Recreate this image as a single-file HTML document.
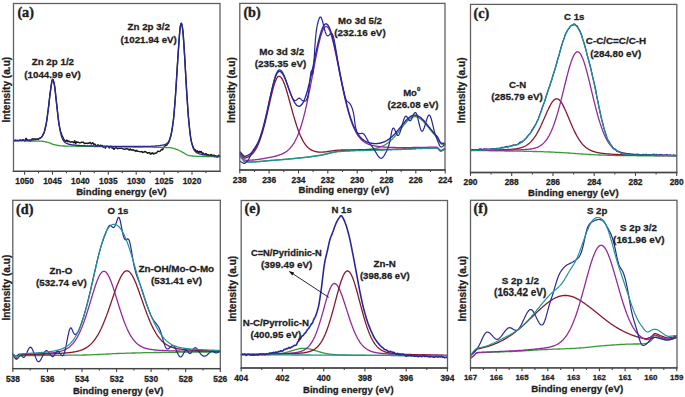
<!DOCTYPE html>
<html><head><meta charset="utf-8"><style>
html,body{margin:0;padding:0;background:#fff;width:685px;height:397px;overflow:hidden}
svg{display:block}
text{font-family:"Liberation Sans",sans-serif;font-weight:bold;fill:#1e1e1e;stroke:#1e1e1e;stroke-width:0.28px}
text.ser{font-family:"Liberation Serif",serif;stroke-width:0.4px}
</style></head><body>
<svg width="685" height="397" viewBox="0 0 685 397">
<rect width="685" height="397" fill="#fff"/>
<path d="M13.8,140.9L14.3,141.1L14.8,140.5L15.3,140.1L15.8,140.7L16.3,140.8L16.8,140.4L17.3,140.7L17.8,140.9L18.3,140.7L18.8,140.7L19.3,140.5L19.8,140.1L20.3,140.0L20.8,140.2L21.3,140.6L21.8,140.5L22.3,140.0L22.8,139.7L23.3,140.0L23.8,140.2L24.3,140.5L24.8,141.2L25.3,140.4L25.8,138.5L26.3,138.4L26.8,139.5L27.3,140.0L27.8,140.2L28.3,140.9L28.8,141.0L29.3,139.9L29.8,140.1L30.3,141.2L30.8,141.1L31.3,140.3L31.8,139.3L32.3,138.8L32.8,139.5L33.3,139.5L33.8,138.8L34.3,138.9L34.8,139.0L35.3,138.9L35.8,139.1L36.3,139.3L36.8,139.1L37.3,139.0L37.8,139.4L38.3,139.6L38.8,138.8L39.3,138.3L39.8,138.3L40.3,138.1L40.8,137.7L41.3,137.1L41.8,136.9L42.3,136.0L42.8,134.6L43.3,134.0L43.8,133.4L44.3,131.9L44.8,129.5L45.3,127.5L45.8,125.6L46.3,123.1L46.8,120.4L47.3,116.8L47.8,112.3L48.3,109.0L48.8,105.4L49.3,100.3L49.8,95.7L50.3,92.1L50.8,88.6L51.3,85.1L51.8,81.7L52.3,79.5L52.8,79.2L53.3,80.3L53.8,82.3L54.3,84.4L54.8,86.7L55.3,91.0L55.8,96.6L56.3,101.3L56.8,105.3L57.3,110.0L57.8,114.8L58.3,119.1L58.8,122.9L59.3,125.8L59.8,128.1L60.3,130.7L60.8,132.5L61.3,133.2L61.8,134.9L62.3,136.3L62.8,136.9L63.3,138.1L63.8,139.1L64.3,139.9L64.8,140.4L65.3,141.0L65.8,141.6L66.3,141.1L66.8,140.1L67.3,140.5L67.8,141.7L68.3,141.6L68.8,141.0L69.3,141.4L69.8,141.8L70.3,142.2L70.8,142.1L71.3,141.7L71.8,141.7L72.3,141.8L72.8,141.9L73.3,142.7L73.8,142.9L74.3,141.2L74.8,140.7L75.3,142.8L75.8,143.8L76.3,142.3L76.8,141.7L77.3,142.3L77.8,142.2L78.3,142.1L78.8,142.5L79.3,142.8L79.8,142.8L80.3,142.8L80.8,142.6L81.3,142.3L81.8,142.3L82.3,142.3L82.8,142.4L83.3,142.1L83.8,142.5L84.3,143.6L84.8,143.5L85.3,143.3L85.8,143.3L86.3,143.1L86.8,143.1L87.3,143.5L87.8,143.3L88.3,143.0L88.8,143.3L89.3,143.0L89.8,142.4L90.3,142.5L90.8,143.5L91.3,144.0L91.8,143.5L92.3,142.9L92.8,142.7L93.3,143.6L93.8,144.5L94.3,144.1L94.8,144.0L95.3,144.6L95.8,145.3L96.3,145.9L96.8,146.2L97.3,145.5L97.8,144.8L98.3,145.0L98.8,145.4L99.3,145.6L99.8,145.7L100.3,145.3L100.8,145.2L101.3,145.7L101.8,145.6L102.3,145.4L102.8,146.6L103.3,147.3L103.8,147.0L104.3,146.4L104.8,146.8L105.3,148.2L105.8,147.6L106.3,146.1L106.8,146.1L107.3,146.3L107.8,146.2L108.3,146.6L108.8,147.3L109.3,148.0L109.8,147.4L110.3,146.1L110.8,146.2L111.3,146.9L111.8,147.8L112.3,148.2L112.8,147.8L113.3,147.9L113.8,149.2L114.3,149.3L114.8,148.1L115.3,147.8L115.8,147.8L116.3,147.6L116.8,148.1L117.3,148.7L117.8,148.3L118.3,148.1L118.8,148.5L119.3,148.3L119.8,148.2L120.3,148.3L120.8,148.2L121.3,148.0L121.8,148.2L122.3,148.6L122.8,148.8L123.3,148.9L123.8,149.2L124.3,149.4L124.8,149.3L125.3,149.0L125.8,148.8L126.3,148.6L126.8,148.8L127.3,149.2L127.8,149.0L128.3,149.1L128.8,149.9L129.3,150.1L129.8,149.3L130.3,148.9L130.8,149.9L131.3,150.1L131.8,149.8L132.3,150.2L132.8,149.9L133.3,149.7L133.8,150.3L134.3,150.7L134.8,150.4L135.3,150.5L135.8,151.4L136.3,150.8L136.8,150.3L137.3,151.1L137.8,151.4L138.3,151.4L138.8,151.4L139.3,151.6L139.8,151.6L140.3,151.6L140.8,151.9L141.3,151.7L141.8,151.5L142.3,152.1L142.8,152.5L143.3,152.1L143.8,152.0L144.3,152.1L144.8,151.5L145.3,151.6L145.8,152.1L146.3,152.1L146.8,152.5L147.3,153.2L147.8,153.3L148.3,152.7L148.8,152.6L149.3,152.5L149.8,152.9L150.3,154.2L150.8,153.7L151.3,153.1L151.8,153.8L152.3,153.3L152.8,152.8L153.3,153.7L153.8,154.1L154.3,153.5L154.8,153.3L155.3,153.3L155.8,152.9L156.3,153.0L156.8,152.8L157.3,151.8L157.8,151.1L158.3,151.1L158.8,151.3L159.3,151.5L159.8,151.4L160.3,151.0L160.8,150.5L161.3,149.7L161.8,149.2L162.3,149.7L162.8,149.7L163.3,148.3L163.8,147.2L164.3,146.8L164.8,146.2L165.3,145.6L165.8,145.4L166.3,145.3L166.8,145.1L167.3,144.3L167.8,143.6L168.3,143.0L168.8,142.1L169.3,141.2L169.8,139.2L170.3,137.2L170.8,135.7L171.3,133.5L171.8,130.7L172.3,127.7L172.8,124.5L173.3,121.2L173.8,116.4L174.3,110.2L174.8,104.1L175.3,97.7L175.8,90.5L176.3,82.5L176.8,74.5L177.3,66.6L177.8,58.8L178.3,51.7L178.8,44.4L179.3,37.3L179.8,31.0L180.3,26.4L180.8,24.1L181.3,23.4L181.8,24.6L182.3,26.9L182.8,30.0L183.3,35.6L183.8,42.9L184.3,50.7L184.8,58.7L185.3,67.5L185.8,76.9L186.3,85.8L186.8,93.7L187.3,100.9L187.8,108.5L188.3,115.7L188.8,121.0L189.3,125.7L189.8,131.1L190.3,135.6L190.8,138.7L191.3,141.2L191.8,143.1L192.3,144.6L192.8,146.1L193.3,147.4L193.8,148.7L194.3,149.5L194.8,149.4L195.3,149.8L195.8,150.7L196.3,151.6L196.8,151.4L197.3,150.8L197.8,151.5L198.3,152.7L198.8,152.6L199.3,151.3L199.8,151.6L200.3,152.3L200.8,151.5L201.3,151.5L201.8,152.8L202.3,153.3L202.8,153.0L203.3,153.2L203.8,153.9L204.3,154.3L204.8,154.3L205.3,154.1L205.8,153.6L206.3,153.7L206.8,154.5L207.3,155.2L207.8,155.0L208.3,154.6L208.8,155.2L209.3,155.6L209.8,155.2L210.3,155.0L210.8,154.6L211.3,154.4L211.8,155.2L212.3,155.5L212.8,155.5L213.3,155.6L213.8,155.1L214.3,155.1L214.8,156.2L215.3,156.6L215.8,156.0L216.3,156.4L216.8,157.1L217.3,157.2L217.8,156.9L218.3,155.6L218.8,155.2L219.3,156.1L219.8,156.2" fill="none" stroke="#1a1a1a" stroke-width="1.4" stroke-linejoin="round" stroke-linecap="round" />
<path d="M13.8,140.8L14.3,140.8L14.8,140.8L15.3,140.8L15.8,140.8L16.3,140.8L16.8,140.8L17.3,140.8L17.8,140.9L18.3,140.9L18.8,140.9L19.3,140.9L19.8,140.9L20.3,140.9L20.8,140.9L21.3,140.9L21.8,140.9L22.3,140.9L22.8,140.9L23.3,140.9L23.8,140.9L24.3,140.9L24.8,140.9L25.3,140.9L25.8,141.0L26.3,141.0L26.8,141.0L27.3,141.0L27.8,141.0L28.3,141.0L28.8,141.0L29.3,141.0L29.8,141.0L30.3,141.0L30.8,141.0L31.3,141.0L31.8,141.0L32.3,141.0L32.8,141.0L33.3,141.0L33.8,141.0L34.3,141.0L34.8,141.0L35.3,141.0L35.8,141.0L36.3,141.0L36.8,141.1L37.3,141.1L37.8,141.1L38.3,141.1L38.8,141.1L39.3,141.1L39.8,141.1L40.3,141.1L40.8,141.1L41.3,141.2L41.8,141.2L42.3,141.3L42.8,141.3L43.3,141.4L43.8,141.5L44.3,141.6L44.8,141.7L45.3,141.8L45.8,141.9L46.3,142.0L46.8,142.1L47.3,142.2L47.8,142.3L48.3,142.5L48.8,142.6L49.3,142.8L49.8,143.0L50.3,143.2L50.8,143.4L51.3,143.6L51.8,143.9L52.3,144.1L52.8,144.3L53.3,144.4L53.8,144.6L54.3,144.7L54.8,144.8L55.3,144.9L55.8,145.0L56.3,145.1L56.8,145.2L57.3,145.3L57.8,145.4L58.3,145.5L58.8,145.6L59.3,145.7L59.8,145.7L60.3,145.8L60.8,145.8L61.3,145.9L61.8,145.9L62.3,145.9L62.8,145.9L63.3,146.0L63.8,146.0L64.3,146.0L64.8,146.0L65.3,146.0L65.8,146.1L66.3,146.1L66.8,146.1L67.3,146.1L67.8,146.1L68.3,146.1L68.8,146.1L69.3,146.1L69.8,146.1L70.3,146.2L70.8,146.2L71.3,146.2L71.8,146.2L72.3,146.2L72.8,146.2L73.3,146.2L73.8,146.2L74.3,146.2L74.8,146.2L75.3,146.2L75.8,146.2L76.3,146.3L76.8,146.3L77.3,146.3L77.8,146.3L78.3,146.3L78.8,146.3L79.3,146.3L79.8,146.3L80.3,146.3L80.8,146.3L81.3,146.3L81.8,146.3L82.3,146.3L82.8,146.3L83.3,146.3L83.8,146.3L84.3,146.3L84.8,146.3L85.3,146.3L85.8,146.4L86.3,146.4L86.8,146.4L87.3,146.4L87.8,146.4L88.3,146.4L88.8,146.4L89.3,146.4L89.8,146.4L90.3,146.4L90.8,146.4L91.3,146.4L91.8,146.4L92.3,146.4L92.8,146.4L93.3,146.4L93.8,146.4L94.3,146.5L94.8,146.5L95.3,146.5L95.8,146.5L96.3,146.5L96.8,146.5L97.3,146.5L97.8,146.5L98.3,146.5L98.8,146.5L99.3,146.5L99.8,146.5L100.3,146.5L100.8,146.5L101.3,146.5L101.8,146.5L102.3,146.5L102.8,146.6L103.3,146.6L103.8,146.6L104.3,146.6L104.8,146.6L105.3,146.6L105.8,146.6L106.3,146.6L106.8,146.6L107.3,146.6L107.8,146.6L108.3,146.6L108.8,146.6L109.3,146.6L109.8,146.6L110.3,146.6L110.8,146.6L111.3,146.7L111.8,146.7L112.3,146.7L112.8,146.7L113.3,146.7L113.8,146.7L114.3,146.7L114.8,146.7L115.3,146.7L115.8,146.7L116.3,146.7L116.8,146.7L117.3,146.7L117.8,146.7L118.3,146.7L118.8,146.7L119.3,146.8L119.8,146.8L120.3,146.8L120.8,146.8L121.3,146.8L121.8,146.8L122.3,146.8L122.8,146.8L123.3,146.8L123.8,146.8L124.3,146.8L124.8,146.8L125.3,146.8L125.8,146.8L126.3,146.8L126.8,146.9L127.3,146.9L127.8,146.9L128.3,146.9L128.8,146.9L129.3,146.9L129.8,146.9L130.3,146.9L130.8,146.9L131.3,146.9L131.8,146.9L132.3,146.9L132.8,146.9L133.3,146.9L133.8,147.0L134.3,147.0L134.8,147.0L135.3,147.0L135.8,147.0L136.3,147.0L136.8,147.0L137.3,147.0L137.8,147.0L138.3,147.0L138.8,147.0L139.3,147.0L139.8,147.0L140.3,147.0L140.8,147.1L141.3,147.1L141.8,147.1L142.3,147.1L142.8,147.1L143.3,147.1L143.8,147.1L144.3,147.1L144.8,147.1L145.3,147.1L145.8,147.1L146.3,147.1L146.8,147.1L147.3,147.2L147.8,147.2L148.3,147.2L148.8,147.2L149.3,147.2L149.8,147.2L150.3,147.2L150.8,147.2L151.3,147.2L151.8,147.2L152.3,147.2L152.8,147.3L153.3,147.3L153.8,147.3L154.3,147.3L154.8,147.3L155.3,147.3L155.8,147.3L156.3,147.3L156.8,147.3L157.3,147.3L157.8,147.4L158.3,147.4L158.8,147.4L159.3,147.4L159.8,147.4L160.3,147.4L160.8,147.4L161.3,147.4L161.8,147.4L162.3,147.4L162.8,147.5L163.3,147.5L163.8,147.5L164.3,147.5L164.8,147.5L165.3,147.5L165.8,147.5L166.3,147.5L166.8,147.6L167.3,147.6L167.8,147.6L168.3,147.6L168.8,147.6L169.3,147.7L169.8,147.7L170.3,147.7L170.8,147.8L171.3,147.8L171.8,147.9L172.3,148.0L172.8,148.2L173.3,148.3L173.8,148.4L174.3,148.6L174.8,148.8L175.3,148.9L175.8,149.1L176.3,149.3L176.8,149.4L177.3,149.6L177.8,149.8L178.3,150.0L178.8,150.3L179.3,150.5L179.8,150.8L180.3,151.0L180.8,151.3L181.3,151.6L181.8,151.9L182.3,152.1L182.8,152.4L183.3,152.7L183.8,152.9L184.3,153.2L184.8,153.6L185.3,153.9L185.8,154.2L186.3,154.5L186.8,154.8L187.3,155.0L187.8,155.3L188.3,155.4L188.8,155.6L189.3,155.6L189.8,155.7L190.3,155.8L190.8,155.8L191.3,155.9L191.8,155.9L192.3,156.0L192.8,156.0L193.3,156.1L193.8,156.1L194.3,156.1L194.8,156.2L195.3,156.2L195.8,156.2L196.3,156.2L196.8,156.3L197.3,156.3L197.8,156.3L198.3,156.3L198.8,156.4L199.3,156.4L199.8,156.4L200.3,156.4L200.8,156.4L201.3,156.4L201.8,156.5L202.3,156.5L202.8,156.5L203.3,156.5L203.8,156.5L204.3,156.5L204.8,156.6L205.3,156.6L205.8,156.6L206.3,156.6L206.8,156.6L207.3,156.6L207.8,156.6L208.3,156.6L208.8,156.7L209.3,156.7L209.8,156.7L210.3,156.7L210.8,156.7L211.3,156.7L211.8,156.7L212.3,156.7L212.8,156.7L213.3,156.7L213.8,156.8L214.3,156.8L214.8,156.8L215.3,156.8L215.8,156.8L216.3,156.8L216.8,156.8L217.3,156.8L217.8,156.8L218.3,156.8L218.8,156.8L219.3,156.8L219.8,156.8" fill="none" stroke="#389a38" stroke-width="1.3" stroke-linejoin="round" stroke-linecap="round" />
<path d="M13.8,140.4L14.3,140.4L14.8,140.4L15.3,140.4L15.8,140.4L16.3,140.4L16.8,140.4L17.3,140.4L17.8,140.4L18.3,140.4L18.8,140.4L19.3,140.4L19.8,140.4L20.3,140.4L20.8,140.4L21.3,140.4L21.8,140.4L22.3,140.3L22.8,140.3L23.3,140.3L23.8,140.3L24.3,140.3L24.8,140.3L25.3,140.3L25.8,140.2L26.3,140.2L26.8,140.2L27.3,140.2L27.8,140.2L28.3,140.1L28.8,140.1L29.3,140.1L29.8,140.0L30.3,140.0L30.8,140.0L31.3,139.9L31.8,139.9L32.3,139.8L32.8,139.8L33.3,139.7L33.8,139.7L34.3,139.6L34.8,139.5L35.3,139.5L35.8,139.4L36.3,139.3L36.8,139.2L37.3,139.1L37.8,139.0L38.3,138.8L38.8,138.6L39.3,138.5L39.8,138.2L40.3,137.9L40.8,137.6L41.3,137.2L41.8,136.7L42.3,136.1L42.8,135.4L43.3,134.5L43.8,133.3L44.3,132.0L44.8,130.3L45.3,128.3L45.8,126.0L46.3,123.3L46.8,120.2L47.3,116.7L47.8,113.0L48.3,108.9L48.8,104.7L49.3,100.3L49.8,96.0L50.3,91.8L50.8,88.0L51.3,84.7L51.8,82.1L52.3,80.4L52.8,79.8L53.3,80.4L53.8,82.0L54.3,84.5L54.8,87.9L55.3,91.9L55.8,96.2L56.3,100.8L56.8,105.5L57.3,110.1L57.8,114.4L58.3,118.5L58.8,122.3L59.3,125.7L59.8,128.7L60.3,131.4L60.8,133.6L61.3,135.6L61.8,137.2L62.3,138.5L62.8,139.6L63.3,140.5L63.8,141.2L64.3,141.8L64.8,142.3L65.3,142.7L65.8,143.0L66.3,143.3L66.8,143.5L67.3,143.7L67.8,143.9L68.3,144.1L68.8,144.2L69.3,144.3L69.8,144.4L70.3,144.5L70.8,144.6L71.3,144.7L71.8,144.8L72.3,144.8L72.8,144.9L73.3,145.0L73.8,145.0L74.3,145.1L74.8,145.1L75.3,145.2L75.8,145.2L76.3,145.3L76.8,145.3L77.3,145.4L77.8,145.4L78.3,145.4L78.8,145.5L79.3,145.5L79.8,145.5L80.3,145.6L80.8,145.6L81.3,145.6L81.8,145.6L82.3,145.7L82.8,145.7L83.3,145.7L83.8,145.7L84.3,145.7L84.8,145.8L85.3,145.8L85.8,145.8L86.3,145.8L86.8,145.8L87.3,145.9L87.8,145.9L88.3,145.9L88.8,145.9L89.3,145.9L89.8,145.9L90.3,145.9L90.8,146.0L91.3,146.0L91.8,146.0L92.3,146.0L92.8,146.0L93.3,146.0L93.8,146.0L94.3,146.0L94.8,146.1L95.3,146.1L95.8,146.1L96.3,146.1L96.8,146.1L97.3,146.1L97.8,146.1L98.3,146.1L98.8,146.1L99.3,146.1L99.8,146.2L100.3,146.2L100.8,146.2L101.3,146.2L101.8,146.2L102.3,146.2L102.8,146.2L103.3,146.2L103.8,146.2L104.3,146.2L104.8,146.2L105.3,146.2L105.8,146.3L106.3,146.3L106.8,146.3L107.3,146.3L107.8,146.3L108.3,146.3L108.8,146.3L109.3,146.3L109.8,146.3L110.3,146.3L110.8,146.3L111.3,146.3L111.8,146.3L112.3,146.3L112.8,146.3L113.3,146.4L113.8,146.4L114.3,146.4L114.8,146.4L115.3,146.4L115.8,146.4L116.3,146.4L116.8,146.4L117.3,146.4L117.8,146.4L118.3,146.4L118.8,146.4L119.3,146.4L119.8,146.4L120.3,146.4L120.8,146.4L121.3,146.4L121.8,146.4L122.3,146.4L122.8,146.4L123.3,146.4L123.8,146.5L124.3,146.5L124.8,146.5L125.3,146.5L125.8,146.5L126.3,146.5L126.8,146.5L127.3,146.5L127.8,146.5L128.3,146.5L128.8,146.5L129.3,146.5L129.8,146.5L130.3,146.5L130.8,146.5L131.3,146.5L131.8,146.5L132.3,146.5L132.8,146.5L133.3,146.5L133.8,146.5L134.3,146.5L134.8,146.5L135.3,146.5L135.8,146.5L136.3,146.5L136.8,146.5L137.3,146.5L137.8,146.5L138.3,146.5L138.8,146.5L139.3,146.5L139.8,146.5L140.3,146.5L140.8,146.5L141.3,146.5L141.8,146.5L142.3,146.5L142.8,146.5L143.3,146.4L143.8,146.4L144.3,146.4L144.8,146.4L145.3,146.4L145.8,146.4L146.3,146.4L146.8,146.4L147.3,146.4L147.8,146.4L148.3,146.3L148.8,146.3L149.3,146.3L149.8,146.3L150.3,146.3L150.8,146.3L151.3,146.2L151.8,146.2L152.3,146.2L152.8,146.2L153.3,146.1L153.8,146.1L154.3,146.1L154.8,146.1L155.3,146.0L155.8,146.0L156.3,146.0L156.8,145.9L157.3,145.9L157.8,145.8L158.3,145.8L158.8,145.7L159.3,145.7L159.8,145.6L160.3,145.5L160.8,145.4L161.3,145.4L161.8,145.3L162.3,145.2L162.8,145.1L163.3,145.0L163.8,144.8L164.3,144.7L164.8,144.5L165.3,144.3L165.8,144.1L166.3,143.8L166.8,143.5L167.3,143.1L167.8,142.6L168.3,142.0L168.8,141.3L169.3,140.4L169.8,139.2L170.3,137.8L170.8,136.1L171.3,134.0L171.8,131.5L172.3,128.6L172.8,125.1L173.3,121.0L173.8,116.2L174.3,110.9L174.8,104.9L175.3,98.2L175.8,91.0L176.3,83.4L176.8,75.4L177.3,67.1L177.8,58.9L178.3,51.0L178.8,43.5L179.3,36.8L179.8,31.1L180.3,26.8L180.8,24.1L181.3,23.1L181.8,23.9L182.3,26.5L182.8,30.8L183.3,36.4L183.8,43.3L184.3,51.0L184.8,59.4L185.3,68.0L185.8,76.8L186.3,85.4L186.8,93.7L187.3,101.5L187.8,108.7L188.3,115.3L188.8,121.2L189.3,126.4L189.8,131.0L190.3,134.9L190.8,138.3L191.3,141.1L191.8,143.5L192.3,145.4L192.8,147.0L193.3,148.3L193.8,149.4L194.3,150.3L194.8,151.0L195.3,151.5L195.8,152.0L196.3,152.4L196.8,152.7L197.3,153.0L197.8,153.3L198.3,153.5L198.8,153.7L199.3,153.8L199.8,154.0L200.3,154.1L200.8,154.2L201.3,154.4L201.8,154.5L202.3,154.6L202.8,154.7L203.3,154.8L203.8,154.9L204.3,154.9L204.8,155.0L205.3,155.1L205.8,155.2L206.3,155.2L206.8,155.3L207.3,155.4L207.8,155.4L208.3,155.5L208.8,155.5L209.3,155.6L209.8,155.6L210.3,155.7L210.8,155.7L211.3,155.7L211.8,155.8L212.3,155.8L212.8,155.9L213.3,155.9L213.8,155.9L214.3,156.0L214.8,156.0L215.3,156.0L215.8,156.0L216.3,156.1L216.8,156.1L217.3,156.1L217.8,156.1L218.3,156.2L218.8,156.2L219.3,156.2L219.8,156.2" fill="none" stroke="#28289a" stroke-width="1.3" stroke-linejoin="round" stroke-linecap="round" />
<rect x="13.5" y="3.5" width="206.5" height="167.8" fill="none" stroke="#606060" stroke-width="1.3"/>
<line x1="12.8" y1="171.3" x2="220.7" y2="171.3" stroke="#454545" stroke-width="1.3"/>
<line x1="24.6" y1="171.3" x2="24.6" y2="174.7" stroke="#454545" stroke-width="1.1"/>
<text x="24.6" y="184.1" font-size="8.35" text-anchor="middle" >1050</text>
<line x1="52.5" y1="171.3" x2="52.5" y2="174.7" stroke="#454545" stroke-width="1.1"/>
<text x="52.5" y="184.1" font-size="8.35" text-anchor="middle" >1045</text>
<line x1="80.4" y1="171.3" x2="80.4" y2="174.7" stroke="#454545" stroke-width="1.1"/>
<text x="80.4" y="184.1" font-size="8.35" text-anchor="middle" >1040</text>
<line x1="108.3" y1="171.3" x2="108.3" y2="174.7" stroke="#454545" stroke-width="1.1"/>
<text x="108.3" y="184.1" font-size="8.35" text-anchor="middle" >1035</text>
<line x1="136.2" y1="171.3" x2="136.2" y2="174.7" stroke="#454545" stroke-width="1.1"/>
<text x="136.2" y="184.1" font-size="8.35" text-anchor="middle" >1030</text>
<line x1="164.1" y1="171.3" x2="164.1" y2="174.7" stroke="#454545" stroke-width="1.1"/>
<text x="164.1" y="184.1" font-size="8.35" text-anchor="middle" >1025</text>
<line x1="192.0" y1="171.3" x2="192.0" y2="174.7" stroke="#454545" stroke-width="1.1"/>
<text x="192.0" y="184.1" font-size="8.35" text-anchor="middle" >1020</text>
<line x1="38.5" y1="171.3" x2="38.5" y2="173.3" stroke="#454545" stroke-width="1.1"/>
<line x1="66.5" y1="171.3" x2="66.5" y2="173.3" stroke="#454545" stroke-width="1.1"/>
<line x1="94.3" y1="171.3" x2="94.3" y2="173.3" stroke="#454545" stroke-width="1.1"/>
<line x1="122.2" y1="171.3" x2="122.2" y2="173.3" stroke="#454545" stroke-width="1.1"/>
<line x1="150.2" y1="171.3" x2="150.2" y2="173.3" stroke="#454545" stroke-width="1.1"/>
<line x1="178.0" y1="171.3" x2="178.0" y2="173.3" stroke="#454545" stroke-width="1.1"/>
<line x1="205.9" y1="171.3" x2="205.9" y2="173.3" stroke="#454545" stroke-width="1.1"/>
<text x="121.5" y="195.2" font-size="9.6" text-anchor="middle" >Binding energy (eV)</text>
<text x="0" y="0" font-size="10.15" text-anchor="middle" transform="translate(9.9,89.7) rotate(-90)">Intensity (a.u)</text>
<text x="17.4" y="17.3" font-size="14.2" text-anchor="start" class="ser">(a)</text>
<text x="52.9" y="64.5" font-size="9.785" text-anchor="middle" >Zn 2p 1/2</text>
<text x="52.5" y="78.1" font-size="9.785" text-anchor="middle" >(1044.99 eV)</text>
<text x="148.7" y="29.7" font-size="9.785" text-anchor="middle" >Zn 2p 3/2</text>
<text x="148.7" y="42.8" font-size="9.7335" text-anchor="middle" >(1021.94 eV)</text>
<path d="M240.2,156.0L240.7,156.7L241.2,157.4L241.7,158.1L242.2,158.7L242.7,159.4L243.2,160.1L243.7,160.8L244.2,161.3L244.7,161.7L245.2,161.7L245.7,161.8L246.2,161.8L246.7,161.8L247.2,161.9L247.7,161.9L248.2,161.9L248.7,161.9L249.2,161.9L249.7,161.9L250.2,161.9L250.7,161.9L251.2,161.9L251.7,161.9L252.2,161.9L252.7,161.9L253.2,161.9L253.7,161.8L254.2,161.8L254.7,161.8L255.2,161.8L255.7,161.7L256.2,161.7L256.7,161.7L257.2,161.6L257.7,161.6L258.2,161.6L258.7,161.5L259.2,161.5L259.7,161.4L260.2,161.4L260.7,161.3L261.2,161.3L261.7,161.3L262.2,161.2L262.7,161.2L263.2,161.1L263.7,161.1L264.2,161.0L264.7,161.0L265.2,160.9L265.7,160.9L266.2,160.8L266.7,160.8L267.2,160.7L267.7,160.7L268.2,160.7L268.7,160.6L269.2,160.6L269.7,160.5L270.2,160.5L270.7,160.5L271.2,160.4L271.7,160.4L272.2,160.3L272.7,160.3L273.2,160.3L273.7,160.2L274.2,160.2L274.7,160.1L275.2,160.1L275.7,160.1L276.2,160.0L276.7,160.0L277.2,159.9L277.7,159.9L278.2,159.9L278.7,159.8L279.2,159.8L279.7,159.7L280.2,159.7L280.7,159.7L281.2,159.6L281.7,159.6L282.2,159.5L282.7,159.5L283.2,159.4L283.7,159.4L284.2,159.4L284.7,159.3L285.2,159.3L285.7,159.2L286.2,159.2L286.7,159.1L287.2,159.1L287.7,159.1L288.2,159.0L288.7,159.0L289.2,158.9L289.7,158.9L290.2,158.8L290.7,158.8L291.2,158.7L291.7,158.7L292.2,158.6L292.7,158.6L293.2,158.5L293.7,158.5L294.2,158.4L294.7,158.4L295.2,158.3L295.7,158.3L296.2,158.2L296.7,158.2L297.2,158.1L297.7,158.1L298.2,158.0L298.7,158.0L299.2,157.9L299.7,157.9L300.2,157.8L300.7,157.8L301.2,157.7L301.7,157.7L302.2,157.6L302.7,157.6L303.2,157.5L303.7,157.4L304.2,157.4L304.7,157.3L305.2,157.3L305.7,157.2L306.2,157.2L306.7,157.1L307.2,157.0L307.7,157.0L308.2,156.9L308.7,156.8L309.2,156.8L309.7,156.7L310.2,156.7L310.7,156.6L311.2,156.5L311.7,156.5L312.2,156.4L312.7,156.3L313.2,156.2L313.7,156.2L314.2,156.1L314.7,156.0L315.2,156.0L315.7,155.9L316.2,155.8L316.7,155.7L317.2,155.7L317.7,155.6L318.2,155.5L318.7,155.4L319.2,155.4L319.7,155.3L320.2,155.2L320.7,155.1L321.2,155.0L321.7,154.9L322.2,154.8L322.7,154.7L323.2,154.6L323.7,154.5L324.2,154.4L324.7,154.2L325.2,154.1L325.7,154.0L326.2,153.9L326.7,153.7L327.2,153.6L327.7,153.5L328.2,153.4L328.7,153.3L329.2,153.1L329.7,153.0L330.2,152.9L330.7,152.8L331.2,152.6L331.7,152.5L332.2,152.4L332.7,152.3L333.2,152.2L333.7,152.1L334.2,152.0L334.7,151.9L335.2,151.8L335.7,151.7L336.2,151.6L336.7,151.5L337.2,151.5L337.7,151.4L338.2,151.3L338.7,151.3L339.2,151.2L339.7,151.2L340.2,151.2L340.7,151.1L341.2,151.1L341.7,151.0L342.2,151.0L342.7,151.0L343.2,150.9L343.7,150.9L344.2,150.9L344.7,150.8L345.2,150.8L345.7,150.8L346.2,150.7L346.7,150.7L347.2,150.7L347.7,150.7L348.2,150.6L348.7,150.6L349.2,150.6L349.7,150.5L350.2,150.5L350.7,150.5L351.2,150.4L351.7,150.4L352.2,150.4L352.7,150.4L353.2,150.3L353.7,150.3L354.2,150.3L354.7,150.2L355.2,150.2L355.7,150.2L356.2,150.2L356.7,150.1L357.2,150.1L357.7,150.1L358.2,150.0L358.7,150.0L359.2,150.0L359.7,150.0L360.2,149.9L360.7,149.9L361.2,149.9L361.7,149.8L362.2,149.8L362.7,149.8L363.2,149.7L363.7,149.7L364.2,149.7L364.7,149.6L365.2,149.6L365.7,149.6L366.2,149.5L366.7,149.5L367.2,149.4L367.7,149.4L368.2,149.3L368.7,149.3L369.2,149.2L369.7,149.2L370.2,149.1L370.7,149.1L371.2,149.0L371.7,148.9L372.2,148.9L372.7,148.8L373.2,148.7L373.7,148.6L374.2,148.5L374.7,148.5L375.2,148.4L375.7,148.3L376.2,148.1L376.7,148.0L377.2,147.9L377.7,147.8L378.2,147.6L378.7,147.5L379.2,147.3L379.7,147.2L380.2,147.0L380.7,146.8L381.2,146.6L381.7,146.4L382.2,146.2L382.7,146.0L383.2,145.7L383.7,145.5L384.2,145.2L384.7,145.0L385.2,144.7L385.7,144.4L386.2,144.1L386.7,143.7L387.2,143.4L387.7,143.0L388.2,142.7L388.7,142.3L389.2,141.9L389.7,141.5L390.2,141.0L390.7,140.6L391.2,140.1L391.7,139.7L392.2,139.2L392.7,138.7L393.2,138.1L393.7,137.6L394.2,137.1L394.7,136.5L395.2,135.9L395.7,135.4L396.2,134.8L396.7,134.2L397.2,133.5L397.7,132.9L398.2,132.3L398.7,131.7L399.2,131.0L399.7,130.4L400.2,129.7L400.7,129.1L401.2,128.4L401.7,127.8L402.2,127.1L402.7,126.5L403.2,125.9L403.7,125.2L404.2,124.6L404.7,124.0L405.2,123.4L405.7,122.8L406.2,122.2L406.7,121.7L407.2,121.2L407.7,120.6L408.2,120.2L408.7,119.7L409.2,119.3L409.7,118.9L410.2,118.5L410.7,118.2L411.2,117.8L411.7,117.6L412.2,117.3L412.7,117.1L413.2,117.0L413.7,116.8L414.2,116.8L414.7,116.7L415.2,116.7L415.7,116.7L416.2,116.8L416.7,116.9L417.2,117.1L417.7,117.3L418.2,117.5L418.7,117.8L419.2,118.0L419.7,118.4L420.2,118.7L420.7,119.1L421.2,119.5L421.7,120.0L422.2,120.4L422.7,120.9L423.2,121.4L423.7,121.9L424.2,122.5L424.7,123.0L425.2,123.6L425.7,124.2L426.2,124.8L426.7,125.4L427.2,126.0L427.7,126.6L428.2,127.2L428.7,127.8L429.2,128.4L429.7,129.1L430.2,129.7L430.7,130.3L431.2,130.9L431.7,131.5L432.2,132.1L432.7,132.7L433.2,133.3L433.7,133.8L434.2,134.4L434.7,134.9L435.2,135.5L435.7,136.0L436.2,136.5L436.7,137.0L437.2,137.6L437.7,138.4L438.2,139.4L438.7,140.3L439.2,141.2L439.7,142.3L440.2,143.2L440.7,143.6L441.2,143.9L441.7,144.1L442.2,144.2L442.7,144.3L443.2,144.3L443.7,144.3L444.2,144.4L444.7,144.5" fill="none" stroke="#389a38" stroke-width="1.3" stroke-linejoin="round" stroke-linecap="round" />
<path d="M240.2,153.4L240.7,154.0L241.2,154.6L241.7,155.2L242.2,155.7L242.7,156.3L243.2,156.9L243.7,157.5L244.2,157.9L244.7,158.1L245.2,158.0L245.7,157.9L246.2,157.7L246.7,157.6L247.2,157.4L247.7,157.2L248.2,156.9L248.7,156.7L249.2,156.4L249.7,156.1L250.2,155.7L250.7,155.4L251.2,154.9L251.7,154.5L252.2,154.0L252.7,153.5L253.2,152.9L253.7,152.3L254.2,151.7L254.7,151.0L255.2,150.2L255.7,149.4L256.2,148.5L256.7,147.6L257.2,146.6L257.7,145.6L258.2,144.5L258.7,143.3L259.2,142.0L259.7,140.7L260.2,139.4L260.7,137.9L261.2,136.4L261.7,134.8L262.2,133.2L262.7,131.5L263.2,129.7L263.7,127.9L264.2,126.0L264.7,124.0L265.2,122.0L265.7,120.0L266.2,117.9L266.7,115.8L267.2,113.6L267.7,111.4L268.2,109.2L268.7,107.0L269.2,104.8L269.7,102.6L270.2,100.4L270.7,98.2L271.2,96.1L271.7,94.0L272.2,91.9L272.7,90.0L273.2,88.1L273.7,86.3L274.2,84.6L274.7,83.1L275.2,81.7L275.7,80.4L276.2,79.3L276.7,78.3L277.2,77.5L277.7,77.0L278.2,76.5L278.7,76.3L279.2,76.3L279.7,76.4L280.2,76.7L280.7,77.1L281.2,77.6L281.7,78.3L282.2,79.1L282.7,80.0L283.2,81.1L283.7,82.2L284.2,83.5L284.7,84.8L285.2,86.3L285.7,87.8L286.2,89.4L286.7,91.0L287.2,92.7L287.7,94.4L288.2,96.2L288.7,98.0L289.2,99.8L289.7,101.6L290.2,103.5L290.7,105.3L291.2,107.1L291.7,109.0L292.2,110.8L292.7,112.6L293.2,114.4L293.7,116.1L294.2,117.8L294.7,119.5L295.2,121.2L295.7,122.8L296.2,124.3L296.7,125.9L297.2,127.3L297.7,128.8L298.2,130.2L298.7,131.5L299.2,132.8L299.7,134.0L300.2,135.2L300.7,136.3L301.2,137.4L301.7,138.4L302.2,139.4L302.7,140.4L303.2,141.2L303.7,142.1L304.2,142.9L304.7,143.6L305.2,144.3L305.7,145.0L306.2,145.6L306.7,146.2L307.2,146.7L307.7,147.2L308.2,147.7L308.7,148.1L309.2,148.6L309.7,148.9L310.2,149.3L310.7,149.6L311.2,149.9L311.7,150.2L312.2,150.4L312.7,150.6L313.2,150.8L313.7,151.0L314.2,151.2L314.7,151.4L315.2,151.5L315.7,151.6L316.2,151.7L316.7,151.8L317.2,151.9L317.7,152.0L318.2,152.0L318.7,152.1L319.2,152.1L319.7,152.2L320.2,152.2L320.7,152.2L321.2,152.2L321.7,152.2L322.2,152.1L322.7,152.1L323.2,152.1L323.7,152.0L324.2,152.0L324.7,151.9L325.2,151.9L325.7,151.8L326.2,151.8L326.7,151.7L327.2,151.6L327.7,151.5L328.2,151.5L328.7,151.4L329.2,151.3L329.7,151.2L330.2,151.2L330.7,151.1L331.2,151.0L331.7,150.9L332.2,150.8L332.7,150.8L333.2,150.7L333.7,150.6L334.2,150.6L334.7,150.5L335.2,150.4L335.7,150.4L336.2,150.3L336.7,150.3L337.2,150.2L337.7,150.2L338.2,150.2L338.7,150.1L339.2,150.1L339.7,150.1L340.2,150.1L340.7,150.1L341.2,150.0L341.7,150.0L342.2,150.0L342.7,150.0L343.2,150.0L343.7,150.0L344.2,150.0L344.7,150.0L345.2,150.0L345.7,150.0L346.2,150.0L346.7,149.9L347.2,149.9L347.7,149.9L348.2,149.9L348.7,149.9L349.2,149.9L349.7,149.9L350.2,149.9L350.7,149.9L351.2,149.9L351.7,149.9L352.2,149.9L352.7,149.8L353.2,149.8L353.7,149.8L354.2,149.8L354.7,149.8L355.2,149.8L355.7,149.8L356.2,149.8L356.7,149.8L357.2,149.8L357.7,149.8L358.2,149.8L358.7,149.8L359.2,149.7L359.7,149.7L360.2,149.7L360.7,149.7L361.2,149.7L361.7,149.7L362.2,149.7L362.7,149.7L363.2,149.7L363.7,149.7L364.2,149.7L364.7,149.7L365.2,149.7L365.7,149.7L366.2,149.7L366.7,149.7L367.2,149.7L367.7,149.6L368.2,149.6L368.7,149.6L369.2,149.6L369.7,149.6L370.2,149.6L370.7,149.6L371.2,149.6L371.7,149.6L372.2,149.6L372.7,149.6L373.2,149.6L373.7,149.6L374.2,149.6L374.7,149.6L375.2,149.6L375.7,149.6L376.2,149.6L376.7,149.5L377.2,149.5L377.7,149.5L378.2,149.5L378.7,149.5L379.2,149.5L379.7,149.5L380.2,149.5L380.7,149.5L381.2,149.5L381.7,149.5L382.2,149.5L382.7,149.5L383.2,149.5L383.7,149.5L384.2,149.5L384.7,149.4L385.2,149.4L385.7,149.4L386.2,149.4L386.7,149.4L387.2,149.4L387.7,149.4L388.2,149.4L388.7,149.4L389.2,149.4L389.7,149.4L390.2,149.4L390.7,149.3L391.2,149.3L391.7,149.3L392.2,149.3L392.7,149.3L393.2,149.3L393.7,149.3L394.2,149.3L394.7,149.3L395.2,149.2L395.7,149.2L396.2,149.2L396.7,149.2L397.2,149.2L397.7,149.2L398.2,149.2L398.7,149.2L399.2,149.1L399.7,149.1L400.2,149.1L400.7,149.1L401.2,149.1L401.7,149.1L402.2,149.1L402.7,149.0L403.2,149.0L403.7,149.0L404.2,149.0L404.7,149.0L405.2,148.9L405.7,148.9L406.2,148.9L406.7,148.9L407.2,148.9L407.7,148.8L408.2,148.8L408.7,148.8L409.2,148.8L409.7,148.7L410.2,148.7L410.7,148.7L411.2,148.7L411.7,148.7L412.2,148.6L412.7,148.6L413.2,148.6L413.7,148.6L414.2,148.5L414.7,148.5L415.2,148.5L415.7,148.5L416.2,148.4L416.7,148.4L417.2,148.4L417.7,148.4L418.2,148.4L418.7,148.3L419.2,148.3L419.7,148.3L420.2,148.3L420.7,148.3L421.2,148.2L421.7,148.2L422.2,148.2L422.7,148.2L423.2,148.2L423.7,148.1L424.2,148.1L424.7,148.1L425.2,148.1L425.7,148.1L426.2,148.0L426.7,148.0L427.2,148.0L427.7,148.0L428.2,148.0L428.7,148.0L429.2,148.0L429.7,148.0L430.2,147.9L430.7,147.9L431.2,147.9L431.7,147.9L432.2,147.9L432.7,147.9L433.2,147.9L433.7,147.9L434.2,147.9L434.7,147.9L435.2,147.9L435.7,147.9L436.2,147.9L436.7,147.9L437.2,148.0L437.7,148.3L438.2,148.8L438.7,149.3L439.2,149.8L439.7,150.4L440.2,150.9L440.7,151.0L441.2,150.9L441.7,150.7L442.2,150.5L442.7,150.3L443.2,150.0L443.7,149.6L444.2,149.4L444.7,149.3" fill="none" stroke="#86192e" stroke-width="1.3" stroke-linejoin="round" stroke-linecap="round" />
<path d="M240.2,154.7L240.7,155.4L241.2,156.0L241.7,156.7L242.2,157.3L242.7,158.0L243.2,158.7L243.7,159.3L244.2,159.8L244.7,160.2L245.2,160.2L245.7,160.2L246.2,160.3L246.7,160.3L247.2,160.3L247.7,160.3L248.2,160.3L248.7,160.3L249.2,160.2L249.7,160.2L250.2,160.2L250.7,160.2L251.2,160.2L251.7,160.1L252.2,160.1L252.7,160.0L253.2,160.0L253.7,160.0L254.2,159.9L254.7,159.9L255.2,159.8L255.7,159.7L256.2,159.7L256.7,159.6L257.2,159.6L257.7,159.5L258.2,159.4L258.7,159.4L259.2,159.3L259.7,159.2L260.2,159.1L260.7,159.0L261.2,159.0L261.7,158.9L262.2,158.8L262.7,158.7L263.2,158.6L263.7,158.6L264.2,158.5L264.7,158.4L265.2,158.3L265.7,158.2L266.2,158.1L266.7,158.0L267.2,157.9L267.7,157.8L268.2,157.7L268.7,157.6L269.2,157.5L269.7,157.4L270.2,157.4L270.7,157.3L271.2,157.2L271.7,157.1L272.2,156.9L272.7,156.8L273.2,156.7L273.7,156.6L274.2,156.5L274.7,156.4L275.2,156.3L275.7,156.1L276.2,156.0L276.7,155.9L277.2,155.7L277.7,155.6L278.2,155.4L278.7,155.2L279.2,155.1L279.7,154.9L280.2,154.7L280.7,154.5L281.2,154.3L281.7,154.1L282.2,153.9L282.7,153.7L283.2,153.4L283.7,153.2L284.2,152.9L284.7,152.6L285.2,152.3L285.7,152.0L286.2,151.6L286.7,151.3L287.2,150.9L287.7,150.5L288.2,150.1L288.7,149.6L289.2,149.1L289.7,148.6L290.2,148.1L290.7,147.5L291.2,146.9L291.7,146.3L292.2,145.6L292.7,144.9L293.2,144.2L293.7,143.4L294.2,142.6L294.7,141.7L295.2,140.8L295.7,139.8L296.2,138.8L296.7,137.8L297.2,136.7L297.7,135.5L298.2,134.3L298.7,133.0L299.2,131.6L299.7,130.2L300.2,128.8L300.7,127.3L301.2,125.7L301.7,124.1L302.2,122.4L302.7,120.6L303.2,118.8L303.7,116.9L304.2,114.9L304.7,112.9L305.2,110.8L305.7,108.7L306.2,106.5L306.7,104.3L307.2,102.0L307.7,99.7L308.2,97.3L308.7,94.8L309.2,92.4L309.7,89.9L310.2,87.3L310.7,84.7L311.2,82.1L311.7,79.5L312.2,76.9L312.7,74.2L313.2,71.6L313.7,68.9L314.2,66.3L314.7,63.7L315.2,61.1L315.7,58.5L316.2,56.0L316.7,53.5L317.2,51.1L317.7,48.7L318.2,46.4L318.7,44.2L319.2,42.1L319.7,40.1L320.2,38.2L320.7,36.4L321.2,34.7L321.7,33.2L322.2,31.8L322.7,30.6L323.2,29.5L323.7,28.5L324.2,27.8L324.7,27.2L325.2,26.8L325.7,26.5L326.2,26.5L326.7,26.6L327.2,26.9L327.7,27.3L328.2,28.0L328.7,28.8L329.2,29.7L329.7,30.8L330.2,32.1L330.7,33.5L331.2,35.0L331.7,36.7L332.2,38.5L332.7,40.4L333.2,42.3L333.7,44.4L334.2,46.6L334.7,48.8L335.2,51.1L335.7,53.4L336.2,55.8L336.7,58.3L337.2,60.8L337.7,63.3L338.2,65.8L338.7,68.3L339.2,70.8L339.7,73.4L340.2,75.9L340.7,78.4L341.2,80.9L341.7,83.4L342.2,85.8L342.7,88.2L343.2,90.6L343.7,92.9L344.2,95.2L344.7,97.4L345.2,99.6L345.7,101.7L346.2,103.7L346.7,105.7L347.2,107.7L347.7,109.6L348.2,111.4L348.7,113.2L349.2,114.9L349.7,116.6L350.2,118.1L350.7,119.7L351.2,121.1L351.7,122.5L352.2,123.9L352.7,125.2L353.2,126.4L353.7,127.6L354.2,128.7L354.7,129.8L355.2,130.8L355.7,131.7L356.2,132.7L356.7,133.5L357.2,134.4L357.7,135.1L358.2,135.9L358.7,136.6L359.2,137.2L359.7,137.8L360.2,138.4L360.7,139.0L361.2,139.5L361.7,140.0L362.2,140.4L362.7,140.8L363.2,141.2L363.7,141.6L364.2,142.0L364.7,142.3L365.2,142.6L365.7,142.9L366.2,143.2L366.7,143.4L367.2,143.7L367.7,143.9L368.2,144.1L368.7,144.3L369.2,144.5L369.7,144.7L370.2,144.8L370.7,145.0L371.2,145.1L371.7,145.3L372.2,145.4L372.7,145.5L373.2,145.6L373.7,145.7L374.2,145.8L374.7,145.9L375.2,146.0L375.7,146.1L376.2,146.2L376.7,146.2L377.2,146.3L377.7,146.4L378.2,146.4L378.7,146.5L379.2,146.6L379.7,146.6L380.2,146.7L380.7,146.7L381.2,146.8L381.7,146.8L382.2,146.9L382.7,146.9L383.2,146.9L383.7,147.0L384.2,147.0L384.7,147.1L385.2,147.1L385.7,147.1L386.2,147.2L386.7,147.2L387.2,147.2L387.7,147.2L388.2,147.3L388.7,147.3L389.2,147.3L389.7,147.3L390.2,147.4L390.7,147.4L391.2,147.4L391.7,147.4L392.2,147.5L392.7,147.5L393.2,147.5L393.7,147.5L394.2,147.5L394.7,147.5L395.2,147.5L395.7,147.6L396.2,147.6L396.7,147.6L397.2,147.6L397.7,147.6L398.2,147.6L398.7,147.6L399.2,147.6L399.7,147.6L400.2,147.6L400.7,147.6L401.2,147.7L401.7,147.7L402.2,147.7L402.7,147.7L403.2,147.7L403.7,147.7L404.2,147.7L404.7,147.7L405.2,147.7L405.7,147.7L406.2,147.6L406.7,147.6L407.2,147.6L407.7,147.6L408.2,147.6L408.7,147.6L409.2,147.6L409.7,147.6L410.2,147.6L410.7,147.6L411.2,147.6L411.7,147.6L412.2,147.6L412.7,147.5L413.2,147.5L413.7,147.5L414.2,147.5L414.7,147.5L415.2,147.5L415.7,147.5L416.2,147.5L416.7,147.5L417.2,147.4L417.7,147.4L418.2,147.4L418.7,147.4L419.2,147.4L419.7,147.4L420.2,147.4L420.7,147.4L421.2,147.4L421.7,147.3L422.2,147.3L422.7,147.3L423.2,147.3L423.7,147.3L424.2,147.3L424.7,147.3L425.2,147.3L425.7,147.3L426.2,147.3L426.7,147.3L427.2,147.3L427.7,147.2L428.2,147.2L428.7,147.2L429.2,147.2L429.7,147.2L430.2,147.2L430.7,147.2L431.2,147.2L431.7,147.2L432.2,147.2L432.7,147.2L433.2,147.2L433.7,147.2L434.2,147.2L434.7,147.2L435.2,147.2L435.7,147.2L436.2,147.2L436.7,147.2L437.2,147.4L437.7,147.7L438.2,148.2L438.7,148.7L439.2,149.2L439.7,149.8L440.2,150.3L440.7,150.4L441.2,150.3L441.7,150.1L442.2,149.9L442.7,149.7L443.2,149.4L443.7,149.1L444.2,148.9L444.7,148.7" fill="none" stroke="#922a9c" stroke-width="1.3" stroke-linejoin="round" stroke-linecap="round" />
<path d="M240.2,156.1L240.7,156.8L241.2,157.5L241.7,158.1L242.2,158.8L242.7,159.4L243.2,160.2L243.7,160.8L244.2,161.4L244.7,161.7L245.2,161.8L245.7,161.9L246.2,161.9L246.7,161.9L247.2,161.9L247.7,162.0L248.2,162.0L248.7,162.0L249.2,162.0L249.7,162.0L250.2,162.0L250.7,162.0L251.2,162.0L251.7,162.0L252.2,162.0L252.7,162.0L253.2,161.9L253.7,161.9L254.2,161.9L254.7,161.9L255.2,161.8L255.7,161.8L256.2,161.8L256.7,161.7L257.2,161.7L257.7,161.7L258.2,161.6L258.7,161.6L259.2,161.6L259.7,161.5L260.2,161.5L260.7,161.4L261.2,161.4L261.7,161.3L262.2,161.3L262.7,161.2L263.2,161.2L263.7,161.2L264.2,161.1L264.7,161.1L265.2,161.0L265.7,161.0L266.2,160.9L266.7,160.9L267.2,160.8L267.7,160.8L268.2,160.7L268.7,160.7L269.2,160.7L269.7,160.6L270.2,160.6L270.7,160.5L271.2,160.5L271.7,160.5L272.2,160.4L272.7,160.4L273.2,160.4L273.7,160.3L274.2,160.3L274.7,160.2L275.2,160.2L275.7,160.2L276.2,160.1L276.7,160.1L277.2,160.0L277.7,160.0L278.2,160.0L278.7,159.9L279.2,159.9L279.7,159.8L280.2,159.8L280.7,159.8L281.2,159.7L281.7,159.7L282.2,159.6L282.7,159.6L283.2,159.6L283.7,159.5L284.2,159.5L284.7,159.4L285.2,159.4L285.7,159.3L286.2,159.3L286.7,159.3L287.2,159.2L287.7,159.2L288.2,159.1L288.7,159.1L289.2,159.0L289.7,159.0L290.2,158.9L290.7,158.9L291.2,158.9L291.7,158.8L292.2,158.8L292.7,158.7L293.2,158.7L293.7,158.6L294.2,158.6L294.7,158.5L295.2,158.5L295.7,158.4L296.2,158.4L296.7,158.3L297.2,158.3L297.7,158.2L298.2,158.2L298.7,158.1L299.2,158.1L299.7,158.0L300.2,158.0L300.7,157.9L301.2,157.9L301.7,157.8L302.2,157.8L302.7,157.7L303.2,157.7L303.7,157.6L304.2,157.5L304.7,157.5L305.2,157.4L305.7,157.4L306.2,157.3L306.7,157.3L307.2,157.2L307.7,157.1L308.2,157.1L308.7,157.0L309.2,157.0L309.7,156.9L310.2,156.8L310.7,156.8L311.2,156.7L311.7,156.6L312.2,156.6L312.7,156.5L313.2,156.4L313.7,156.4L314.2,156.3L314.7,156.2L315.2,156.2L315.7,156.1L316.2,156.0L316.7,155.9L317.2,155.9L317.7,155.8L318.2,155.7L318.7,155.6L319.2,155.6L319.7,155.5L320.2,155.4L320.7,155.3L321.2,155.2L321.7,155.1L322.2,155.0L322.7,154.9L323.2,154.8L323.7,154.7L324.2,154.6L324.7,154.5L325.2,154.4L325.7,154.2L326.2,154.1L326.7,154.0L327.2,153.9L327.7,153.8L328.2,153.6L328.7,153.5L329.2,153.4L329.7,153.3L330.2,153.2L330.7,153.0L331.2,152.9L331.7,152.8L332.2,152.7L332.7,152.6L333.2,152.5L333.7,152.4L334.2,152.3L334.7,152.2L335.2,152.1L335.7,152.0L336.2,151.9L336.7,151.9L337.2,151.8L337.7,151.7L338.2,151.7L338.7,151.6L339.2,151.6L339.7,151.5L340.2,151.5L340.7,151.5L341.2,151.4L341.7,151.4L342.2,151.4L342.7,151.3L343.2,151.3L343.7,151.3L344.2,151.2L344.7,151.2L345.2,151.2L345.7,151.2L346.2,151.1L346.7,151.1L347.2,151.1L347.7,151.1L348.2,151.0L348.7,151.0L349.2,151.0L349.7,151.0L350.2,150.9L350.7,150.9L351.2,150.9L351.7,150.9L352.2,150.9L352.7,150.8L353.2,150.8L353.7,150.8L354.2,150.8L354.7,150.8L355.2,150.7L355.7,150.7L356.2,150.7L356.7,150.7L357.2,150.7L357.7,150.6L358.2,150.6L358.7,150.6L359.2,150.6L359.7,150.6L360.2,150.6L360.7,150.5L361.2,150.5L361.7,150.5L362.2,150.5L362.7,150.5L363.2,150.5L363.7,150.5L364.2,150.4L364.7,150.4L365.2,150.4L365.7,150.4L366.2,150.4L366.7,150.4L367.2,150.4L367.7,150.3L368.2,150.3L368.7,150.3L369.2,150.3L369.7,150.3L370.2,150.3L370.7,150.3L371.2,150.3L371.7,150.2L372.2,150.2L372.7,150.2L373.2,150.2L373.7,150.2L374.2,150.2L374.7,150.2L375.2,150.2L375.7,150.1L376.2,150.1L376.7,150.1L377.2,150.1L377.7,150.1L378.2,150.1L378.7,150.1L379.2,150.1L379.7,150.1L380.2,150.0L380.7,150.0L381.2,150.0L381.7,150.0L382.2,150.0L382.7,150.0L383.2,150.0L383.7,150.0L384.2,150.0L384.7,149.9L385.2,149.9L385.7,149.9L386.2,149.9L386.7,149.9L387.2,149.9L387.7,149.9L388.2,149.9L388.7,149.8L389.2,149.8L389.7,149.8L390.2,149.8L390.7,149.8L391.2,149.8L391.7,149.8L392.2,149.7L392.7,149.7L393.2,149.7L393.7,149.7L394.2,149.7L394.7,149.7L395.2,149.7L395.7,149.6L396.2,149.6L396.7,149.6L397.2,149.6L397.7,149.6L398.2,149.6L398.7,149.5L399.2,149.5L399.7,149.5L400.2,149.5L400.7,149.5L401.2,149.5L401.7,149.4L402.2,149.4L402.7,149.4L403.2,149.4L403.7,149.4L404.2,149.3L404.7,149.3L405.2,149.3L405.7,149.3L406.2,149.2L406.7,149.2L407.2,149.2L407.7,149.2L408.2,149.1L408.7,149.1L409.2,149.1L409.7,149.1L410.2,149.0L410.7,149.0L411.2,149.0L411.7,149.0L412.2,148.9L412.7,148.9L413.2,148.9L413.7,148.9L414.2,148.8L414.7,148.8L415.2,148.8L415.7,148.8L416.2,148.7L416.7,148.7L417.2,148.7L417.7,148.7L418.2,148.6L418.7,148.6L419.2,148.6L419.7,148.6L420.2,148.6L420.7,148.5L421.2,148.5L421.7,148.5L422.2,148.5L422.7,148.4L423.2,148.4L423.7,148.4L424.2,148.4L424.7,148.4L425.2,148.3L425.7,148.3L426.2,148.3L426.7,148.3L427.2,148.3L427.7,148.3L428.2,148.2L428.7,148.2L429.2,148.2L429.7,148.2L430.2,148.2L430.7,148.2L431.2,148.2L431.7,148.2L432.2,148.1L432.7,148.1L433.2,148.1L433.7,148.1L434.2,148.1L434.7,148.1L435.2,148.1L435.7,148.1L436.2,148.1L436.7,148.1L437.2,148.2L437.7,148.6L438.2,149.0L438.7,149.5L439.2,150.0L439.7,150.6L440.2,151.1L440.7,151.2L441.2,151.1L441.7,150.9L442.2,150.7L442.7,150.5L443.2,150.2L443.7,149.8L444.2,149.6L444.7,149.5" fill="none" stroke="#1f9494" stroke-width="1.3" stroke-linejoin="round" stroke-linecap="round" />
<path d="M240.2,161.3L240.7,161.6L241.2,162.0L241.7,162.2L242.2,162.5L242.7,162.8L243.2,163.1L243.7,163.4L244.2,163.5L244.7,163.4L245.2,163.1L245.7,162.6L246.2,162.2L246.7,161.6L247.2,161.1L247.7,160.5L248.2,159.8L248.7,159.0L249.2,158.2L249.7,157.2L250.2,156.2L250.7,155.2L251.2,154.1L251.7,153.1L252.2,152.0L252.7,151.1L253.2,150.1L253.7,149.3L254.2,148.5L254.7,147.8L255.2,147.0L255.7,146.3L256.2,145.6L256.7,144.8L257.2,144.0L257.7,143.2L258.2,142.2L258.7,141.2L259.2,140.1L259.7,138.9L260.2,137.6L260.7,136.3L261.2,134.8L261.7,133.3L262.2,131.7L262.7,130.0L263.2,128.2L263.7,126.3L264.2,124.4L264.7,122.4L265.2,120.4L265.7,118.2L266.2,116.1L266.7,113.8L267.2,111.6L267.7,109.3L268.2,106.9L268.7,104.6L269.2,102.2L269.7,99.8L270.2,97.5L270.7,95.1L271.2,92.8L271.7,90.5L272.2,88.3L272.7,86.1L273.2,84.1L273.7,82.1L274.2,80.2L274.7,78.4L275.2,76.8L275.7,75.3L276.2,74.0L276.7,72.9L277.2,71.9L277.7,71.1L278.2,70.5L278.7,70.1L279.2,69.9L279.7,69.9L280.2,70.0L280.7,70.3L281.2,70.7L281.7,71.2L282.2,71.9L282.7,72.7L283.2,73.7L283.7,74.7L284.2,75.8L284.7,77.0L285.2,78.3L285.7,79.7L286.2,81.1L286.7,82.6L287.2,84.1L287.7,85.6L288.2,87.1L288.7,88.6L289.2,90.1L289.7,91.5L290.2,92.8L290.7,94.1L291.2,95.3L291.7,96.5L292.2,97.5L292.7,98.3L293.2,99.1L293.7,99.7L294.2,100.1L294.7,100.4L295.2,100.6L295.7,100.5L296.2,100.3L296.7,99.9L297.2,99.5L297.7,99.0L298.2,98.6L298.7,98.3L299.2,98.2L299.7,98.3L300.2,98.6L300.7,99.0L301.2,99.4L301.7,99.9L302.2,100.3L302.7,100.6L303.2,100.9L303.7,101.1L304.2,101.2L304.7,101.2L305.2,101.1L305.7,100.8L306.2,100.4L306.7,99.6L307.2,98.3L307.7,96.5L308.2,94.1L308.7,90.9L309.2,86.9L309.7,82.3L310.2,77.7L310.7,73.7L311.2,71.1L311.7,70.6L312.2,72.6L312.7,74.1L313.2,71.3L313.7,65.4L314.2,57.7L314.7,49.8L315.2,42.5L315.7,36.4L316.2,31.7L316.7,28.3L317.2,25.6L317.7,23.5L318.2,21.5L318.7,19.9L319.2,18.5L319.7,17.5L320.2,17.0L320.7,17.0L321.2,17.6L321.7,18.7L322.2,20.1L322.7,21.9L323.2,23.9L323.7,26.0L324.2,28.0L324.7,30.0L325.2,31.7L325.7,33.1L326.2,34.2L326.7,35.1L327.2,35.6L327.7,35.9L328.2,35.8L328.7,35.5L329.2,35.1L329.7,34.5L330.2,33.9L330.7,33.5L331.2,33.3L331.7,33.4L332.2,33.9L332.7,34.8L333.2,36.1L333.7,37.8L334.2,40.0L334.7,42.5L335.2,45.3L335.7,48.3L336.2,51.4L336.7,54.6L337.2,57.9L337.7,61.1L338.2,64.1L338.7,67.1L339.2,69.9L339.7,72.6L340.2,75.2L340.7,77.7L341.2,80.1L341.7,82.4L342.2,84.7L342.7,86.9L343.2,89.1L343.7,91.3L344.2,93.5L344.7,95.6L345.2,97.5L345.7,99.1L346.2,100.2L346.7,100.9L347.2,101.4L347.7,101.8L348.2,102.1L348.7,102.4L349.2,102.8L349.7,103.3L350.2,104.1L350.7,104.9L351.2,105.9L351.7,107.1L352.2,108.4L352.7,110.0L353.2,111.8L353.7,114.2L354.2,117.4L354.7,121.3L355.2,125.0L355.7,127.8L356.2,129.8L356.7,131.2L357.2,132.1L357.7,132.8L358.2,133.3L358.7,133.5L359.2,133.6L359.7,133.6L360.2,133.6L360.7,133.5L361.2,133.4L361.7,133.4L362.2,133.4L362.7,133.5L363.2,133.7L363.7,134.0L364.2,134.5L364.7,135.1L365.2,135.9L365.7,136.7L366.2,137.7L366.7,138.6L367.2,139.5L367.7,140.4L368.2,141.3L368.7,142.1L369.2,142.8L369.7,143.5L370.2,144.2L370.7,144.8L371.2,145.4L371.7,146.1L372.2,146.7L372.7,147.4L373.2,148.1L373.7,148.8L374.2,149.6L374.7,150.4L375.2,151.2L375.7,152.1L376.2,152.9L376.7,153.8L377.2,154.6L377.7,155.4L378.2,156.1L378.7,156.7L379.2,157.3L379.7,157.7L380.2,158.0L380.7,158.2L381.2,158.3L381.7,158.2L382.2,157.9L382.7,157.5L383.2,156.9L383.7,156.3L384.2,155.5L384.7,154.6L385.2,153.7L385.7,152.7L386.2,151.7L386.7,150.7L387.2,149.6L387.7,148.5L388.2,147.3L388.7,145.8L389.2,144.1L389.7,142.0L390.2,139.6L390.7,136.8L391.2,134.1L391.7,131.6L392.2,129.7L392.7,128.5L393.2,128.1L393.7,128.2L394.2,128.7L394.7,129.6L395.2,130.7L395.7,131.9L396.2,133.1L396.7,134.1L397.2,135.0L397.7,135.5L398.2,135.5L398.7,135.1L399.2,134.3L399.7,133.2L400.2,131.8L400.7,130.3L401.2,128.5L401.7,126.7L402.2,124.9L402.7,123.1L403.2,121.4L403.7,119.8L404.2,118.4L404.7,117.4L405.2,116.6L405.7,116.2L406.2,116.2L406.7,116.6L407.2,117.2L407.7,118.0L408.2,118.9L408.7,119.7L409.2,120.3L409.7,120.7L410.2,120.8L410.7,120.5L411.2,119.8L411.7,118.9L412.2,117.8L412.7,116.6L413.2,115.4L413.7,114.3L414.2,113.4L414.7,112.8L415.2,112.5L415.7,112.6L416.2,113.2L416.7,114.4L417.2,115.9L417.7,117.7L418.2,119.8L418.7,121.9L419.2,124.0L419.7,126.1L420.2,127.9L420.7,129.4L421.2,130.5L421.7,131.2L422.2,131.3L422.7,130.9L423.2,130.2L423.7,129.1L424.2,127.8L424.7,126.3L425.2,124.6L425.7,122.9L426.2,121.2L426.7,119.6L427.2,118.1L427.7,116.8L428.2,115.9L428.7,115.2L429.2,115.0L429.7,115.3L430.2,116.0L430.7,117.2L431.2,118.7L431.7,120.5L432.2,122.5L432.7,124.6L433.2,126.7L433.7,128.8L434.2,130.8L434.7,132.6L435.2,134.3L435.7,135.8L436.2,137.2L436.7,138.4L437.2,139.7L437.7,141.0L438.2,142.3L438.7,143.5L439.2,144.6L439.7,145.7L440.2,146.5L440.7,146.9L441.2,147.0L441.7,146.9L442.2,146.7L442.7,146.4L443.2,146.0L443.7,145.5L444.2,145.1L444.7,144.7" fill="none" stroke="#28289a" stroke-width="1.2" stroke-linejoin="round" stroke-linecap="round" />
<path d="M240.2,151.9L240.7,152.5L241.2,153.1L241.7,153.7L242.2,154.2L242.7,154.8L243.2,155.3L243.7,155.9L244.2,156.3L244.7,156.4L245.2,156.4L245.7,156.2L246.2,156.0L246.7,155.9L247.2,155.6L247.7,155.4L248.2,155.2L248.7,154.9L249.2,154.6L249.7,154.2L250.2,153.9L250.7,153.5L251.2,153.0L251.7,152.6L252.2,152.1L252.7,151.5L253.2,150.9L253.7,150.3L254.2,149.6L254.7,148.9L255.2,148.1L255.7,147.2L256.2,146.3L256.7,145.4L257.2,144.4L257.7,143.3L258.2,142.2L258.7,140.9L259.2,139.7L259.7,138.3L260.2,136.9L260.7,135.5L261.2,133.9L261.7,132.3L262.2,130.6L262.7,128.9L263.2,127.1L263.7,125.2L264.2,123.2L264.7,121.3L265.2,119.2L265.7,117.1L266.2,115.0L266.7,112.8L267.2,110.6L267.7,108.4L268.2,106.1L268.7,103.8L269.2,101.6L269.7,99.3L270.2,97.0L270.7,94.8L271.2,92.6L271.7,90.5L272.2,88.4L272.7,86.3L273.2,84.4L273.7,82.5L274.2,80.8L274.7,79.1L275.2,77.6L275.7,76.3L276.2,75.0L276.7,74.0L277.2,73.1L277.7,72.4L278.2,71.9L278.7,71.6L279.2,71.4L279.7,71.4L280.2,71.5L280.7,71.8L281.2,72.1L281.7,72.6L282.2,73.3L282.7,74.0L283.2,74.8L283.7,75.8L284.2,76.8L284.7,77.9L285.2,79.1L285.7,80.3L286.2,81.6L286.7,82.9L287.2,84.2L287.7,85.6L288.2,87.0L288.7,88.4L289.2,89.8L289.7,91.1L290.2,92.5L290.7,93.8L291.2,95.1L291.7,96.3L292.2,97.5L292.7,98.7L293.2,99.8L293.7,100.8L294.2,101.7L294.7,102.6L295.2,103.4L295.7,104.0L296.2,104.7L296.7,105.2L297.2,105.6L297.7,105.9L298.2,106.1L298.7,106.2L299.2,106.2L299.7,106.1L300.2,105.9L300.7,105.5L301.2,105.1L301.7,104.5L302.2,103.9L302.7,103.1L303.2,102.2L303.7,101.2L304.2,100.1L304.7,98.9L305.2,97.6L305.7,96.2L306.2,94.7L306.7,93.1L307.2,91.4L307.7,89.6L308.2,87.7L308.7,85.8L309.2,83.8L309.7,81.7L310.2,79.6L310.7,77.4L311.2,75.1L311.7,72.9L312.2,70.5L312.7,68.2L313.2,65.8L313.7,63.4L314.2,61.0L314.7,58.6L315.2,56.2L315.7,53.8L316.2,51.5L316.7,49.2L317.2,46.9L317.7,44.7L318.2,42.5L318.7,40.5L319.2,38.5L319.7,36.6L320.2,34.8L320.7,33.1L321.2,31.5L321.7,30.0L322.2,28.7L322.7,27.6L323.2,26.5L323.7,25.7L324.2,25.0L324.7,24.4L325.2,24.1L325.7,23.9L326.2,23.9L326.7,24.0L327.2,24.4L327.7,24.9L328.2,25.5L328.7,26.4L329.2,27.4L329.7,28.5L330.2,29.8L330.7,31.3L331.2,32.8L331.7,34.5L332.2,36.3L332.7,38.3L333.2,40.3L333.7,42.4L334.2,44.6L334.7,46.8L335.2,49.1L335.7,51.5L336.2,53.9L336.7,56.4L337.2,58.9L337.7,61.4L338.2,63.9L338.7,66.5L339.2,69.0L339.7,71.6L340.2,74.1L340.7,76.7L341.2,79.2L341.7,81.7L342.2,84.1L342.7,86.5L343.2,88.9L343.7,91.2L344.2,93.5L344.7,95.8L345.2,97.9L345.7,100.1L346.2,102.2L346.7,104.2L347.2,106.1L347.7,108.0L348.2,109.9L348.7,111.7L349.2,113.4L349.7,115.0L350.2,116.6L350.7,118.2L351.2,119.6L351.7,121.1L352.2,122.4L352.7,123.7L353.2,124.9L353.7,126.1L354.2,127.2L354.7,128.3L355.2,129.3L355.7,130.3L356.2,131.2L356.7,132.1L357.2,132.9L357.7,133.7L358.2,134.4L358.7,135.1L359.2,135.8L359.7,136.4L360.2,137.0L360.7,137.5L361.2,138.0L361.7,138.5L362.2,138.9L362.7,139.4L363.2,139.7L363.7,140.1L364.2,140.5L364.7,140.8L365.2,141.1L365.7,141.3L366.2,141.6L366.7,141.8L367.2,142.0L367.7,142.2L368.2,142.4L368.7,142.6L369.2,142.7L369.7,142.9L370.2,143.0L370.7,143.1L371.2,143.2L371.7,143.3L372.2,143.4L372.7,143.4L373.2,143.5L373.7,143.5L374.2,143.6L374.7,143.6L375.2,143.6L375.7,143.6L376.2,143.6L376.7,143.6L377.2,143.5L377.7,143.5L378.2,143.4L378.7,143.4L379.2,143.3L379.7,143.2L380.2,143.1L380.7,143.0L381.2,142.8L381.7,142.7L382.2,142.5L382.7,142.4L383.2,142.2L383.7,142.0L384.2,141.8L384.7,141.6L385.2,141.3L385.7,141.1L386.2,140.8L386.7,140.6L387.2,140.3L387.7,139.9L388.2,139.6L388.7,139.3L389.2,138.9L389.7,138.5L390.2,138.2L390.7,137.7L391.2,137.3L391.7,136.9L392.2,136.4L392.7,136.0L393.2,135.5L393.7,135.0L394.2,134.5L394.7,134.0L395.2,133.4L395.7,132.9L396.2,132.3L396.7,131.7L397.2,131.1L397.7,130.6L398.2,130.0L398.7,129.4L399.2,128.7L399.7,128.1L400.2,127.5L400.7,126.9L401.2,126.3L401.7,125.6L402.2,125.0L402.7,124.4L403.2,123.8L403.7,123.2L404.2,122.6L404.7,122.0L405.2,121.4L405.7,120.8L406.2,120.3L406.7,119.8L407.2,119.3L407.7,118.8L408.2,118.3L408.7,117.9L409.2,117.5L409.7,117.1L410.2,116.7L410.7,116.4L411.2,116.1L411.7,115.8L412.2,115.6L412.7,115.4L413.2,115.3L413.7,115.2L414.2,115.1L414.7,115.1L415.2,115.1L415.7,115.2L416.2,115.3L416.7,115.4L417.2,115.5L417.7,115.7L418.2,116.0L418.7,116.3L419.2,116.6L419.7,116.9L420.2,117.3L420.7,117.7L421.2,118.1L421.7,118.6L422.2,119.0L422.7,119.5L423.2,120.0L423.7,120.6L424.2,121.1L424.7,121.7L425.2,122.3L425.7,122.9L426.2,123.5L426.7,124.1L427.2,124.7L427.7,125.3L428.2,126.0L428.7,126.6L429.2,127.2L429.7,127.8L430.2,128.5L430.7,129.1L431.2,129.7L431.7,130.3L432.2,130.9L432.7,131.5L433.2,132.1L433.7,132.7L434.2,133.3L434.7,133.8L435.2,134.4L435.7,134.9L436.2,135.4L436.7,135.9L437.2,136.5L437.7,137.4L438.2,138.3L438.7,139.3L439.2,140.2L439.7,141.3L440.2,142.1L440.7,142.6L441.2,142.9L441.7,143.1L442.2,143.2L442.7,143.4L443.2,143.4L443.7,143.3L444.2,143.4L444.7,143.5" fill="none" stroke="#28289a" stroke-width="1.4" stroke-linejoin="round" stroke-linecap="round" />
<rect x="239.8" y="3.4" width="205.2" height="166.6" fill="none" stroke="#606060" stroke-width="1.3"/>
<line x1="239.2" y1="170.0" x2="445.6" y2="170.0" stroke="#454545" stroke-width="1.3"/>
<line x1="239.8" y1="170.0" x2="239.8" y2="173.4" stroke="#454545" stroke-width="1.1"/>
<text x="239.8" y="182.6" font-size="8.35" text-anchor="middle" >238</text>
<line x1="269.1" y1="170.0" x2="269.1" y2="173.4" stroke="#454545" stroke-width="1.1"/>
<text x="269.1" y="182.6" font-size="8.35" text-anchor="middle" >236</text>
<line x1="298.5" y1="170.0" x2="298.5" y2="173.4" stroke="#454545" stroke-width="1.1"/>
<text x="298.5" y="182.6" font-size="8.35" text-anchor="middle" >234</text>
<line x1="327.8" y1="170.0" x2="327.8" y2="173.4" stroke="#454545" stroke-width="1.1"/>
<text x="327.8" y="182.6" font-size="8.35" text-anchor="middle" >232</text>
<line x1="357.2" y1="170.0" x2="357.2" y2="173.4" stroke="#454545" stroke-width="1.1"/>
<text x="357.2" y="182.6" font-size="8.35" text-anchor="middle" >230</text>
<line x1="386.5" y1="170.0" x2="386.5" y2="173.4" stroke="#454545" stroke-width="1.1"/>
<text x="386.5" y="182.6" font-size="8.35" text-anchor="middle" >228</text>
<line x1="415.8" y1="170.0" x2="415.8" y2="173.4" stroke="#454545" stroke-width="1.1"/>
<text x="415.8" y="182.6" font-size="8.35" text-anchor="middle" >226</text>
<line x1="445.2" y1="170.0" x2="445.2" y2="173.4" stroke="#454545" stroke-width="1.1"/>
<text x="445.2" y="182.6" font-size="8.35" text-anchor="middle" >224</text>
<line x1="254.5" y1="170.0" x2="254.5" y2="172.0" stroke="#454545" stroke-width="1.1"/>
<line x1="283.8" y1="170.0" x2="283.8" y2="172.0" stroke="#454545" stroke-width="1.1"/>
<line x1="313.1" y1="170.0" x2="313.1" y2="172.0" stroke="#454545" stroke-width="1.1"/>
<line x1="342.5" y1="170.0" x2="342.5" y2="172.0" stroke="#454545" stroke-width="1.1"/>
<line x1="371.8" y1="170.0" x2="371.8" y2="172.0" stroke="#454545" stroke-width="1.1"/>
<line x1="401.2" y1="170.0" x2="401.2" y2="172.0" stroke="#454545" stroke-width="1.1"/>
<line x1="430.5" y1="170.0" x2="430.5" y2="172.0" stroke="#454545" stroke-width="1.1"/>
<text x="343.8" y="193.1" font-size="9.6" text-anchor="middle" >Binding energy (eV)</text>
<text x="0" y="0" font-size="10.15" text-anchor="middle" transform="translate(234.8,90.0) rotate(-90)">Intensity (a.u)</text>
<text x="243.4" y="17.1" font-size="14.2" text-anchor="start" class="ser">(b)</text>
<text x="281.8" y="54.9" font-size="9.888" text-anchor="middle" >Mo 3d 3/2</text>
<text x="280.5" y="66.8" font-size="9.888" text-anchor="middle" >(235.35 eV)</text>
<text x="360.0" y="23.5" font-size="9.6305" text-anchor="middle" >Mo 3d 5/2</text>
<text x="360.0" y="36.0" font-size="9.836500000000001" text-anchor="middle" >(232.16 eV)</text>
<text x="413.0" y="108.2" font-size="9.7335" text-anchor="middle" >(226.08 eV)</text>
<path d="M470.8,150.6L471.3,150.6L471.8,150.6L472.3,150.6L472.8,150.6L473.3,150.6L473.8,150.6L474.3,150.6L474.8,150.6L475.3,150.6L475.8,150.6L476.3,150.6L476.8,150.6L477.3,150.6L477.8,150.6L478.3,150.6L478.8,150.6L479.3,150.7L479.8,150.7L480.3,150.7L480.8,150.7L481.3,150.7L481.8,150.7L482.3,150.7L482.8,150.7L483.3,150.7L483.8,150.7L484.3,150.7L484.8,150.7L485.3,150.7L485.8,150.7L486.3,150.7L486.8,150.7L487.3,150.7L487.8,150.7L488.3,150.7L488.8,150.7L489.3,150.8L489.8,150.8L490.3,150.8L490.8,150.8L491.3,150.8L491.8,150.8L492.3,150.8L492.8,150.8L493.3,150.8L493.8,150.8L494.3,150.8L494.8,150.8L495.3,150.8L495.8,150.8L496.3,150.8L496.8,150.8L497.3,150.8L497.8,150.9L498.3,150.9L498.8,150.9L499.3,150.9L499.8,150.9L500.3,150.9L500.8,150.9L501.3,150.9L501.8,150.9L502.3,150.9L502.8,150.9L503.3,150.9L503.8,150.9L504.3,150.9L504.8,151.0L505.3,151.0L505.8,151.0L506.3,151.0L506.8,151.0L507.3,151.0L507.8,151.0L508.3,151.0L508.8,151.0L509.3,151.0L509.8,151.0L510.3,151.0L510.8,151.0L511.3,151.1L511.8,151.1L512.3,151.1L512.8,151.1L513.3,151.1L513.8,151.1L514.3,151.1L514.8,151.1L515.3,151.1L515.8,151.1L516.3,151.1L516.8,151.1L517.3,151.2L517.8,151.2L518.3,151.2L518.8,151.2L519.3,151.2L519.8,151.2L520.3,151.2L520.8,151.2L521.3,151.2L521.8,151.2L522.3,151.2L522.8,151.2L523.3,151.3L523.8,151.3L524.3,151.3L524.8,151.3L525.3,151.3L525.8,151.3L526.3,151.3L526.8,151.3L527.3,151.3L527.8,151.3L528.3,151.4L528.8,151.4L529.3,151.4L529.8,151.4L530.3,151.4L530.8,151.4L531.3,151.4L531.8,151.4L532.3,151.4L532.8,151.5L533.3,151.5L533.8,151.5L534.3,151.5L534.8,151.5L535.3,151.5L535.8,151.5L536.3,151.5L536.8,151.6L537.3,151.6L537.8,151.6L538.3,151.6L538.8,151.6L539.3,151.6L539.8,151.6L540.3,151.7L540.8,151.7L541.3,151.7L541.8,151.7L542.3,151.7L542.8,151.7L543.3,151.7L543.8,151.8L544.3,151.8L544.8,151.8L545.3,151.8L545.8,151.8L546.3,151.8L546.8,151.9L547.3,151.9L547.8,151.9L548.3,151.9L548.8,151.9L549.3,152.0L549.8,152.0L550.3,152.0L550.8,152.0L551.3,152.1L551.8,152.1L552.3,152.1L552.8,152.1L553.3,152.1L553.8,152.2L554.3,152.2L554.8,152.2L555.3,152.3L555.8,152.3L556.3,152.3L556.8,152.3L557.3,152.4L557.8,152.4L558.3,152.4L558.8,152.4L559.3,152.5L559.8,152.5L560.3,152.5L560.8,152.6L561.3,152.6L561.8,152.6L562.3,152.6L562.8,152.7L563.3,152.7L563.8,152.7L564.3,152.8L564.8,152.8L565.3,152.8L565.8,152.8L566.3,152.9L566.8,152.9L567.3,152.9L567.8,153.0L568.3,153.0L568.8,153.0L569.3,153.1L569.8,153.1L570.3,153.1L570.8,153.2L571.3,153.2L571.8,153.3L572.3,153.3L572.8,153.3L573.3,153.4L573.8,153.4L574.3,153.4L574.8,153.5L575.3,153.5L575.8,153.6L576.3,153.6L576.8,153.6L577.3,153.7L577.8,153.7L578.3,153.7L578.8,153.8L579.3,153.8L579.8,153.9L580.3,153.9L580.8,153.9L581.3,154.0L581.8,154.0L582.3,154.0L582.8,154.1L583.3,154.1L583.8,154.1L584.3,154.2L584.8,154.2L585.3,154.2L585.8,154.2L586.3,154.3L586.8,154.3L587.3,154.3L587.8,154.4L588.3,154.4L588.8,154.4L589.3,154.5L589.8,154.5L590.3,154.5L590.8,154.5L591.3,154.6L591.8,154.6L592.3,154.6L592.8,154.7L593.3,154.7L593.8,154.7L594.3,154.7L594.8,154.8L595.3,154.8L595.8,154.8L596.3,154.8L596.8,154.9L597.3,154.9L597.8,154.9L598.3,154.9L598.8,155.0L599.3,155.0L599.8,155.0L600.3,155.0L600.8,155.1L601.3,155.1L601.8,155.1L602.3,155.1L602.8,155.1L603.3,155.1L603.8,155.2L604.3,155.2L604.8,155.2L605.3,155.2L605.8,155.2L606.3,155.2L606.8,155.3L607.3,155.3L607.8,155.3L608.3,155.3L608.8,155.3L609.3,155.3L609.8,155.3L610.3,155.3L610.8,155.4L611.3,155.4L611.8,155.4L612.3,155.4L612.8,155.4L613.3,155.4L613.8,155.4L614.3,155.4L614.8,155.5L615.3,155.5L615.8,155.5L616.3,155.5L616.8,155.5L617.3,155.5L617.8,155.5L618.3,155.5L618.8,155.5L619.3,155.6L619.8,155.6L620.3,155.6L620.8,155.6L621.3,155.6L621.8,155.6L622.3,155.6L622.8,155.6L623.3,155.6L623.8,155.6L624.3,155.6L624.8,155.6L625.3,155.7L625.8,155.7L626.3,155.7L626.8,155.7L627.3,155.7L627.8,155.7L628.3,155.7L628.8,155.7L629.3,155.7L629.8,155.7L630.3,155.7L630.8,155.7L631.3,155.7L631.8,155.7L632.3,155.7L632.8,155.7L633.3,155.7L633.8,155.7L634.3,155.7L634.8,155.7L635.3,155.7L635.8,155.7L636.3,155.7L636.8,155.7L637.3,155.8L637.8,155.8L638.3,155.8L638.8,155.8L639.3,155.8L639.8,155.8L640.3,155.8L640.8,155.8L641.3,155.8L641.8,155.8L642.3,155.8L642.8,155.8L643.3,155.8L643.8,155.8L644.3,155.8L644.8,155.8L645.3,155.8L645.8,155.8L646.3,155.8L646.8,155.8L647.3,155.8L647.8,155.8L648.3,155.8L648.8,155.8L649.3,155.8L649.8,155.8L650.3,155.8L650.8,155.8L651.3,155.8L651.8,155.8L652.3,155.8L652.8,155.8L653.3,155.8L653.8,155.8L654.3,155.8L654.8,155.9L655.3,155.9L655.8,155.9L656.3,155.9L656.8,155.9L657.3,155.9L657.8,155.9L658.3,155.9L658.8,155.9L659.3,155.9L659.8,155.9L660.3,155.9L660.8,155.9L661.3,155.9L661.8,155.9L662.3,155.9L662.8,155.9L663.3,155.9L663.8,155.9L664.3,155.9L664.8,155.9L665.3,155.9L665.8,155.9L666.3,155.9L666.8,155.9L667.3,155.9L667.8,155.9L668.3,155.9L668.8,155.9L669.3,155.9L669.8,155.9L670.3,155.9L670.8,155.9L671.3,155.9L671.8,155.9L672.3,155.9L672.8,155.9L673.3,155.9L673.8,155.9L674.3,155.9L674.8,155.9L675.3,155.9L675.8,155.9L676.3,155.9" fill="none" stroke="#389a38" stroke-width="1.3" stroke-linejoin="round" stroke-linecap="round" />
<path d="M470.8,150.1L471.3,150.1L471.8,150.1L472.3,150.1L472.8,150.1L473.3,150.1L473.8,150.1L474.3,150.1L474.8,150.1L475.3,150.1L475.8,150.1L476.3,150.1L476.8,150.1L477.3,150.1L477.8,150.0L478.3,150.0L478.8,150.0L479.3,150.0L479.8,150.0L480.3,150.0L480.8,150.0L481.3,150.0L481.8,150.0L482.3,150.0L482.8,150.0L483.3,150.0L483.8,150.0L484.3,150.0L484.8,150.0L485.3,150.0L485.8,150.0L486.3,150.0L486.8,150.0L487.3,150.0L487.8,150.0L488.3,150.0L488.8,150.0L489.3,149.9L489.8,149.9L490.3,149.9L490.8,149.9L491.3,149.9L491.8,149.9L492.3,149.9L492.8,149.9L493.3,149.9L493.8,149.9L494.3,149.9L494.8,149.9L495.3,149.9L495.8,149.9L496.3,149.8L496.8,149.8L497.3,149.8L497.8,149.8L498.3,149.8L498.8,149.8L499.3,149.8L499.8,149.8L500.3,149.8L500.8,149.8L501.3,149.7L501.8,149.7L502.3,149.7L502.8,149.7L503.3,149.7L503.8,149.7L504.3,149.6L504.8,149.6L505.3,149.6L505.8,149.6L506.3,149.6L506.8,149.6L507.3,149.5L507.8,149.5L508.3,149.5L508.8,149.5L509.3,149.4L509.8,149.4L510.3,149.4L510.8,149.3L511.3,149.3L511.8,149.3L512.3,149.2L512.8,149.2L513.3,149.1L513.8,149.1L514.3,149.0L514.8,149.0L515.3,148.9L515.8,148.8L516.3,148.8L516.8,148.7L517.3,148.6L517.8,148.5L518.3,148.4L518.8,148.3L519.3,148.2L519.8,148.1L520.3,147.9L520.8,147.8L521.3,147.7L521.8,147.5L522.3,147.3L522.8,147.2L523.3,147.0L523.8,146.7L524.3,146.5L524.8,146.3L525.3,146.0L525.8,145.8L526.3,145.5L526.8,145.1L527.3,144.8L527.8,144.5L528.3,144.1L528.8,143.7L529.3,143.3L529.8,142.8L530.3,142.4L530.8,141.9L531.3,141.3L531.8,140.8L532.3,140.2L532.8,139.6L533.3,139.0L533.8,138.3L534.3,137.6L534.8,136.9L535.3,136.2L535.8,135.4L536.3,134.6L536.8,133.7L537.3,132.8L537.8,131.9L538.3,131.0L538.8,130.1L539.3,129.1L539.8,128.1L540.3,127.0L540.8,126.0L541.3,124.9L541.8,123.8L542.3,122.7L542.8,121.6L543.3,120.5L543.8,119.3L544.3,118.2L544.8,117.0L545.3,115.9L545.8,114.7L546.3,113.6L546.8,112.4L547.3,111.3L547.8,110.2L548.3,109.2L548.8,108.1L549.3,107.1L549.8,106.1L550.3,105.2L550.8,104.3L551.3,103.4L551.8,102.7L552.3,101.9L552.8,101.3L553.3,100.7L553.8,100.2L554.3,99.7L554.8,99.4L555.3,99.1L555.8,98.9L556.3,98.8L556.8,98.8L557.3,98.9L557.8,99.0L558.3,99.3L558.8,99.6L559.3,100.0L559.8,100.5L560.3,101.1L560.8,101.7L561.3,102.4L561.8,103.2L562.3,104.0L562.8,104.9L563.3,105.9L563.8,106.9L564.3,107.9L564.8,109.0L565.3,110.0L565.8,111.2L566.3,112.3L566.8,113.5L567.3,114.7L567.8,115.9L568.3,117.1L568.8,118.3L569.3,119.5L569.8,120.7L570.3,121.9L570.8,123.1L571.3,124.2L571.8,125.4L572.3,126.5L572.8,127.7L573.3,128.8L573.8,129.8L574.3,130.9L574.8,131.9L575.3,132.9L575.8,133.9L576.3,134.9L576.8,135.8L577.3,136.7L577.8,137.5L578.3,138.4L578.8,139.2L579.3,140.0L579.8,140.7L580.3,141.4L580.8,142.1L581.3,142.7L581.8,143.4L582.3,144.0L582.8,144.5L583.3,145.1L583.8,145.6L584.3,146.1L584.8,146.5L585.3,147.0L585.8,147.4L586.3,147.8L586.8,148.1L587.3,148.5L587.8,148.8L588.3,149.1L588.8,149.4L589.3,149.7L589.8,150.0L590.3,150.2L590.8,150.4L591.3,150.7L591.8,150.9L592.3,151.1L592.8,151.3L593.3,151.4L593.8,151.6L594.3,151.7L594.8,151.9L595.3,152.0L595.8,152.2L596.3,152.3L596.8,152.4L597.3,152.5L597.8,152.6L598.3,152.7L598.8,152.8L599.3,152.9L599.8,153.0L600.3,153.1L600.8,153.1L601.3,153.2L601.8,153.3L602.3,153.3L602.8,153.4L603.3,153.5L603.8,153.5L604.3,153.6L604.8,153.6L605.3,153.7L605.8,153.7L606.3,153.8L606.8,153.8L607.3,153.9L607.8,153.9L608.3,153.9L608.8,154.0L609.3,154.0L609.8,154.1L610.3,154.1L610.8,154.1L611.3,154.2L611.8,154.2L612.3,154.2L612.8,154.3L613.3,154.3L613.8,154.3L614.3,154.4L614.8,154.4L615.3,154.4L615.8,154.4L616.3,154.5L616.8,154.5L617.3,154.5L617.8,154.5L618.3,154.6L618.8,154.6L619.3,154.6L619.8,154.6L620.3,154.7L620.8,154.7L621.3,154.7L621.8,154.7L622.3,154.8L622.8,154.8L623.3,154.8L623.8,154.8L624.3,154.8L624.8,154.9L625.3,154.9L625.8,154.9L626.3,154.9L626.8,154.9L627.3,154.9L627.8,154.9L628.3,155.0L628.8,155.0L629.3,155.0L629.8,155.0L630.3,155.0L630.8,155.0L631.3,155.0L631.8,155.1L632.3,155.1L632.8,155.1L633.3,155.1L633.8,155.1L634.3,155.1L634.8,155.1L635.3,155.1L635.8,155.1L636.3,155.2L636.8,155.2L637.3,155.2L637.8,155.2L638.3,155.2L638.8,155.2L639.3,155.2L639.8,155.2L640.3,155.2L640.8,155.2L641.3,155.3L641.8,155.3L642.3,155.3L642.8,155.3L643.3,155.3L643.8,155.3L644.3,155.3L644.8,155.3L645.3,155.3L645.8,155.3L646.3,155.3L646.8,155.3L647.3,155.4L647.8,155.4L648.3,155.4L648.8,155.4L649.3,155.4L649.8,155.4L650.3,155.4L650.8,155.4L651.3,155.4L651.8,155.4L652.3,155.4L652.8,155.4L653.3,155.4L653.8,155.4L654.3,155.5L654.8,155.5L655.3,155.5L655.8,155.5L656.3,155.5L656.8,155.5L657.3,155.5L657.8,155.5L658.3,155.5L658.8,155.5L659.3,155.5L659.8,155.5L660.3,155.5L660.8,155.5L661.3,155.5L661.8,155.5L662.3,155.5L662.8,155.5L663.3,155.5L663.8,155.6L664.3,155.6L664.8,155.6L665.3,155.6L665.8,155.6L666.3,155.6L666.8,155.6L667.3,155.6L667.8,155.6L668.3,155.6L668.8,155.6L669.3,155.6L669.8,155.6L670.3,155.6L670.8,155.6L671.3,155.6L671.8,155.6L672.3,155.6L672.8,155.6L673.3,155.6L673.8,155.6L674.3,155.6L674.8,155.6L675.3,155.6L675.8,155.6L676.3,155.6" fill="none" stroke="#86192e" stroke-width="1.3" stroke-linejoin="round" stroke-linecap="round" />
<path d="M470.8,150.2L471.3,150.2L471.8,150.2L472.3,150.2L472.8,150.2L473.3,150.2L473.8,150.2L474.3,150.2L474.8,150.2L475.3,150.2L475.8,150.2L476.3,150.2L476.8,150.2L477.3,150.2L477.8,150.2L478.3,150.2L478.8,150.2L479.3,150.2L479.8,150.2L480.3,150.1L480.8,150.1L481.3,150.1L481.8,150.1L482.3,150.1L482.8,150.1L483.3,150.1L483.8,150.1L484.3,150.1L484.8,150.1L485.3,150.1L485.8,150.1L486.3,150.1L486.8,150.1L487.3,150.1L487.8,150.1L488.3,150.1L488.8,150.1L489.3,150.1L489.8,150.1L490.3,150.1L490.8,150.1L491.3,150.1L491.8,150.1L492.3,150.1L492.8,150.1L493.3,150.1L493.8,150.1L494.3,150.1L494.8,150.1L495.3,150.1L495.8,150.1L496.3,150.1L496.8,150.1L497.3,150.1L497.8,150.1L498.3,150.1L498.8,150.1L499.3,150.1L499.8,150.1L500.3,150.1L500.8,150.1L501.3,150.1L501.8,150.1L502.3,150.1L502.8,150.1L503.3,150.1L503.8,150.1L504.3,150.1L504.8,150.1L505.3,150.1L505.8,150.1L506.3,150.0L506.8,150.0L507.3,150.0L507.8,150.0L508.3,150.0L508.8,150.0L509.3,150.0L509.8,150.0L510.3,150.0L510.8,150.0L511.3,150.0L511.8,150.0L512.3,150.0L512.8,150.0L513.3,150.0L513.8,149.9L514.3,149.9L514.8,149.9L515.3,149.9L515.8,149.9L516.3,149.9L516.8,149.9L517.3,149.9L517.8,149.9L518.3,149.8L518.8,149.8L519.3,149.8L519.8,149.8L520.3,149.8L520.8,149.8L521.3,149.7L521.8,149.7L522.3,149.7L522.8,149.7L523.3,149.6L523.8,149.6L524.3,149.6L524.8,149.6L525.3,149.5L525.8,149.5L526.3,149.5L526.8,149.4L527.3,149.4L527.8,149.3L528.3,149.3L528.8,149.2L529.3,149.2L529.8,149.1L530.3,149.0L530.8,149.0L531.3,148.9L531.8,148.8L532.3,148.7L532.8,148.6L533.3,148.5L533.8,148.4L534.3,148.3L534.8,148.1L535.3,148.0L535.8,147.8L536.3,147.7L536.8,147.5L537.3,147.3L537.8,147.1L538.3,146.8L538.8,146.6L539.3,146.3L539.8,146.0L540.3,145.7L540.8,145.4L541.3,145.1L541.8,144.7L542.3,144.3L542.8,143.9L543.3,143.4L543.8,142.9L544.3,142.4L544.8,141.8L545.3,141.2L545.8,140.6L546.3,140.0L546.8,139.3L547.3,138.5L547.8,137.8L548.3,136.9L548.8,136.1L549.3,135.2L549.8,134.2L550.3,133.2L550.8,132.2L551.3,131.1L551.8,129.9L552.3,128.7L552.8,127.5L553.3,126.2L553.8,124.9L554.3,123.5L554.8,122.0L555.3,120.5L555.8,119.0L556.3,117.4L556.8,115.8L557.3,114.1L557.8,112.4L558.3,110.6L558.8,108.8L559.3,106.9L559.8,105.1L560.3,103.2L560.8,101.2L561.3,99.2L561.8,97.2L562.3,95.2L562.8,93.2L563.3,91.2L563.8,89.1L564.3,87.1L564.8,85.0L565.3,83.0L565.8,81.0L566.3,79.0L566.8,77.0L567.3,75.1L567.8,73.2L568.3,71.3L568.8,69.5L569.3,67.7L569.8,66.0L570.3,64.4L570.8,62.9L571.3,61.4L571.8,60.0L572.3,58.7L572.8,57.5L573.3,56.4L573.8,55.4L574.3,54.5L574.8,53.8L575.3,53.1L575.8,52.6L576.3,52.2L576.8,51.9L577.3,51.8L577.8,51.8L578.3,51.9L578.8,52.2L579.3,52.6L579.8,53.1L580.3,53.7L580.8,54.5L581.3,55.4L581.8,56.4L582.3,57.5L582.8,58.7L583.3,60.0L583.8,61.4L584.3,62.9L584.8,64.5L585.3,66.1L585.8,67.9L586.3,69.7L586.8,71.5L587.3,73.4L587.8,75.3L588.3,77.3L588.8,79.3L589.3,81.4L589.8,83.4L590.3,85.5L590.8,87.6L591.3,89.7L591.8,91.8L592.3,93.9L592.8,96.0L593.3,98.1L593.8,100.2L594.3,102.2L594.8,104.2L595.3,106.2L595.8,108.1L596.3,110.1L596.8,111.9L597.3,113.8L597.8,115.6L598.3,117.4L598.8,119.1L599.3,120.7L599.8,122.4L600.3,123.9L600.8,125.4L601.3,126.9L601.8,128.3L602.3,129.7L602.8,131.0L603.3,132.3L603.8,133.5L604.3,134.7L604.8,135.8L605.3,136.8L605.8,137.9L606.3,138.8L606.8,139.7L607.3,140.6L607.8,141.5L608.3,142.3L608.8,143.0L609.3,143.7L609.8,144.4L610.3,145.0L610.8,145.6L611.3,146.2L611.8,146.7L612.3,147.2L612.8,147.7L613.3,148.2L613.8,148.6L614.3,149.0L614.8,149.3L615.3,149.7L615.8,150.0L616.3,150.3L616.8,150.6L617.3,150.9L617.8,151.1L618.3,151.3L618.8,151.5L619.3,151.7L619.8,151.9L620.3,152.1L620.8,152.3L621.3,152.4L621.8,152.6L622.3,152.7L622.8,152.8L623.3,152.9L623.8,153.0L624.3,153.1L624.8,153.2L625.3,153.3L625.8,153.4L626.3,153.5L626.8,153.6L627.3,153.6L627.8,153.7L628.3,153.7L628.8,153.8L629.3,153.9L629.8,153.9L630.3,154.0L630.8,154.0L631.3,154.0L631.8,154.1L632.3,154.1L632.8,154.2L633.3,154.2L633.8,154.2L634.3,154.3L634.8,154.3L635.3,154.3L635.8,154.4L636.3,154.4L636.8,154.4L637.3,154.4L637.8,154.5L638.3,154.5L638.8,154.5L639.3,154.5L639.8,154.6L640.3,154.6L640.8,154.6L641.3,154.6L641.8,154.6L642.3,154.7L642.8,154.7L643.3,154.7L643.8,154.7L644.3,154.7L644.8,154.8L645.3,154.8L645.8,154.8L646.3,154.8L646.8,154.8L647.3,154.8L647.8,154.9L648.3,154.9L648.8,154.9L649.3,154.9L649.8,154.9L650.3,154.9L650.8,154.9L651.3,155.0L651.8,155.0L652.3,155.0L652.8,155.0L653.3,155.0L653.8,155.0L654.3,155.0L654.8,155.0L655.3,155.1L655.8,155.1L656.3,155.1L656.8,155.1L657.3,155.1L657.8,155.1L658.3,155.1L658.8,155.1L659.3,155.1L659.8,155.2L660.3,155.2L660.8,155.2L661.3,155.2L661.8,155.2L662.3,155.2L662.8,155.2L663.3,155.2L663.8,155.2L664.3,155.2L664.8,155.2L665.3,155.3L665.8,155.3L666.3,155.3L666.8,155.3L667.3,155.3L667.8,155.3L668.3,155.3L668.8,155.3L669.3,155.3L669.8,155.3L670.3,155.3L670.8,155.3L671.3,155.3L671.8,155.3L672.3,155.4L672.8,155.4L673.3,155.4L673.8,155.4L674.3,155.4L674.8,155.4L675.3,155.4L675.8,155.4L676.3,155.4" fill="none" stroke="#922a9c" stroke-width="1.3" stroke-linejoin="round" stroke-linecap="round" />
<path d="M470.8,150.3L471.3,150.3L471.8,150.1L472.3,149.9L472.8,149.7L473.3,149.8L473.8,150.2L474.3,150.3L474.8,150.1L475.3,149.9L475.8,150.1L476.3,150.2L476.8,149.9L477.3,149.7L477.8,149.9L478.3,149.8L478.8,149.6L479.3,149.1L479.8,149.0L480.3,148.8L480.8,149.0L481.3,149.1L481.8,149.4L482.3,149.5L482.8,149.7L483.3,149.1L483.8,148.8L484.3,148.9L484.8,149.4L485.3,149.2L485.8,149.0L486.3,148.8L486.8,148.9L487.3,149.1L487.8,149.2L488.3,149.2L488.8,149.2L489.3,149.3L489.8,149.1L490.3,149.0L490.8,149.1L491.3,148.8L491.8,148.7L492.3,148.9L492.8,148.9L493.3,148.8L493.8,148.7L494.3,148.8L494.8,148.9L495.3,149.1L495.8,148.9L496.3,148.4L496.8,148.3L497.3,148.5L497.8,148.5L498.3,148.4L498.8,148.4L499.3,148.5L499.8,148.4L500.3,148.1L500.8,147.8L501.3,147.8L501.8,147.5L502.3,147.3L502.8,147.2L503.3,147.5L503.8,147.8L504.3,147.5L504.8,147.0L505.3,146.8L505.8,146.7L506.3,146.5L506.8,146.4L507.3,146.9L507.8,147.0L508.3,146.9L508.8,146.4L509.3,146.1L509.8,146.3L510.3,146.3L510.8,146.1L511.3,145.7L511.8,145.7L512.3,145.6L512.8,145.2L513.3,145.0L513.8,144.9L514.3,145.2L514.8,145.3L515.3,145.2L515.8,144.9L516.3,144.7L516.8,144.6L517.3,144.5L517.8,144.4L518.3,143.8L518.8,143.6L519.3,143.0L519.8,142.5L520.3,142.1L520.8,142.0L521.3,142.0L521.8,142.2L522.3,141.9L522.8,141.2L523.3,140.4L523.8,140.3L524.3,139.9L524.8,139.3L525.3,138.9L525.8,138.5L526.3,137.9L526.8,137.1L527.3,136.5L527.8,135.9L528.3,135.3L528.8,134.7L529.3,134.3L529.8,133.8L530.3,133.2L530.8,132.3L531.3,131.5L531.8,130.4L532.3,129.4L532.8,128.8L533.3,128.1L533.8,127.4L534.3,126.4L534.8,125.8L535.3,124.7L535.8,124.1L536.3,123.1L536.8,121.9L537.3,120.8L537.8,120.0L538.3,119.1L538.8,117.5L539.3,116.0L539.8,114.5L540.3,113.4L540.8,112.1L541.3,110.7L541.8,109.0L542.3,107.5L542.8,105.9L543.3,104.7L543.8,103.5L544.3,102.4L544.8,100.7L545.3,99.1L545.8,97.3L546.3,95.7L546.8,94.3L547.3,92.8L547.8,91.4L548.3,89.6L548.8,88.0L549.3,86.9L549.8,85.6L550.3,83.9L550.8,82.2L551.3,81.1L551.8,79.5L552.3,77.7L552.8,75.8L553.3,74.1L553.8,72.6L554.3,71.2L554.8,69.8L555.3,67.9L555.8,66.2L556.3,64.5L556.8,62.8L557.3,60.7L557.8,58.8L558.3,57.2L558.8,55.7L559.3,54.0L559.8,52.0L560.3,50.2L560.8,48.3L561.3,46.7L561.8,45.0L562.3,43.4L562.8,41.7L563.3,40.4L563.8,39.1L564.3,37.7L564.8,36.0L565.3,34.3L565.8,33.2L566.3,32.6L566.8,31.8L567.3,30.7L567.8,29.9L568.3,29.3L568.8,28.6L569.3,27.7L569.8,27.2L570.3,26.3L570.8,25.9L571.3,25.4L571.8,25.4L572.3,25.3L572.8,25.3L573.3,24.8L573.8,24.0L574.3,23.9L574.8,24.3L575.3,24.8L575.8,25.2L576.3,25.6L576.8,25.6L577.3,26.1L577.8,27.3L578.3,28.4L578.8,29.2L579.3,30.0L579.8,30.7L580.3,31.8L580.8,33.0L581.3,34.3L581.8,35.8L582.3,37.5L582.8,39.4L583.3,40.8L583.8,42.2L584.3,43.7L584.8,45.4L585.3,47.4L585.8,49.3L586.3,51.3L586.8,53.2L587.3,55.6L587.8,57.3L588.3,59.1L588.8,60.7L589.3,62.8L589.8,64.4L590.3,66.2L590.8,68.5L591.3,70.9L591.8,73.0L592.3,75.0L592.8,77.4L593.3,79.7L593.8,81.6L594.3,83.5L594.8,85.6L595.3,87.8L595.8,90.2L596.3,93.4L596.8,96.5L597.3,98.8L597.8,100.7L598.3,103.4L598.8,106.1L599.3,108.6L599.8,110.7L600.3,113.0L600.8,115.4L601.3,117.8L601.8,120.0L602.3,121.7L602.8,123.6L603.3,125.5L603.8,127.7L604.3,129.3L604.8,131.0L605.3,132.4L605.8,134.0L606.3,135.6L606.8,137.4L607.3,138.8L607.8,139.7L608.3,140.6L608.8,141.2L609.3,141.9L609.8,142.9L610.3,144.1L610.8,144.7L611.3,145.2L611.8,145.9L612.3,146.9L612.8,147.7L613.3,148.2L613.8,148.7L614.3,149.1L614.8,149.3L615.3,149.1L615.8,149.7L616.3,150.5L616.8,151.3L617.3,151.4L617.8,151.5L618.3,151.6L618.8,151.7L619.3,151.9L619.8,152.1L620.3,152.6L620.8,153.0L621.3,153.1L621.8,152.9L622.3,152.8L622.8,153.3L623.3,153.7L623.8,153.9L624.3,153.7L624.8,153.5L625.3,153.5L625.8,153.9L626.3,154.2L626.8,154.2L627.3,154.1L627.8,154.2L628.3,154.1L628.8,154.0L629.3,154.0L629.8,154.4L630.3,154.5L630.8,154.7L631.3,154.9L631.8,155.1L632.3,154.8L632.8,154.5L633.3,154.6L633.8,154.6L634.3,154.6L634.8,155.0L635.3,155.3L635.8,155.0L636.3,154.5L636.8,154.5L637.3,154.4L637.8,154.3L638.3,154.5L638.8,154.7L639.3,154.9L639.8,155.1L640.3,155.3L640.8,155.1L641.3,155.2L641.8,155.2L642.3,154.9L642.8,154.3L643.3,154.3L643.8,154.7L644.3,155.2L644.8,155.0L645.3,154.5L645.8,154.2L646.3,154.5L646.8,154.6L647.3,154.7L647.8,154.8L648.3,154.8L648.8,154.7L649.3,154.7L649.8,154.8L650.3,154.8L650.8,155.2L651.3,155.4L651.8,155.3L652.3,154.6L652.8,154.5L653.3,154.2L653.8,154.2L654.3,154.3L654.8,154.9L655.3,155.1L655.8,154.6L656.3,154.4L656.8,154.4L657.3,154.8L657.8,155.3L658.3,155.6L658.8,155.2L659.3,154.6L659.8,154.5L660.3,154.7L660.8,154.7L661.3,154.7L661.8,154.6L662.3,155.0L662.8,155.3L663.3,155.7L663.8,155.5L664.3,155.3L664.8,155.1L665.3,155.1L665.8,155.0L666.3,154.8L666.8,154.6L667.3,154.8L667.8,155.1L668.3,155.4L668.8,155.5L669.3,155.3L669.8,154.9L670.3,154.9L670.8,155.3L671.3,155.4L671.8,155.6L672.3,155.6L672.8,155.5L673.3,155.0L673.8,155.2L674.3,155.6L674.8,155.4L675.3,155.4L675.8,155.7L676.3,156.0" fill="none" stroke="#28289a" stroke-width="1.3" stroke-linejoin="round" stroke-linecap="round" />
<path d="M470.8,150.6L471.3,150.6L471.8,150.5L472.3,150.5L472.8,150.5L473.3,150.5L473.8,150.4L474.3,150.4L474.8,150.4L475.3,150.4L475.8,150.3L476.3,150.3L476.8,150.3L477.3,150.2L477.8,150.2L478.3,150.2L478.8,150.2L479.3,150.1L479.8,150.1L480.3,150.1L480.8,150.0L481.3,150.0L481.8,150.0L482.3,150.0L482.8,149.9L483.3,149.9L483.8,149.9L484.3,149.8L484.8,149.8L485.3,149.8L485.8,149.7L486.3,149.7L486.8,149.6L487.3,149.6L487.8,149.6L488.3,149.5L488.8,149.5L489.3,149.5L489.8,149.4L490.3,149.4L490.8,149.3L491.3,149.3L491.8,149.2L492.3,149.2L492.8,149.2L493.3,149.1L493.8,149.1L494.3,149.0L494.8,149.0L495.3,148.9L495.8,148.8L496.3,148.8L496.8,148.7L497.3,148.7L497.8,148.6L498.3,148.6L498.8,148.5L499.3,148.4L499.8,148.4L500.3,148.3L500.8,148.2L501.3,148.1L501.8,148.1L502.3,148.0L502.8,147.9L503.3,147.8L503.8,147.7L504.3,147.6L504.8,147.5L505.3,147.4L505.8,147.3L506.3,147.2L506.8,147.1L507.3,147.0L507.8,146.9L508.3,146.8L508.8,146.7L509.3,146.6L509.8,146.5L510.3,146.4L510.8,146.2L511.3,146.1L511.8,146.0L512.3,145.9L512.8,145.8L513.3,145.6L513.8,145.5L514.3,145.4L514.8,145.3L515.3,145.1L515.8,145.0L516.3,144.9L516.8,144.7L517.3,144.6L517.8,144.4L518.3,144.2L518.8,144.0L519.3,143.8L519.8,143.5L520.3,143.2L520.8,142.9L521.3,142.6L521.8,142.2L522.3,141.8L522.8,141.4L523.3,141.0L523.8,140.5L524.3,140.1L524.8,139.6L525.3,139.1L525.8,138.6L526.3,138.1L526.8,137.6L527.3,137.0L527.8,136.4L528.3,135.8L528.8,135.2L529.3,134.6L529.8,134.0L530.3,133.3L530.8,132.6L531.3,131.9L531.8,131.2L532.3,130.4L532.8,129.7L533.3,128.9L533.8,128.0L534.3,127.2L534.8,126.3L535.3,125.3L535.8,124.3L536.3,123.3L536.8,122.3L537.3,121.2L537.8,120.0L538.3,118.9L538.8,117.6L539.3,116.4L539.8,115.1L540.3,113.7L540.8,112.4L541.3,111.0L541.8,109.6L542.3,108.1L542.8,106.7L543.3,105.2L543.8,103.8L544.3,102.3L544.8,100.8L545.3,99.3L545.8,97.8L546.3,96.3L546.8,94.8L547.3,93.3L547.8,91.8L548.3,90.3L548.8,88.8L549.3,87.3L549.8,85.8L550.3,84.3L550.8,82.8L551.3,81.2L551.8,79.7L552.3,78.1L552.8,76.5L553.3,74.9L553.8,73.3L554.3,71.7L554.8,70.0L555.3,68.3L555.8,66.6L556.3,64.9L556.8,63.1L557.3,61.4L557.8,59.6L558.3,57.8L558.8,56.0L559.3,54.2L559.8,52.4L560.3,50.6L560.8,48.8L561.3,47.0L561.8,45.3L562.3,43.7L562.8,42.0L563.3,40.5L563.8,39.0L564.3,37.6L564.8,36.2L565.3,35.0L565.8,33.8L566.3,32.7L566.8,31.7L567.3,30.8L567.8,29.9L568.3,29.2L568.8,28.4L569.3,27.8L569.8,27.1L570.3,26.6L570.8,26.0L571.3,25.6L571.8,25.2L572.3,24.9L572.8,24.7L573.3,24.6L573.8,24.6L574.3,24.7L574.8,24.9L575.3,25.2L575.8,25.6L576.3,26.0L576.8,26.6L577.3,27.2L577.8,27.9L578.3,28.6L578.8,29.5L579.3,30.4L579.8,31.5L580.3,32.6L580.8,33.8L581.3,35.1L581.8,36.5L582.3,38.0L582.8,39.5L583.3,41.1L583.8,42.8L584.3,44.5L584.8,46.3L585.3,48.0L585.8,49.9L586.3,51.7L586.8,53.5L587.3,55.4L587.8,57.3L588.3,59.2L588.8,61.1L589.3,63.0L589.8,65.0L590.3,67.0L590.8,69.0L591.3,71.1L591.8,73.2L592.3,75.3L592.8,77.6L593.3,79.8L593.8,82.1L594.3,84.5L594.8,86.8L595.3,89.3L595.8,91.7L596.3,94.1L596.8,96.6L597.3,99.0L597.8,101.5L598.3,103.9L598.8,106.3L599.3,108.7L599.8,111.0L600.3,113.3L600.8,115.6L601.3,117.8L601.8,119.9L602.3,122.0L602.8,124.1L603.3,126.0L603.8,127.9L604.3,129.7L604.8,131.4L605.3,133.0L605.8,134.5L606.3,135.9L606.8,137.3L607.3,138.5L607.8,139.7L608.3,140.8L608.8,141.8L609.3,142.7L609.8,143.6L610.3,144.4L610.8,145.1L611.3,145.8L611.8,146.5L612.3,147.1L612.8,147.6L613.3,148.2L613.8,148.7L614.3,149.1L614.8,149.5L615.3,149.9L615.8,150.3L616.3,150.6L616.8,150.9L617.3,151.2L617.8,151.5L618.3,151.8L618.8,152.0L619.3,152.2L619.8,152.5L620.3,152.7L620.8,152.9L621.3,153.1L621.8,153.2L622.3,153.4L622.8,153.5L623.3,153.7L623.8,153.8L624.3,153.9L624.8,154.1L625.3,154.2L625.8,154.3L626.3,154.4L626.8,154.4L627.3,154.5L627.8,154.6L628.3,154.7L628.8,154.7L629.3,154.8L629.8,154.8L630.3,154.9L630.8,154.9L631.3,154.9L631.8,155.0L632.3,155.0L632.8,155.0L633.3,155.0L633.8,155.0L634.3,155.0L634.8,155.0L635.3,155.0L635.8,155.0L636.3,155.0L636.8,155.0L637.3,155.0L637.8,155.0L638.3,155.0L638.8,155.0L639.3,155.0L639.8,155.0L640.3,155.0L640.8,155.0L641.3,155.0L641.8,155.0L642.3,155.0L642.8,155.0L643.3,155.0L643.8,155.0L644.3,155.0L644.8,155.0L645.3,155.0L645.8,155.0L646.3,155.0L646.8,155.0L647.3,155.0L647.8,155.0L648.3,155.0L648.8,155.0L649.3,155.0L649.8,155.0L650.3,155.0L650.8,155.0L651.3,155.1L651.8,155.1L652.3,155.1L652.8,155.1L653.3,155.1L653.8,155.1L654.3,155.1L654.8,155.1L655.3,155.1L655.8,155.1L656.3,155.2L656.8,155.2L657.3,155.2L657.8,155.2L658.3,155.2L658.8,155.2L659.3,155.2L659.8,155.3L660.3,155.3L660.8,155.3L661.3,155.3L661.8,155.3L662.3,155.3L662.8,155.4L663.3,155.4L663.8,155.4L664.3,155.4L664.8,155.4L665.3,155.4L665.8,155.5L666.3,155.5L666.8,155.5L667.3,155.5L667.8,155.5L668.3,155.6L668.8,155.6L669.3,155.6L669.8,155.6L670.3,155.6L670.8,155.7L671.3,155.7L671.8,155.7L672.3,155.7L672.8,155.7L673.3,155.8L673.8,155.8L674.3,155.8L674.8,155.8L675.3,155.8L675.8,155.9L676.3,155.9" fill="none" stroke="#1f9494" stroke-width="1.2" stroke-linejoin="round" stroke-linecap="round" />
<rect x="470.5" y="4.4" width="206.3" height="168.1" fill="none" stroke="#606060" stroke-width="1.3"/>
<line x1="469.9" y1="172.5" x2="677.4" y2="172.5" stroke="#454545" stroke-width="1.3"/>
<line x1="470.5" y1="172.5" x2="470.5" y2="175.9" stroke="#454545" stroke-width="1.1"/>
<text x="470.5" y="185.0" font-size="8.35" text-anchor="middle" >290</text>
<line x1="511.7" y1="172.5" x2="511.7" y2="175.9" stroke="#454545" stroke-width="1.1"/>
<text x="511.7" y="185.0" font-size="8.35" text-anchor="middle" >288</text>
<line x1="553.0" y1="172.5" x2="553.0" y2="175.9" stroke="#454545" stroke-width="1.1"/>
<text x="553.0" y="185.0" font-size="8.35" text-anchor="middle" >286</text>
<line x1="594.2" y1="172.5" x2="594.2" y2="175.9" stroke="#454545" stroke-width="1.1"/>
<text x="594.2" y="185.0" font-size="8.35" text-anchor="middle" >284</text>
<line x1="635.5" y1="172.5" x2="635.5" y2="175.9" stroke="#454545" stroke-width="1.1"/>
<text x="635.5" y="185.0" font-size="8.35" text-anchor="middle" >282</text>
<line x1="676.7" y1="172.5" x2="676.7" y2="175.9" stroke="#454545" stroke-width="1.1"/>
<text x="676.7" y="185.0" font-size="8.35" text-anchor="middle" >280</text>
<line x1="491.1" y1="172.5" x2="491.1" y2="174.5" stroke="#454545" stroke-width="1.1"/>
<line x1="532.4" y1="172.5" x2="532.4" y2="174.5" stroke="#454545" stroke-width="1.1"/>
<line x1="573.6" y1="172.5" x2="573.6" y2="174.5" stroke="#454545" stroke-width="1.1"/>
<line x1="614.8" y1="172.5" x2="614.8" y2="174.5" stroke="#454545" stroke-width="1.1"/>
<line x1="656.1" y1="172.5" x2="656.1" y2="174.5" stroke="#454545" stroke-width="1.1"/>
<text x="573.4" y="196.0" font-size="9.6" text-anchor="middle" >Binding energy (eV)</text>
<text x="0" y="0" font-size="10.15" text-anchor="middle" transform="translate(464.8,90.4) rotate(-90)">Intensity (a.u)</text>
<text x="473.6" y="17.6" font-size="14.2" text-anchor="start" class="ser">(c)</text>
<text x="574.2" y="19.7" font-size="9.6305" text-anchor="middle" >C 1s</text>
<text x="616.0" y="44.3" font-size="9.836500000000001" text-anchor="middle" >C-C/C=C/C-H</text>
<text x="615.8" y="57.0" font-size="9.785" text-anchor="middle" >(284.80 eV)</text>
<text x="517.6" y="88.4" font-size="9.6305" text-anchor="middle" >C-N</text>
<text x="517.1" y="100.3" font-size="9.888" text-anchor="middle" >(285.79 eV)</text>
<path d="M13.1,355.6L13.6,356.1L14.1,356.9L14.6,357.7L15.1,358.4L15.6,359.0L16.1,359.3L16.6,359.4L17.1,359.1L17.6,358.7L18.1,358.1L18.6,357.4L19.1,356.9L19.6,356.4L20.1,356.1L20.6,355.9L21.1,355.7L21.6,355.6L22.1,355.6L22.6,355.6L23.1,355.6L23.6,355.6L24.1,355.6L24.6,355.6L25.1,355.6L25.6,355.5L26.1,355.5L26.6,355.5L27.1,355.5L27.6,355.5L28.1,355.5L28.6,355.5L29.1,355.5L29.6,355.5L30.1,355.5L30.6,355.5L31.1,355.5L31.6,355.5L32.1,355.5L32.6,355.5L33.1,355.5L33.6,355.5L34.1,355.5L34.6,355.5L35.1,355.5L35.6,355.5L36.1,355.5L36.6,355.5L37.1,355.5L37.6,355.5L38.1,355.5L38.6,355.5L39.1,355.5L39.6,355.5L40.1,355.5L40.6,355.5L41.1,355.5L41.6,355.4L42.1,355.4L42.6,355.4L43.1,355.4L43.6,355.4L44.1,355.4L44.6,355.4L45.1,355.4L45.6,355.4L46.1,355.4L46.6,355.4L47.1,355.4L47.6,355.4L48.1,355.4L48.6,355.4L49.1,355.4L49.6,355.4L50.1,355.4L50.6,355.4L51.1,355.4L51.6,355.4L52.1,355.4L52.6,355.4L53.1,355.4L53.6,355.4L54.1,355.3L54.6,355.3L55.1,355.3L55.6,355.3L56.1,355.3L56.6,355.3L57.1,355.3L57.6,355.3L58.1,355.3L58.6,355.3L59.1,355.3L59.6,355.3L60.1,355.3L60.6,355.3L61.1,355.3L61.6,355.3L62.1,355.3L62.6,355.3L63.1,355.3L63.6,355.3L64.1,355.3L64.6,355.3L65.1,355.3L65.6,355.3L66.1,355.2L66.6,355.2L67.1,355.2L67.6,355.2L68.1,355.2L68.6,355.2L69.1,355.2L69.6,355.2L70.1,355.2L70.6,355.2L71.1,355.2L71.6,355.2L72.1,355.2L72.6,355.2L73.1,355.2L73.6,355.2L74.1,355.2L74.6,355.2L75.1,355.2L75.6,355.1L76.1,355.1L76.6,355.1L77.1,355.1L77.6,355.1L78.1,355.1L78.6,355.1L79.1,355.1L79.6,355.1L80.1,355.1L80.6,355.1L81.1,355.1L81.6,355.1L82.1,355.1L82.6,355.0L83.1,355.0L83.6,355.0L84.1,355.0L84.6,355.0L85.1,355.0L85.6,355.0L86.1,355.0L86.6,355.0L87.1,354.9L87.6,354.9L88.1,354.9L88.6,354.9L89.1,354.9L89.6,354.9L90.1,354.8L90.6,354.8L91.1,354.8L91.6,354.8L92.1,354.8L92.6,354.7L93.1,354.7L93.6,354.7L94.1,354.7L94.6,354.7L95.1,354.6L95.6,354.6L96.1,354.6L96.6,354.6L97.1,354.5L97.6,354.5L98.1,354.5L98.6,354.5L99.1,354.4L99.6,354.4L100.1,354.4L100.6,354.4L101.1,354.3L101.6,354.3L102.1,354.3L102.6,354.3L103.1,354.2L103.6,354.2L104.1,354.2L104.6,354.2L105.1,354.1L105.6,354.1L106.1,354.1L106.6,354.0L107.1,354.0L107.6,354.0L108.1,354.0L108.6,353.9L109.1,353.9L109.6,353.9L110.1,353.8L110.6,353.8L111.1,353.8L111.6,353.8L112.1,353.7L112.6,353.7L113.1,353.7L113.6,353.7L114.1,353.6L114.6,353.6L115.1,353.6L115.6,353.6L116.1,353.6L116.6,353.5L117.1,353.5L117.6,353.5L118.1,353.5L118.6,353.5L119.1,353.4L119.6,353.4L120.1,353.4L120.6,353.4L121.1,353.4L121.6,353.4L122.1,353.3L122.6,353.3L123.1,353.3L123.6,353.3L124.1,353.3L124.6,353.3L125.1,353.2L125.6,353.2L126.1,353.2L126.6,353.2L127.1,353.2L127.6,353.2L128.1,353.2L128.6,353.1L129.1,353.1L129.6,353.1L130.1,353.1L130.6,353.1L131.1,353.1L131.6,353.1L132.1,353.0L132.6,353.0L133.1,353.0L133.6,353.0L134.1,353.0L134.6,353.0L135.1,353.0L135.6,352.9L136.1,352.9L136.6,352.9L137.1,352.9L137.6,352.9L138.1,352.9L138.6,352.9L139.1,352.8L139.6,352.8L140.1,352.8L140.6,352.8L141.1,352.8L141.6,352.8L142.1,352.8L142.6,352.7L143.1,352.7L143.6,352.7L144.1,352.7L144.6,352.7L145.1,352.7L145.6,352.7L146.1,352.7L146.6,352.7L147.1,352.6L147.6,352.6L148.1,352.6L148.6,352.6L149.1,352.6L149.6,352.6L150.1,352.6L150.6,352.6L151.1,352.6L151.6,352.6L152.1,352.6L152.6,352.6L153.1,352.6L153.6,352.6L154.1,352.5L154.6,352.5L155.1,352.5L155.6,352.5L156.1,352.5L156.6,352.5L157.1,352.5L157.6,352.5L158.1,352.5L158.6,352.5L159.1,352.5L159.6,352.5L160.1,352.5L160.6,352.5L161.1,352.4L161.6,352.4L162.1,352.4L162.6,352.4L163.1,352.4L163.6,352.4L164.1,352.4L164.6,352.4L165.1,352.4L165.6,352.4L166.1,352.4L166.6,352.4L167.1,352.4L167.6,352.4L168.1,352.4L168.6,352.4L169.1,352.3L169.6,352.3L170.1,352.3L170.6,352.3L171.1,352.3L171.6,352.3L172.1,352.3L172.6,352.3L173.1,352.3L173.6,352.3L174.1,352.3L174.6,352.3L175.1,352.3L175.6,352.3L176.1,352.3L176.6,352.3L177.1,352.3L177.6,352.3L178.1,352.2L178.6,352.2L179.1,352.2L179.6,352.2L180.1,352.2L180.6,352.2L181.1,352.2L181.6,352.2L182.1,352.2L182.6,352.2L183.1,352.2L183.6,352.2L184.1,352.2L184.6,352.2L185.1,352.2L185.6,352.2L186.1,352.2L186.6,352.2L187.1,352.2L187.6,352.2L188.1,352.2L188.6,352.1L189.1,352.1L189.6,352.1L190.1,352.1L190.6,352.1L191.1,352.1L191.6,352.1L192.1,352.1L192.6,352.1L193.1,352.1L193.6,352.1L194.1,352.1L194.6,352.1L195.1,352.1L195.6,352.1L196.1,352.1L196.6,352.1L197.1,352.1L197.6,352.1L198.1,352.1L198.6,352.1L199.1,352.1L199.6,352.1L200.1,352.1L200.6,352.1L201.1,352.1L201.6,352.1L202.1,352.1L202.6,352.0L203.1,352.0L203.6,352.0L204.1,352.0L204.6,352.0L205.1,352.0L205.6,352.0L206.1,352.0L206.6,352.0L207.1,352.0L207.6,352.0L208.1,352.0L208.6,352.0L209.1,352.0L209.6,352.0L210.1,352.0L210.6,352.0L211.1,352.0L211.6,352.0L212.1,352.0L212.6,352.0L213.1,352.0L213.6,352.0L214.1,352.0L214.6,352.0L215.1,352.0L215.6,352.0L216.1,352.0L216.6,352.0L217.1,352.0L217.6,352.0L218.1,352.0L218.6,352.0L219.1,352.0L219.6,352.0" fill="none" stroke="#389a38" stroke-width="1.3" stroke-linejoin="round" stroke-linecap="round" />
<path d="M13.1,354.7L13.6,355.3L14.1,356.0L14.6,356.8L15.1,357.6L15.6,358.1L16.1,358.4L16.6,358.5L17.1,358.2L17.6,357.7L18.1,357.1L18.6,356.5L19.1,355.9L19.6,355.4L20.1,355.1L20.6,354.9L21.1,354.7L21.6,354.6L22.1,354.6L22.6,354.5L23.1,354.5L23.6,354.5L24.1,354.5L24.6,354.5L25.1,354.4L25.6,354.4L26.1,354.4L26.6,354.4L27.1,354.4L27.6,354.4L28.1,354.3L28.6,354.3L29.1,354.3L29.6,354.3L30.1,354.3L30.6,354.2L31.1,354.2L31.6,354.2L32.1,354.2L32.6,354.2L33.1,354.1L33.6,354.1L34.1,354.1L34.6,354.1L35.1,354.1L35.6,354.0L36.1,354.0L36.6,354.0L37.1,354.0L37.6,353.9L38.1,353.9L38.6,353.9L39.1,353.9L39.6,353.8L40.1,353.8L40.6,353.8L41.1,353.7L41.6,353.7L42.1,353.7L42.6,353.7L43.1,353.6L43.6,353.6L44.1,353.6L44.6,353.5L45.1,353.5L45.6,353.4L46.1,353.4L46.6,353.4L47.1,353.3L47.6,353.3L48.1,353.2L48.6,353.2L49.1,353.2L49.6,353.1L50.1,353.1L50.6,353.0L51.1,353.0L51.6,352.9L52.1,352.8L52.6,352.8L53.1,352.7L53.6,352.7L54.1,352.6L54.6,352.5L55.1,352.4L55.6,352.4L56.1,352.3L56.6,352.2L57.1,352.1L57.6,352.0L58.1,351.9L58.6,351.8L59.1,351.7L59.6,351.6L60.1,351.4L60.6,351.3L61.1,351.2L61.6,351.0L62.1,350.8L62.6,350.7L63.1,350.5L63.6,350.3L64.1,350.1L64.6,349.9L65.1,349.6L65.6,349.4L66.1,349.1L66.6,348.8L67.1,348.5L67.6,348.2L68.1,347.9L68.6,347.5L69.1,347.2L69.6,346.8L70.1,346.4L70.6,345.9L71.1,345.4L71.6,344.9L72.1,344.4L72.6,343.9L73.1,343.3L73.6,342.7L74.1,342.0L74.6,341.4L75.1,340.6L75.6,339.9L76.1,339.1L76.6,338.3L77.1,337.5L77.6,336.6L78.1,335.6L78.6,334.7L79.1,333.7L79.6,332.6L80.1,331.5L80.6,330.4L81.1,329.3L81.6,328.1L82.1,326.8L82.6,325.6L83.1,324.3L83.6,322.9L84.1,321.5L84.6,320.1L85.1,318.7L85.6,317.2L86.1,315.7L86.6,314.1L87.1,312.6L87.6,311.0L88.1,309.4L88.6,307.7L89.1,306.1L89.6,304.4L90.1,302.8L90.6,301.1L91.1,299.4L91.6,297.8L92.1,296.1L92.6,294.4L93.1,292.8L93.6,291.2L94.1,289.6L94.6,288.0L95.1,286.5L95.6,285.0L96.1,283.6L96.6,282.2L97.1,280.9L97.6,279.6L98.1,278.4L98.6,277.3L99.1,276.3L99.6,275.3L100.1,274.5L100.6,273.7L101.1,273.1L101.6,272.5L102.1,272.0L102.6,271.7L103.1,271.4L103.6,271.3L104.1,271.3L104.6,271.4L105.1,271.6L105.6,271.9L106.1,272.3L106.6,272.9L107.1,273.5L107.6,274.2L108.1,275.1L108.6,276.0L109.1,277.0L109.6,278.1L110.1,279.2L110.6,280.4L111.1,281.7L111.6,283.1L112.1,284.5L112.6,285.9L113.1,287.4L113.6,288.9L114.1,290.5L114.6,292.0L115.1,293.6L115.6,295.2L116.1,296.9L116.6,298.5L117.1,300.1L117.6,301.8L118.1,303.4L118.6,305.0L119.1,306.6L119.6,308.2L120.1,309.8L120.6,311.3L121.1,312.8L121.6,314.4L122.1,315.8L122.6,317.3L123.1,318.7L123.6,320.1L124.1,321.4L124.6,322.7L125.1,324.0L125.6,325.3L126.1,326.5L126.6,327.6L127.1,328.8L127.6,329.9L128.1,330.9L128.6,331.9L129.1,332.9L129.6,333.8L130.1,334.7L130.6,335.6L131.1,336.4L131.6,337.2L132.1,337.9L132.6,338.7L133.1,339.3L133.6,340.0L134.1,340.6L134.6,341.2L135.1,341.7L135.6,342.3L136.1,342.8L136.6,343.2L137.1,343.7L137.6,344.1L138.1,344.5L138.6,344.9L139.1,345.2L139.6,345.6L140.1,345.9L140.6,346.2L141.1,346.4L141.6,346.7L142.1,346.9L142.6,347.2L143.1,347.4L143.6,347.6L144.1,347.8L144.6,347.9L145.1,348.1L145.6,348.3L146.1,348.4L146.6,348.6L147.1,348.7L147.6,348.8L148.1,348.9L148.6,349.0L149.1,349.1L149.6,349.2L150.1,349.3L150.6,349.4L151.1,349.5L151.6,349.5L152.1,349.6L152.6,349.7L153.1,349.7L153.6,349.8L154.1,349.9L154.6,349.9L155.1,350.0L155.6,350.0L156.1,350.1L156.6,350.1L157.1,350.1L157.6,350.2L158.1,350.2L158.6,350.3L159.1,350.3L159.6,350.3L160.1,350.4L160.6,350.4L161.1,350.4L161.6,350.4L162.1,350.5L162.6,350.5L163.1,350.5L163.6,350.5L164.1,350.6L164.6,350.6L165.1,350.6L165.6,350.6L166.1,350.7L166.6,350.7L167.1,350.7L167.6,350.7L168.1,350.7L168.6,350.8L169.1,350.8L169.6,350.8L170.1,350.8L170.6,350.8L171.1,350.8L171.6,350.8L172.1,350.9L172.6,350.9L173.1,350.9L173.6,350.9L174.1,350.9L174.6,350.9L175.1,350.9L175.6,351.0L176.1,351.0L176.6,351.0L177.1,351.0L177.6,351.0L178.1,351.0L178.6,351.0L179.1,351.0L179.6,351.0L180.1,351.1L180.6,351.1L181.1,351.1L181.6,351.1L182.1,351.1L182.6,351.1L183.1,351.1L183.6,351.1L184.1,351.1L184.6,351.1L185.1,351.1L185.6,351.1L186.1,351.2L186.6,351.2L187.1,351.2L187.6,351.2L188.1,351.2L188.6,351.2L189.1,351.2L189.6,351.2L190.1,351.2L190.6,351.2L191.1,351.2L191.6,351.2L192.1,351.2L192.6,351.2L193.1,351.2L193.6,351.2L194.1,351.3L194.6,351.3L195.1,351.3L195.6,351.3L196.1,351.3L196.6,351.3L197.1,351.3L197.6,351.3L198.1,351.3L198.6,351.3L199.1,351.3L199.6,351.3L200.1,351.3L200.6,351.3L201.1,351.3L201.6,351.3L202.1,351.3L202.6,351.3L203.1,351.3L203.6,351.3L204.1,351.3L204.6,351.4L205.1,351.4L205.6,351.4L206.1,351.4L206.6,351.4L207.1,351.4L207.6,351.4L208.1,351.4L208.6,351.4L209.1,351.4L209.6,351.4L210.1,351.4L210.6,351.4L211.1,351.4L211.6,351.4L212.1,351.4L212.6,351.4L213.1,351.4L213.6,351.4L214.1,351.4L214.6,351.4L215.1,351.4L215.6,351.4L216.1,351.4L216.6,351.4L217.1,351.5L217.6,351.5L218.1,351.5L218.6,351.5L219.1,351.5L219.6,351.5" fill="none" stroke="#922a9c" stroke-width="1.3" stroke-linejoin="round" stroke-linecap="round" />
<path d="M13.1,354.9L13.6,355.4L14.1,356.2L14.6,357.0L15.1,357.7L15.6,358.3L16.1,358.6L16.6,358.6L17.1,358.4L17.6,357.9L18.1,357.3L18.6,356.7L19.1,356.1L19.6,355.6L20.1,355.3L20.6,355.1L21.1,354.9L21.6,354.8L22.1,354.8L22.6,354.8L23.1,354.7L23.6,354.7L24.1,354.7L24.6,354.7L25.1,354.7L25.6,354.7L26.1,354.7L26.6,354.7L27.1,354.7L27.6,354.6L28.1,354.6L28.6,354.6L29.1,354.6L29.6,354.6L30.1,354.6L30.6,354.6L31.1,354.6L31.6,354.5L32.1,354.5L32.6,354.5L33.1,354.5L33.6,354.5L34.1,354.5L34.6,354.5L35.1,354.5L35.6,354.4L36.1,354.4L36.6,354.4L37.1,354.4L37.6,354.4L38.1,354.4L38.6,354.3L39.1,354.3L39.6,354.3L40.1,354.3L40.6,354.3L41.1,354.3L41.6,354.2L42.1,354.2L42.6,354.2L43.1,354.2L43.6,354.2L44.1,354.2L44.6,354.1L45.1,354.1L45.6,354.1L46.1,354.1L46.6,354.1L47.1,354.0L47.6,354.0L48.1,354.0L48.6,354.0L49.1,354.0L49.6,353.9L50.1,353.9L50.6,353.9L51.1,353.9L51.6,353.8L52.1,353.8L52.6,353.8L53.1,353.8L53.6,353.8L54.1,353.7L54.6,353.7L55.1,353.7L55.6,353.6L56.1,353.6L56.6,353.6L57.1,353.6L57.6,353.5L58.1,353.5L58.6,353.5L59.1,353.4L59.6,353.4L60.1,353.4L60.6,353.4L61.1,353.3L61.6,353.3L62.1,353.2L62.6,353.2L63.1,353.2L63.6,353.1L64.1,353.1L64.6,353.1L65.1,353.0L65.6,353.0L66.1,352.9L66.6,352.9L67.1,352.8L67.6,352.8L68.1,352.7L68.6,352.7L69.1,352.6L69.6,352.6L70.1,352.5L70.6,352.5L71.1,352.4L71.6,352.3L72.1,352.3L72.6,352.2L73.1,352.1L73.6,352.0L74.1,351.9L74.6,351.8L75.1,351.8L75.6,351.7L76.1,351.6L76.6,351.4L77.1,351.3L77.6,351.2L78.1,351.1L78.6,351.0L79.1,350.8L79.6,350.7L80.1,350.5L80.6,350.4L81.1,350.2L81.6,350.0L82.1,349.8L82.6,349.6L83.1,349.4L83.6,349.2L84.1,348.9L84.6,348.7L85.1,348.4L85.6,348.1L86.1,347.9L86.6,347.5L87.1,347.2L87.6,346.9L88.1,346.5L88.6,346.1L89.1,345.7L89.6,345.3L90.1,344.9L90.6,344.4L91.1,343.9L91.6,343.4L92.1,342.9L92.6,342.3L93.1,341.7L93.6,341.1L94.1,340.5L94.6,339.9L95.1,339.2L95.6,338.5L96.1,337.7L96.6,336.9L97.1,336.1L97.6,335.3L98.1,334.5L98.6,333.6L99.1,332.7L99.6,331.7L100.1,330.7L100.6,329.7L101.1,328.7L101.6,327.6L102.1,326.5L102.6,325.4L103.1,324.2L103.6,323.1L104.1,321.8L104.6,320.6L105.1,319.3L105.6,318.0L106.1,316.7L106.6,315.4L107.1,314.0L107.6,312.7L108.1,311.3L108.6,309.8L109.1,308.4L109.6,307.0L110.1,305.5L110.6,304.0L111.1,302.6L111.6,301.1L112.1,299.6L112.6,298.1L113.1,296.7L113.6,295.2L114.1,293.8L114.6,292.3L115.1,290.9L115.6,289.5L116.1,288.1L116.6,286.8L117.1,285.4L117.6,284.1L118.1,282.9L118.6,281.7L119.1,280.5L119.6,279.4L120.1,278.3L120.6,277.3L121.1,276.4L121.6,275.5L122.1,274.7L122.6,273.9L123.1,273.3L123.6,272.7L124.1,272.1L124.6,271.7L125.1,271.4L125.6,271.1L126.1,270.9L126.6,270.8L127.1,270.8L127.6,270.9L128.1,271.1L128.6,271.3L129.1,271.6L129.6,272.1L130.1,272.6L130.6,273.2L131.1,273.8L131.6,274.5L132.1,275.3L132.6,276.2L133.1,277.1L133.6,278.1L134.1,279.2L134.6,280.3L135.1,281.4L135.6,282.6L136.1,283.8L136.6,285.1L137.1,286.4L137.6,287.7L138.1,289.1L138.6,290.4L139.1,291.8L139.6,293.2L140.1,294.7L140.6,296.1L141.1,297.5L141.6,298.9L142.1,300.4L142.6,301.8L143.1,303.3L143.6,304.7L144.1,306.1L144.6,307.5L145.1,308.9L145.6,310.3L146.1,311.6L146.6,312.9L147.1,314.3L147.6,315.6L148.1,316.8L148.6,318.1L149.1,319.3L149.6,320.5L150.1,321.7L150.6,322.8L151.1,323.9L151.6,325.0L152.1,326.1L152.6,327.1L153.1,328.1L153.6,329.1L154.1,330.0L154.6,330.9L155.1,331.8L155.6,332.7L156.1,333.5L156.6,334.3L157.1,335.0L157.6,335.8L158.1,336.5L158.6,337.2L159.1,337.8L159.6,338.4L160.1,339.0L160.6,339.6L161.1,340.1L161.6,340.7L162.1,341.2L162.6,341.6L163.1,342.1L163.6,342.5L164.1,342.9L164.6,343.3L165.1,343.7L165.6,344.1L166.1,344.4L166.6,344.7L167.1,345.0L167.6,345.3L168.1,345.6L168.6,345.8L169.1,346.1L169.6,346.3L170.1,346.5L170.6,346.7L171.1,346.9L171.6,347.1L172.1,347.3L172.6,347.5L173.1,347.6L173.6,347.8L174.1,347.9L174.6,348.0L175.1,348.2L175.6,348.3L176.1,348.4L176.6,348.5L177.1,348.6L177.6,348.7L178.1,348.8L178.6,348.9L179.1,348.9L179.6,349.0L180.1,349.1L180.6,349.2L181.1,349.2L181.6,349.3L182.1,349.3L182.6,349.4L183.1,349.5L183.6,349.5L184.1,349.6L184.6,349.6L185.1,349.6L185.6,349.7L186.1,349.7L186.6,349.8L187.1,349.8L187.6,349.8L188.1,349.9L188.6,349.9L189.1,349.9L189.6,350.0L190.1,350.0L190.6,350.0L191.1,350.1L191.6,350.1L192.1,350.1L192.6,350.1L193.1,350.2L193.6,350.2L194.1,350.2L194.6,350.2L195.1,350.3L195.6,350.3L196.1,350.3L196.6,350.3L197.1,350.4L197.6,350.4L198.1,350.4L198.6,350.4L199.1,350.4L199.6,350.4L200.1,350.5L200.6,350.5L201.1,350.5L201.6,350.5L202.1,350.5L202.6,350.5L203.1,350.6L203.6,350.6L204.1,350.6L204.6,350.6L205.1,350.6L205.6,350.6L206.1,350.7L206.6,350.7L207.1,350.7L207.6,350.7L208.1,350.7L208.6,350.7L209.1,350.7L209.6,350.8L210.1,350.8L210.6,350.8L211.1,350.8L211.6,350.8L212.1,350.8L212.6,350.8L213.1,350.8L213.6,350.8L214.1,350.9L214.6,350.9L215.1,350.9L215.6,350.9L216.1,350.9L216.6,350.9L217.1,350.9L217.6,350.9L218.1,350.9L218.6,351.0L219.1,351.0L219.6,351.0" fill="none" stroke="#86192e" stroke-width="1.3" stroke-linejoin="round" stroke-linecap="round" />
<path d="M13.1,354.6L13.6,354.7L14.1,355.0L14.6,355.3L15.1,355.7L15.6,356.0L16.1,356.0L16.6,355.9L17.1,355.6L17.6,355.2L18.1,354.8L18.6,354.4L19.1,354.1L19.6,354.1L20.1,354.3L20.6,354.6L21.1,355.1L21.6,355.7L22.1,356.3L22.6,356.8L23.1,357.2L23.6,357.4L24.1,357.3L24.6,356.9L25.1,356.3L25.6,355.5L26.1,354.5L26.6,353.4L27.1,352.3L27.6,351.1L28.1,350.0L28.6,349.0L29.1,348.2L29.6,347.6L30.1,347.3L30.6,347.2L31.1,347.5L31.6,348.0L32.1,348.8L32.6,349.8L33.1,350.9L33.6,352.2L34.1,353.5L34.6,354.8L35.1,356.1L35.6,357.4L36.1,358.6L36.6,359.7L37.1,360.6L37.6,361.2L38.1,361.6L38.6,361.8L39.1,361.6L39.6,361.3L40.1,360.7L40.6,359.9L41.1,359.1L41.6,358.1L42.1,357.1L42.6,356.0L43.1,354.9L43.6,353.9L44.1,353.0L44.6,352.1L45.1,351.5L45.6,351.0L46.1,350.7L46.6,350.7L47.1,350.8L47.6,351.2L48.1,351.7L48.6,352.3L49.1,353.0L49.6,353.7L50.1,354.4L50.6,355.1L51.1,355.6L51.6,356.1L52.1,356.4L52.6,356.6L53.1,356.5L53.6,356.1L54.1,355.5L54.6,354.8L55.1,354.0L55.6,353.2L56.1,352.4L56.6,351.8L57.1,351.3L57.6,351.1L58.1,351.2L58.6,351.6L59.1,352.1L59.6,352.8L60.1,353.5L60.6,354.2L61.1,354.9L61.6,355.4L62.1,355.7L62.6,355.8L63.1,355.5L63.6,354.8L64.1,353.6L64.6,352.1L65.1,350.1L65.6,347.9L66.1,345.5L66.6,343.0L67.1,340.4L67.6,337.8L68.1,335.3L68.6,333.1L69.1,331.1L69.6,329.5L70.1,328.4L70.6,327.9L71.1,327.9L71.6,328.6L72.1,329.6L72.6,330.8L73.1,332.0L73.6,333.0L74.1,333.7L74.6,334.2L75.1,334.4L75.6,334.4L76.1,334.2L76.6,333.8L77.1,333.2L77.6,332.4L78.1,331.5L78.6,330.5L79.1,329.4L79.6,328.2L80.1,326.9L80.6,325.6L81.1,324.2L81.6,322.8L82.1,321.3L82.6,319.8L83.1,318.3L83.6,316.6L84.1,315.0L84.6,313.3L85.1,311.5L85.6,309.7L86.1,307.9L86.6,306.0L87.1,304.1L87.6,302.1L88.1,300.1L88.6,298.0L89.1,296.0L89.6,293.9L90.1,291.8L90.6,289.6L91.1,287.4L91.6,285.2L92.1,283.0L92.6,280.8L93.1,278.6L93.6,276.4L94.1,274.2L94.6,272.0L95.1,269.8L95.6,267.6L96.1,265.4L96.6,263.3L97.1,261.2L97.6,259.2L98.1,257.1L98.6,255.2L99.1,253.3L99.6,251.4L100.1,249.6L100.6,247.9L101.1,246.2L101.6,244.6L102.1,243.1L102.6,241.6L103.1,240.2L103.6,238.8L104.1,237.4L104.6,236.1L105.1,234.8L105.6,233.6L106.1,232.3L106.6,231.1L107.1,229.8L107.6,228.6L108.1,227.5L108.6,226.5L109.1,225.8L109.6,225.3L110.1,225.3L110.6,225.4L111.1,225.8L111.6,226.3L112.1,226.8L112.6,227.2L113.1,227.5L113.6,227.6L114.1,227.3L114.6,226.7L115.1,225.8L115.6,224.6L116.1,223.2L116.6,221.7L117.1,220.2L117.6,218.8L118.1,217.7L118.6,217.3L119.1,217.5L119.6,218.6L120.1,220.3L120.6,222.6L121.1,225.1L121.6,227.7L122.1,230.2L122.6,232.6L123.1,234.8L123.6,236.6L124.1,238.0L124.6,239.0L125.1,239.6L125.6,239.8L126.1,239.7L126.6,239.4L127.1,239.1L127.6,238.9L128.1,239.0L128.6,239.4L129.1,240.3L129.6,241.7L130.1,243.6L130.6,246.0L131.1,248.8L131.6,251.7L132.1,254.8L132.6,257.9L133.1,260.8L133.6,263.4L134.1,265.9L134.6,268.1L135.1,270.1L135.6,271.9L136.1,273.6L136.6,275.2L137.1,276.6L137.6,278.0L138.1,279.4L138.6,280.6L139.1,281.9L139.6,283.2L140.1,284.5L140.6,285.9L141.1,287.3L141.6,288.8L142.1,290.2L142.6,291.7L143.1,293.3L143.6,294.8L144.1,296.4L144.6,297.9L145.1,299.4L145.6,301.0L146.1,302.5L146.6,304.0L147.1,305.5L147.6,306.9L148.1,308.3L148.6,309.7L149.1,311.0L149.6,312.2L150.1,313.4L150.6,314.6L151.1,315.7L151.6,316.7L152.1,317.7L152.6,318.6L153.1,319.5L153.6,320.3L154.1,321.0L154.6,321.7L155.1,322.4L155.6,323.0L156.1,323.6L156.6,324.2L157.1,324.8L157.6,325.5L158.1,326.2L158.6,327.0L159.1,328.0L159.6,329.0L160.1,330.2L160.6,331.6L161.1,333.1L161.6,334.8L162.1,336.5L162.6,338.3L163.1,340.1L163.6,341.8L164.1,343.4L164.6,344.9L165.1,346.2L165.6,347.3L166.1,348.1L166.6,348.7L167.1,349.0L167.6,349.0L168.1,348.9L168.6,348.6L169.1,348.2L169.6,347.8L170.1,347.3L170.6,346.8L171.1,346.3L171.6,345.9L172.1,345.6L172.6,345.5L173.1,345.5L173.6,345.8L174.1,346.3L174.6,346.9L175.1,347.8L175.6,348.7L176.1,349.8L176.6,350.9L177.1,352.0L177.6,353.1L178.1,354.2L178.6,355.1L179.1,355.9L179.6,356.5L180.1,356.9L180.6,357.0L181.1,356.9L181.6,356.5L182.1,355.8L182.6,355.1L183.1,354.2L183.6,353.3L184.1,352.4L184.6,351.6L185.1,350.9L185.6,350.4L186.1,350.2L186.6,350.3L187.1,350.7L187.6,351.2L188.1,351.9L188.6,352.6L189.1,353.2L189.6,353.5L190.1,353.6L190.6,353.3L191.1,352.8L191.6,352.1L192.1,351.3L192.6,350.5L193.1,349.6L193.6,348.9L194.1,348.3L194.6,347.9L195.1,347.7L195.6,347.8L196.1,348.0L196.6,348.4L197.1,348.9L197.6,349.5L198.1,350.2L198.6,351.0L199.1,351.7L199.6,352.4L200.1,353.1L200.6,353.8L201.1,354.3L201.6,354.8L202.1,355.3L202.6,355.6L203.1,355.9L203.6,356.1L204.1,356.2L204.6,356.2L205.1,356.1L205.6,355.9L206.1,355.7L206.6,355.4L207.1,355.0L207.6,354.5L208.1,354.0L208.6,353.5L209.1,353.1L209.6,352.6L210.1,352.2L210.6,351.8L211.1,351.5L211.6,351.4L212.1,351.3L212.6,351.3L213.1,351.5L213.6,351.8L214.1,352.1L214.6,352.4L215.1,352.7L215.6,352.9L216.1,353.0L216.6,353.0L217.1,352.8L217.6,352.5L218.1,352.2L218.6,351.8L219.1,351.3L219.6,350.8" fill="none" stroke="#28289a" stroke-width="1.2" stroke-linejoin="round" stroke-linecap="round" />
<path d="M13.1,354.0L13.6,354.5L14.1,355.3L14.6,356.1L15.1,356.8L15.6,357.4L16.1,357.7L16.6,357.7L17.1,357.4L17.6,357.0L18.1,356.4L18.6,355.7L19.1,355.1L19.6,354.7L20.1,354.3L20.6,354.1L21.1,353.9L21.6,353.8L22.1,353.7L22.6,353.7L23.1,353.7L23.6,353.6L24.1,353.6L24.6,353.6L25.1,353.6L25.6,353.5L26.1,353.5L26.6,353.5L27.1,353.5L27.6,353.4L28.1,353.4L28.6,353.4L29.1,353.4L29.6,353.3L30.1,353.3L30.6,353.3L31.1,353.3L31.6,353.2L32.1,353.2L32.6,353.2L33.1,353.1L33.6,353.1L34.1,353.1L34.6,353.0L35.1,353.0L35.6,353.0L36.1,352.9L36.6,352.9L37.1,352.9L37.6,352.8L38.1,352.8L38.6,352.7L39.1,352.7L39.6,352.7L40.1,352.6L40.6,352.6L41.1,352.5L41.6,352.5L42.1,352.4L42.6,352.4L43.1,352.4L43.6,352.3L44.1,352.3L44.6,352.2L45.1,352.2L45.6,352.1L46.1,352.1L46.6,352.0L47.1,351.9L47.6,351.9L48.1,351.8L48.6,351.8L49.1,351.7L49.6,351.6L50.1,351.6L50.6,351.5L51.1,351.4L51.6,351.4L52.1,351.3L52.6,351.2L53.1,351.1L53.6,351.0L54.1,350.9L54.6,350.8L55.1,350.8L55.6,350.7L56.1,350.5L56.6,350.4L57.1,350.3L57.6,350.2L58.1,350.1L58.6,349.9L59.1,349.8L59.6,349.6L60.1,349.5L60.6,349.3L61.1,349.2L61.6,349.0L62.1,348.8L62.6,348.6L63.1,348.4L63.6,348.1L64.1,347.9L64.6,347.6L65.1,347.4L65.6,347.1L66.1,346.8L66.6,346.5L67.1,346.1L67.6,345.8L68.1,345.4L68.6,345.0L69.1,344.5L69.6,344.1L70.1,343.6L70.6,343.1L71.1,342.6L71.6,342.0L72.1,341.4L72.6,340.8L73.1,340.2L73.6,339.5L74.1,338.8L74.6,338.0L75.1,337.2L75.6,336.4L76.1,335.5L76.6,334.6L77.1,333.6L77.6,332.6L78.1,331.6L78.6,330.5L79.1,329.3L79.6,328.2L80.1,326.9L80.6,325.7L81.1,324.3L81.6,323.0L82.1,321.5L82.6,320.1L83.1,318.6L83.6,317.0L84.1,315.4L84.6,313.7L85.1,312.0L85.6,310.3L86.1,308.5L86.6,306.6L87.1,304.7L87.6,302.8L88.1,300.9L88.6,298.9L89.1,296.8L89.6,294.7L90.1,292.6L90.6,290.5L91.1,288.4L91.6,286.2L92.1,284.0L92.6,281.8L93.1,279.6L93.6,277.3L94.1,275.1L94.6,272.8L95.1,270.6L95.6,268.4L96.1,266.2L96.6,264.0L97.1,261.8L97.6,259.7L98.1,257.6L98.6,255.5L99.1,253.5L99.6,251.5L100.1,249.6L100.6,247.7L101.1,245.9L101.6,244.2L102.1,242.5L102.6,240.9L103.1,239.4L103.6,237.9L104.1,236.5L104.6,235.2L105.1,234.0L105.6,232.9L106.1,231.8L106.6,230.8L107.1,229.9L107.6,229.1L108.1,228.3L108.6,227.6L109.1,227.0L109.6,226.5L110.1,226.0L110.6,225.6L111.1,225.2L111.6,224.9L112.1,224.7L112.6,224.5L113.1,224.4L113.6,224.3L114.1,224.3L114.6,224.4L115.1,224.5L115.6,224.6L116.1,224.8L116.6,225.0L117.1,225.3L117.6,225.7L118.1,226.1L118.6,226.5L119.1,227.0L119.6,227.6L120.1,228.2L120.6,228.8L121.1,229.5L121.6,230.3L122.1,231.1L122.6,231.9L123.1,232.8L123.6,233.8L124.1,234.8L124.6,235.9L125.1,237.0L125.6,238.2L126.1,239.4L126.6,240.6L127.1,242.0L127.6,243.3L128.1,244.7L128.6,246.2L129.1,247.6L129.6,249.1L130.1,250.7L130.6,252.3L131.1,253.9L131.6,255.5L132.1,257.2L132.6,258.9L133.1,260.6L133.6,262.3L134.1,264.0L134.6,265.7L135.1,267.5L135.6,269.2L136.1,270.9L136.6,272.7L137.1,274.4L137.6,276.1L138.1,277.8L138.6,279.6L139.1,281.2L139.6,282.9L140.1,284.6L140.6,286.2L141.1,287.9L141.6,289.5L142.1,291.1L142.6,292.6L143.1,294.2L143.6,295.7L144.1,297.2L144.6,298.7L145.1,300.2L145.6,301.6L146.1,303.0L146.6,304.4L147.1,305.8L147.6,307.1L148.1,308.4L148.6,309.7L149.1,311.0L149.6,312.2L150.1,313.5L150.6,314.7L151.1,315.8L151.6,317.0L152.1,318.1L152.6,319.2L153.1,320.3L153.6,321.4L154.1,322.4L154.6,323.5L155.1,324.5L155.6,325.4L156.1,326.4L156.6,327.3L157.1,328.2L157.6,329.1L158.1,330.0L158.6,330.8L159.1,331.6L159.6,332.4L160.1,333.2L160.6,333.9L161.1,334.6L161.6,335.3L162.1,336.0L162.6,336.6L163.1,337.2L163.6,337.8L164.1,338.4L164.6,338.9L165.1,339.4L165.6,339.9L166.1,340.4L166.6,340.9L167.1,341.3L167.6,341.7L168.1,342.1L168.6,342.5L169.1,342.9L169.6,343.2L170.1,343.6L170.6,343.9L171.1,344.2L171.6,344.5L172.1,344.7L172.6,345.0L173.1,345.2L173.6,345.5L174.1,345.7L174.6,345.9L175.1,346.1L175.6,346.2L176.1,346.4L176.6,346.6L177.1,346.7L177.6,346.9L178.1,347.0L178.6,347.2L179.1,347.3L179.6,347.4L180.1,347.5L180.6,347.6L181.1,347.7L181.6,347.8L182.1,347.9L182.6,348.0L183.1,348.1L183.6,348.2L184.1,348.2L184.6,348.3L185.1,348.4L185.6,348.4L186.1,348.5L186.6,348.6L187.1,348.6L187.6,348.7L188.1,348.7L188.6,348.8L189.1,348.8L189.6,348.9L190.1,348.9L190.6,349.0L191.1,349.0L191.6,349.0L192.1,349.1L192.6,349.1L193.1,349.2L193.6,349.2L194.1,349.2L194.6,349.3L195.1,349.3L195.6,349.3L196.1,349.4L196.6,349.4L197.1,349.4L197.6,349.5L198.1,349.5L198.6,349.5L199.1,349.6L199.6,349.6L200.1,349.6L200.6,349.6L201.1,349.7L201.6,349.7L202.1,349.7L202.6,349.7L203.1,349.8L203.6,349.8L204.1,349.8L204.6,349.8L205.1,349.9L205.6,349.9L206.1,349.9L206.6,349.9L207.1,349.9L207.6,350.0L208.1,350.0L208.6,350.0L209.1,350.0L209.6,350.1L210.1,350.1L210.6,350.1L211.1,350.1L211.6,350.1L212.1,350.1L212.6,350.2L213.1,350.2L213.6,350.2L214.1,350.2L214.6,350.2L215.1,350.3L215.6,350.3L216.1,350.3L216.6,350.3L217.1,350.3L217.6,350.3L218.1,350.4L218.6,350.4L219.1,350.4L219.6,350.4" fill="none" stroke="#1f9494" stroke-width="1.2" stroke-linejoin="round" stroke-linecap="round" />
<rect x="12.8" y="200.3" width="207.5" height="168.3" fill="none" stroke="#606060" stroke-width="1.3"/>
<line x1="12.2" y1="368.6" x2="221.0" y2="368.6" stroke="#454545" stroke-width="1.3"/>
<line x1="12.9" y1="368.6" x2="12.9" y2="372.0" stroke="#454545" stroke-width="1.1"/>
<text x="12.9" y="382.4" font-size="8.35" text-anchor="middle" >538</text>
<line x1="47.5" y1="368.6" x2="47.5" y2="372.0" stroke="#454545" stroke-width="1.1"/>
<text x="47.5" y="382.4" font-size="8.35" text-anchor="middle" >536</text>
<line x1="82.0" y1="368.6" x2="82.0" y2="372.0" stroke="#454545" stroke-width="1.1"/>
<text x="82.0" y="382.4" font-size="8.35" text-anchor="middle" >534</text>
<line x1="116.6" y1="368.6" x2="116.6" y2="372.0" stroke="#454545" stroke-width="1.1"/>
<text x="116.6" y="382.4" font-size="8.35" text-anchor="middle" >532</text>
<line x1="151.1" y1="368.6" x2="151.1" y2="372.0" stroke="#454545" stroke-width="1.1"/>
<text x="151.1" y="382.4" font-size="8.35" text-anchor="middle" >530</text>
<line x1="185.7" y1="368.6" x2="185.7" y2="372.0" stroke="#454545" stroke-width="1.1"/>
<text x="185.7" y="382.4" font-size="8.35" text-anchor="middle" >528</text>
<line x1="220.3" y1="368.6" x2="220.3" y2="372.0" stroke="#454545" stroke-width="1.1"/>
<text x="220.3" y="382.4" font-size="8.35" text-anchor="middle" >526</text>
<line x1="30.2" y1="368.6" x2="30.2" y2="370.6" stroke="#454545" stroke-width="1.1"/>
<line x1="64.7" y1="368.6" x2="64.7" y2="370.6" stroke="#454545" stroke-width="1.1"/>
<line x1="99.3" y1="368.6" x2="99.3" y2="370.6" stroke="#454545" stroke-width="1.1"/>
<line x1="133.9" y1="368.6" x2="133.9" y2="370.6" stroke="#454545" stroke-width="1.1"/>
<line x1="168.4" y1="368.6" x2="168.4" y2="370.6" stroke="#454545" stroke-width="1.1"/>
<line x1="203.0" y1="368.6" x2="203.0" y2="370.6" stroke="#454545" stroke-width="1.1"/>
<text x="118.2" y="393.6" font-size="9.6" text-anchor="middle" >Binding energy (eV)</text>
<text x="0" y="0" font-size="10.15" text-anchor="middle" transform="translate(9.7,287.6) rotate(-90)">Intensity (a.u)</text>
<text x="16.1" y="213.7" font-size="14.2" text-anchor="start" class="ser">(d)</text>
<text x="118.0" y="213.9" font-size="9.6305" text-anchor="middle" >O 1s</text>
<text x="60.9" y="273.9" font-size="9.7335" text-anchor="middle" >Zn-O</text>
<text x="61.4" y="286.2" font-size="9.7335" text-anchor="middle" >(532.74 eV)</text>
<text x="176.3" y="272.2" font-size="9.888" text-anchor="middle" >Zn-OH/Mo-O-Mo</text>
<text x="176.5" y="284.2" font-size="9.785" text-anchor="middle" >(531.41 eV)</text>
<path d="M241.5,354.6L242.0,354.6L242.5,354.6L243.0,354.6L243.5,354.6L244.0,354.6L244.5,354.6L245.0,354.6L245.5,354.6L246.0,354.6L246.5,354.6L247.0,354.6L247.5,354.6L248.0,354.6L248.5,354.6L249.0,354.6L249.5,354.6L250.0,354.6L250.5,354.6L251.0,354.6L251.5,354.7L252.0,354.7L252.5,354.7L253.0,354.7L253.5,354.7L254.0,354.7L254.5,354.7L255.0,354.7L255.5,354.7L256.0,354.7L256.5,354.7L257.0,354.7L257.5,354.6L258.0,354.6L258.5,354.6L259.0,354.6L259.5,354.6L260.0,354.6L260.5,354.6L261.0,354.6L261.5,354.6L262.0,354.6L262.5,354.6L263.0,354.6L263.5,354.6L264.0,354.6L264.5,354.6L265.0,354.6L265.5,354.6L266.0,354.6L266.5,354.6L267.0,354.6L267.5,354.6L268.0,354.5L268.5,354.5L269.0,354.5L269.5,354.5L270.0,354.5L270.5,354.5L271.0,354.4L271.5,354.4L272.0,354.4L272.5,354.4L273.0,354.3L273.5,354.3L274.0,354.3L274.5,354.2L275.0,354.2L275.5,354.2L276.0,354.1L276.5,354.1L277.0,354.0L277.5,354.0L278.0,353.9L278.5,353.8L279.0,353.8L279.5,353.7L280.0,353.6L280.5,353.5L281.0,353.5L281.5,353.4L282.0,353.3L282.5,353.2L283.0,353.1L283.5,353.0L284.0,352.9L284.5,352.8L285.0,352.7L285.5,352.5L286.0,352.4L286.5,352.3L287.0,352.2L287.5,352.0L288.0,351.9L288.5,351.8L289.0,351.6L289.5,351.5L290.0,351.3L290.5,351.2L291.0,351.0L291.5,350.9L292.0,350.7L292.5,350.6L293.0,350.4L293.5,350.3L294.0,350.1L294.5,350.0L295.0,349.8L295.5,349.7L296.0,349.5L296.5,349.4L297.0,349.3L297.5,349.2L298.0,349.0L298.5,348.9L299.0,348.8L299.5,348.7L300.0,348.6L300.5,348.6L301.0,348.5L301.5,348.4L302.0,348.4L302.5,348.3L303.0,348.3L303.5,348.3L304.0,348.3L304.5,348.3L305.0,348.3L305.5,348.4L306.0,348.4L306.5,348.4L307.0,348.5L307.5,348.6L308.0,348.7L308.5,348.7L309.0,348.8L309.5,348.9L310.0,349.1L310.5,349.2L311.0,349.3L311.5,349.4L312.0,349.6L312.5,349.7L313.0,349.9L313.5,350.0L314.0,350.2L314.5,350.3L315.0,350.5L315.5,350.6L316.0,350.8L316.5,350.9L317.0,351.1L317.5,351.2L318.0,351.4L318.5,351.6L319.0,351.7L319.5,351.9L320.0,352.0L320.5,352.1L321.0,352.3L321.5,352.4L322.0,352.5L322.5,352.7L323.0,352.8L323.5,352.9L324.0,353.0L324.5,353.2L325.0,353.3L325.5,353.4L326.0,353.5L326.5,353.6L327.0,353.7L327.5,353.7L328.0,353.8L328.5,353.9L329.0,354.0L329.5,354.1L330.0,354.1L330.5,354.2L331.0,354.3L331.5,354.3L332.0,354.4L332.5,354.4L333.0,354.5L333.5,354.5L334.0,354.6L334.5,354.6L335.0,354.6L335.5,354.7L336.0,354.7L336.5,354.7L337.0,354.8L337.5,354.8L338.0,354.8L338.5,354.8L339.0,354.9L339.5,354.9L340.0,354.9L340.5,354.9L341.0,354.9L341.5,354.9L342.0,355.0L342.5,355.0L343.0,355.0L343.5,355.0L344.0,355.0L344.5,355.0L345.0,355.0L345.5,355.0L346.0,355.0L346.5,355.1L347.0,355.1L347.5,355.1L348.0,355.1L348.5,355.1L349.0,355.1L349.5,355.1L350.0,355.1L350.5,355.1L351.0,355.1L351.5,355.1L352.0,355.1L352.5,355.1L353.0,355.1L353.5,355.1L354.0,355.2L354.5,355.2L355.0,355.2L355.5,355.2L356.0,355.2L356.5,355.2L357.0,355.2L357.5,355.2L358.0,355.2L358.5,355.2L359.0,355.2L359.5,355.2L360.0,355.2L360.5,355.2L361.0,355.2L361.5,355.2L362.0,355.2L362.5,355.2L363.0,355.2L363.5,355.2L364.0,355.2L364.5,355.2L365.0,355.2L365.5,355.2L366.0,355.3L366.5,355.3L367.0,355.3L367.5,355.3L368.0,355.3L368.5,355.3L369.0,355.3L369.5,355.3L370.0,355.3L370.5,355.3L371.0,355.3L371.5,355.3L372.0,355.3L372.5,355.3L373.0,355.3L373.5,355.3L374.0,355.3L374.5,355.3L375.0,355.3L375.5,355.3L376.0,355.3L376.5,355.3L377.0,355.3L377.5,355.3L378.0,355.3L378.5,355.3L379.0,355.3L379.5,355.3L380.0,355.3L380.5,355.3L381.0,355.4L381.5,355.4L382.0,355.4L382.5,355.4L383.0,355.4L383.5,355.4L384.0,355.4L384.5,355.4L385.0,355.4L385.5,355.4L386.0,355.4L386.5,355.4L387.0,355.4L387.5,355.4L388.0,355.4L388.5,355.4L389.0,355.4L389.5,355.4L390.0,355.4L390.5,355.4L391.0,355.4L391.5,355.4L392.0,355.4L392.5,355.4L393.0,355.4L393.5,355.4L394.0,355.4L394.5,355.4L395.0,355.4L395.5,355.4L396.0,355.4L396.5,355.4L397.0,355.4L397.5,355.4L398.0,355.5L398.5,355.5L399.0,355.5L399.5,355.5L400.0,355.5L400.5,355.5L401.0,355.5L401.5,355.5L402.0,355.5L402.5,355.5L403.0,355.5L403.5,355.5L404.0,355.5L404.5,355.5L405.0,355.5L405.5,355.5L406.0,355.5L406.5,355.5L407.0,355.5L407.5,355.5L408.0,355.5L408.5,355.5L409.0,355.5L409.5,355.5L410.0,355.5L410.5,355.5L411.0,355.5L411.5,355.5L412.0,355.5L412.5,355.5L413.0,355.5L413.5,355.5L414.0,355.5L414.5,355.5L415.0,355.5L415.5,355.5L416.0,355.6L416.5,355.6L417.0,355.6L417.5,355.6L418.0,355.6L418.5,355.6L419.0,355.6L419.5,355.6L420.0,355.6L420.5,355.6L421.0,355.6L421.5,355.6L422.0,355.6L422.5,355.6L423.0,355.6L423.5,355.6L424.0,355.6L424.5,355.6L425.0,355.6L425.5,355.6L426.0,355.6L426.5,355.6L427.0,355.6L427.5,355.6L428.0,355.6L428.5,355.6L429.0,355.6L429.5,355.6L430.0,355.6L430.5,355.6L431.0,355.6L431.5,355.6L432.0,355.6L432.5,355.6L433.0,355.6L433.5,355.6L434.0,355.6L434.5,355.6L435.0,355.7L435.5,355.7L436.0,355.7L436.5,355.7L437.0,355.7L437.5,355.7L438.0,355.7L438.5,355.7L439.0,355.7L439.5,355.7L440.0,355.7L440.5,355.7L441.0,355.7L441.5,355.7L442.0,355.7L442.5,355.7L443.0,355.7L443.5,355.7L444.0,355.7L444.5,355.7L445.0,355.7L445.5,355.7L446.0,355.7L446.5,355.7L447.0,355.7" fill="none" stroke="#389a38" stroke-width="1.3" stroke-linejoin="round" stroke-linecap="round" />
<path d="M241.5,354.3L242.0,354.3L242.5,354.3L243.0,354.3L243.5,354.3L244.0,354.3L244.5,354.3L245.0,354.3L245.5,354.3L246.0,354.3L246.5,354.3L247.0,354.3L247.5,354.3L248.0,354.3L248.5,354.3L249.0,354.2L249.5,354.2L250.0,354.2L250.5,354.2L251.0,354.2L251.5,354.2L252.0,354.2L252.5,354.2L253.0,354.2L253.5,354.2L254.0,354.2L254.5,354.2L255.0,354.2L255.5,354.2L256.0,354.2L256.5,354.2L257.0,354.2L257.5,354.2L258.0,354.2L258.5,354.2L259.0,354.2L259.5,354.2L260.0,354.2L260.5,354.1L261.0,354.1L261.5,354.1L262.0,354.1L262.5,354.1L263.0,354.1L263.5,354.1L264.0,354.1L264.5,354.1L265.0,354.1L265.5,354.1L266.0,354.1L266.5,354.1L267.0,354.1L267.5,354.0L268.0,354.0L268.5,354.0L269.0,354.0L269.5,354.0L270.0,354.0L270.5,354.0L271.0,354.0L271.5,354.0L272.0,354.0L272.5,353.9L273.0,353.9L273.5,353.9L274.0,353.9L274.5,353.9L275.0,353.9L275.5,353.9L276.0,353.9L276.5,353.8L277.0,353.8L277.5,353.8L278.0,353.8L278.5,353.8L279.0,353.8L279.5,353.7L280.0,353.7L280.5,353.7L281.0,353.7L281.5,353.7L282.0,353.6L282.5,353.6L283.0,353.6L283.5,353.6L284.0,353.6L284.5,353.5L285.0,353.5L285.5,353.5L286.0,353.5L286.5,353.4L287.0,353.4L287.5,353.4L288.0,353.3L288.5,353.3L289.0,353.3L289.5,353.2L290.0,353.2L290.5,353.2L291.0,353.1L291.5,353.1L292.0,353.0L292.5,353.0L293.0,352.9L293.5,352.9L294.0,352.8L294.5,352.8L295.0,352.7L295.5,352.6L296.0,352.6L296.5,352.5L297.0,352.4L297.5,352.3L298.0,352.2L298.5,352.1L299.0,352.0L299.5,351.9L300.0,351.7L300.5,351.6L301.0,351.4L301.5,351.2L302.0,351.0L302.5,350.8L303.0,350.6L303.5,350.4L304.0,350.1L304.5,349.8L305.0,349.5L305.5,349.2L306.0,348.9L306.5,348.5L307.0,348.1L307.5,347.6L308.0,347.1L308.5,346.6L309.0,346.1L309.5,345.5L310.0,344.9L310.5,344.2L311.0,343.5L311.5,342.7L312.0,341.9L312.5,341.0L313.0,340.1L313.5,339.2L314.0,338.1L314.5,337.1L315.0,336.0L315.5,334.8L316.0,333.6L316.5,332.3L317.0,331.0L317.5,329.6L318.0,328.1L318.5,326.7L319.0,325.1L319.5,323.5L320.0,321.9L320.5,320.3L321.0,318.6L321.5,316.9L322.0,315.1L322.5,313.3L323.0,311.6L323.5,309.8L324.0,308.0L324.5,306.2L325.0,304.4L325.5,302.6L326.0,300.9L326.5,299.1L327.0,297.5L327.5,295.8L328.0,294.3L328.5,292.8L329.0,291.4L329.5,290.1L330.0,288.8L330.5,287.7L331.0,286.7L331.5,285.8L332.0,285.1L332.5,284.5L333.0,284.0L333.5,283.7L334.0,283.5L334.5,283.5L335.0,283.6L335.5,283.8L336.0,284.2L336.5,284.6L337.0,285.2L337.5,285.8L338.0,286.6L338.5,287.5L339.0,288.4L339.5,289.4L340.0,290.5L340.5,291.7L341.0,293.0L341.5,294.3L342.0,295.6L342.5,297.0L343.0,298.5L343.5,300.0L344.0,301.5L344.5,303.0L345.0,304.5L345.5,306.1L346.0,307.7L346.5,309.3L347.0,310.8L347.5,312.4L348.0,313.9L348.5,315.5L349.0,317.0L349.5,318.5L350.0,320.0L350.5,321.5L351.0,322.9L351.5,324.3L352.0,325.6L352.5,327.0L353.0,328.3L353.5,329.5L354.0,330.8L354.5,331.9L355.0,333.1L355.5,334.2L356.0,335.2L356.5,336.3L357.0,337.2L357.5,338.2L358.0,339.1L358.5,339.9L359.0,340.7L359.5,341.5L360.0,342.3L360.5,343.0L361.0,343.6L361.5,344.3L362.0,344.9L362.5,345.4L363.0,346.0L363.5,346.5L364.0,347.0L364.5,347.4L365.0,347.8L365.5,348.2L366.0,348.6L366.5,349.0L367.0,349.3L367.5,349.6L368.0,349.9L368.5,350.2L369.0,350.4L369.5,350.6L370.0,350.9L370.5,351.1L371.0,351.3L371.5,351.4L372.0,351.6L372.5,351.8L373.0,351.9L373.5,352.0L374.0,352.2L374.5,352.3L375.0,352.4L375.5,352.5L376.0,352.6L376.5,352.7L377.0,352.8L377.5,352.9L378.0,352.9L378.5,353.0L379.0,353.1L379.5,353.1L380.0,353.2L380.5,353.3L381.0,353.3L381.5,353.4L382.0,353.4L382.5,353.5L383.0,353.5L383.5,353.6L384.0,353.6L384.5,353.6L385.0,353.7L385.5,353.7L386.0,353.7L386.5,353.8L387.0,353.8L387.5,353.8L388.0,353.9L388.5,353.9L389.0,353.9L389.5,354.0L390.0,354.0L390.5,354.0L391.0,354.0L391.5,354.1L392.0,354.1L392.5,354.1L393.0,354.1L393.5,354.2L394.0,354.2L394.5,354.2L395.0,354.2L395.5,354.3L396.0,354.3L396.5,354.3L397.0,354.3L397.5,354.3L398.0,354.4L398.5,354.4L399.0,354.4L399.5,354.4L400.0,354.4L400.5,354.5L401.0,354.5L401.5,354.5L402.0,354.5L402.5,354.5L403.0,354.5L403.5,354.6L404.0,354.6L404.5,354.6L405.0,354.6L405.5,354.6L406.0,354.6L406.5,354.6L407.0,354.7L407.5,354.7L408.0,354.7L408.5,354.7L409.0,354.7L409.5,354.7L410.0,354.7L410.5,354.8L411.0,354.8L411.5,354.8L412.0,354.8L412.5,354.8L413.0,354.8L413.5,354.8L414.0,354.8L414.5,354.8L415.0,354.9L415.5,354.9L416.0,354.9L416.5,354.9L417.0,354.9L417.5,354.9L418.0,354.9L418.5,354.9L419.0,354.9L419.5,354.9L420.0,355.0L420.5,355.0L421.0,355.0L421.5,355.0L422.0,355.0L422.5,355.0L423.0,355.0L423.5,355.0L424.0,355.0L424.5,355.0L425.0,355.1L425.5,355.1L426.0,355.1L426.5,355.1L427.0,355.1L427.5,355.1L428.0,355.1L428.5,355.1L429.0,355.1L429.5,355.1L430.0,355.1L430.5,355.1L431.0,355.1L431.5,355.2L432.0,355.2L432.5,355.2L433.0,355.2L433.5,355.2L434.0,355.2L434.5,355.2L435.0,355.2L435.5,355.2L436.0,355.2L436.5,355.2L437.0,355.2L437.5,355.2L438.0,355.2L438.5,355.3L439.0,355.3L439.5,355.3L440.0,355.3L440.5,355.3L441.0,355.3L441.5,355.3L442.0,355.3L442.5,355.3L443.0,355.3L443.5,355.3L444.0,355.3L444.5,355.3L445.0,355.3L445.5,355.3L446.0,355.3L446.5,355.4L447.0,355.4" fill="none" stroke="#922a9c" stroke-width="1.3" stroke-linejoin="round" stroke-linecap="round" />
<path d="M241.5,354.3L242.0,354.3L242.5,354.3L243.0,354.3L243.5,354.3L244.0,354.3L244.5,354.3L245.0,354.3L245.5,354.3L246.0,354.3L246.5,354.3L247.0,354.3L247.5,354.3L248.0,354.3L248.5,354.3L249.0,354.3L249.5,354.3L250.0,354.3L250.5,354.3L251.0,354.3L251.5,354.3L252.0,354.3L252.5,354.3L253.0,354.3L253.5,354.3L254.0,354.3L254.5,354.3L255.0,354.3L255.5,354.3L256.0,354.3L256.5,354.3L257.0,354.3L257.5,354.3L258.0,354.3L258.5,354.3L259.0,354.3L259.5,354.3L260.0,354.2L260.5,354.2L261.0,354.2L261.5,354.2L262.0,354.2L262.5,354.2L263.0,354.2L263.5,354.2L264.0,354.2L264.5,354.2L265.0,354.2L265.5,354.2L266.0,354.2L266.5,354.2L267.0,354.2L267.5,354.2L268.0,354.2L268.5,354.2L269.0,354.2L269.5,354.2L270.0,354.2L270.5,354.1L271.0,354.1L271.5,354.1L272.0,354.1L272.5,354.1L273.0,354.1L273.5,354.1L274.0,354.1L274.5,354.1L275.0,354.1L275.5,354.1L276.0,354.1L276.5,354.1L277.0,354.1L277.5,354.0L278.0,354.0L278.5,354.0L279.0,354.0L279.5,354.0L280.0,354.0L280.5,354.0L281.0,354.0L281.5,354.0L282.0,354.0L282.5,353.9L283.0,353.9L283.5,353.9L284.0,353.9L284.5,353.9L285.0,353.9L285.5,353.9L286.0,353.8L286.5,353.8L287.0,353.8L287.5,353.8L288.0,353.8L288.5,353.8L289.0,353.8L289.5,353.7L290.0,353.7L290.5,353.7L291.0,353.7L291.5,353.7L292.0,353.6L292.5,353.6L293.0,353.6L293.5,353.6L294.0,353.6L294.5,353.5L295.0,353.5L295.5,353.5L296.0,353.5L296.5,353.4L297.0,353.4L297.5,353.4L298.0,353.3L298.5,353.3L299.0,353.3L299.5,353.2L300.0,353.2L300.5,353.1L301.0,353.1L301.5,353.0L302.0,353.0L302.5,352.9L303.0,352.9L303.5,352.8L304.0,352.8L304.5,352.7L305.0,352.6L305.5,352.5L306.0,352.4L306.5,352.3L307.0,352.2L307.5,352.1L308.0,352.0L308.5,351.9L309.0,351.7L309.5,351.6L310.0,351.4L310.5,351.2L311.0,351.1L311.5,350.8L312.0,350.6L312.5,350.4L313.0,350.1L313.5,349.9L314.0,349.6L314.5,349.2L315.0,348.9L315.5,348.5L316.0,348.1L316.5,347.7L317.0,347.3L317.5,346.8L318.0,346.3L318.5,345.7L319.0,345.1L319.5,344.5L320.0,343.8L320.5,343.1L321.0,342.4L321.5,341.6L322.0,340.7L322.5,339.9L323.0,338.9L323.5,338.0L324.0,336.9L324.5,335.9L325.0,334.7L325.5,333.6L326.0,332.3L326.5,331.1L327.0,329.7L327.5,328.3L328.0,326.9L328.5,325.4L329.0,323.9L329.5,322.3L330.0,320.7L330.5,319.1L331.0,317.4L331.5,315.7L332.0,313.9L332.5,312.1L333.0,310.3L333.5,308.4L334.0,306.6L334.5,304.7L335.0,302.8L335.5,300.9L336.0,299.0L336.5,297.1L337.0,295.2L337.5,293.4L338.0,291.6L338.5,289.8L339.0,288.0L339.5,286.3L340.0,284.6L340.5,283.0L341.0,281.5L341.5,280.0L342.0,278.7L342.5,277.4L343.0,276.2L343.5,275.1L344.0,274.2L344.5,273.3L345.0,272.6L345.5,272.0L346.0,271.5L346.5,271.2L347.0,271.0L347.5,270.9L348.0,271.0L348.5,271.2L349.0,271.5L349.5,272.0L350.0,272.6L350.5,273.3L351.0,274.2L351.5,275.2L352.0,276.3L352.5,277.4L353.0,278.7L353.5,280.1L354.0,281.6L354.5,283.1L355.0,284.7L355.5,286.4L356.0,288.1L356.5,289.8L357.0,291.6L357.5,293.5L358.0,295.3L358.5,297.2L359.0,299.1L359.5,301.0L360.0,302.9L360.5,304.8L361.0,306.7L361.5,308.6L362.0,310.4L362.5,312.2L363.0,314.0L363.5,315.8L364.0,317.5L364.5,319.2L365.0,320.9L365.5,322.5L366.0,324.1L366.5,325.6L367.0,327.1L367.5,328.5L368.0,329.9L368.5,331.3L369.0,332.5L369.5,333.8L370.0,335.0L370.5,336.1L371.0,337.2L371.5,338.2L372.0,339.2L372.5,340.1L373.0,341.0L373.5,341.8L374.0,342.6L374.5,343.4L375.0,344.1L375.5,344.8L376.0,345.4L376.5,346.0L377.0,346.6L377.5,347.1L378.0,347.6L378.5,348.0L379.0,348.4L379.5,348.8L380.0,349.2L380.5,349.6L381.0,349.9L381.5,350.2L382.0,350.5L382.5,350.7L383.0,351.0L383.5,351.2L384.0,351.4L384.5,351.6L385.0,351.8L385.5,352.0L386.0,352.1L386.5,352.3L387.0,352.4L387.5,352.5L388.0,352.6L388.5,352.7L389.0,352.8L389.5,352.9L390.0,353.0L390.5,353.1L391.0,353.2L391.5,353.3L392.0,353.3L392.5,353.4L393.0,353.4L393.5,353.5L394.0,353.6L394.5,353.6L395.0,353.7L395.5,353.7L396.0,353.7L396.5,353.8L397.0,353.8L397.5,353.9L398.0,353.9L398.5,353.9L399.0,354.0L399.5,354.0L400.0,354.0L400.5,354.1L401.0,354.1L401.5,354.1L402.0,354.1L402.5,354.2L403.0,354.2L403.5,354.2L404.0,354.3L404.5,354.3L405.0,354.3L405.5,354.3L406.0,354.3L406.5,354.4L407.0,354.4L407.5,354.4L408.0,354.4L408.5,354.4L409.0,354.5L409.5,354.5L410.0,354.5L410.5,354.5L411.0,354.5L411.5,354.6L412.0,354.6L412.5,354.6L413.0,354.6L413.5,354.6L414.0,354.6L414.5,354.7L415.0,354.7L415.5,354.7L416.0,354.7L416.5,354.7L417.0,354.7L417.5,354.7L418.0,354.8L418.5,354.8L419.0,354.8L419.5,354.8L420.0,354.8L420.5,354.8L421.0,354.8L421.5,354.8L422.0,354.9L422.5,354.9L423.0,354.9L423.5,354.9L424.0,354.9L424.5,354.9L425.0,354.9L425.5,354.9L426.0,355.0L426.5,355.0L427.0,355.0L427.5,355.0L428.0,355.0L428.5,355.0L429.0,355.0L429.5,355.0L430.0,355.0L430.5,355.0L431.0,355.1L431.5,355.1L432.0,355.1L432.5,355.1L433.0,355.1L433.5,355.1L434.0,355.1L434.5,355.1L435.0,355.1L435.5,355.1L436.0,355.1L436.5,355.1L437.0,355.2L437.5,355.2L438.0,355.2L438.5,355.2L439.0,355.2L439.5,355.2L440.0,355.2L440.5,355.2L441.0,355.2L441.5,355.2L442.0,355.2L442.5,355.2L443.0,355.2L443.5,355.3L444.0,355.3L444.5,355.3L445.0,355.3L445.5,355.3L446.0,355.3L446.5,355.3L447.0,355.3" fill="none" stroke="#86192e" stroke-width="1.3" stroke-linejoin="round" stroke-linecap="round" />
<path d="M241.5,354.7L242.0,354.7L242.5,354.7L243.0,354.7L243.5,354.7L244.0,354.7L244.5,354.7L245.0,354.7L245.5,354.7L246.0,354.7L246.5,354.7L247.0,354.7L247.5,354.7L248.0,354.7L248.5,354.7L249.0,354.7L249.5,354.7L250.0,354.7L250.5,354.7L251.0,354.8L251.5,354.8L252.0,354.8L252.5,354.8L253.0,354.8L253.5,354.8L254.0,354.8L254.5,354.8L255.0,354.8L255.5,354.8L256.0,354.8L256.5,354.8L257.0,354.8L257.5,354.8L258.0,354.8L258.5,354.8L259.0,354.8L259.5,354.8L260.0,354.8L260.5,354.8L261.0,354.8L261.5,354.8L262.0,354.8L262.5,354.8L263.0,354.8L263.5,354.8L264.0,354.8L264.5,354.8L265.0,354.8L265.5,354.8L266.0,354.8L266.5,354.8L267.0,354.8L267.5,354.8L268.0,354.8L268.5,354.8L269.0,354.8L269.5,354.8L270.0,354.8L270.5,354.8L271.0,354.8L271.5,354.9L272.0,354.9L272.5,354.9L273.0,354.9L273.5,354.9L274.0,354.9L274.5,354.9L275.0,354.9L275.5,354.9L276.0,354.9L276.5,354.9L277.0,354.9L277.5,354.9L278.0,354.9L278.5,354.9L279.0,354.9L279.5,354.9L280.0,354.9L280.5,354.9L281.0,354.9L281.5,354.9L282.0,354.9L282.5,354.9L283.0,354.9L283.5,354.9L284.0,354.9L284.5,354.9L285.0,354.9L285.5,354.9L286.0,354.9L286.5,354.9L287.0,354.9L287.5,354.9L288.0,354.9L288.5,354.9L289.0,354.9L289.5,354.9L290.0,354.9L290.5,354.9L291.0,354.9L291.5,355.0L292.0,355.0L292.5,355.0L293.0,355.0L293.5,355.0L294.0,355.0L294.5,355.0L295.0,355.0L295.5,355.0L296.0,355.0L296.5,355.0L297.0,355.0L297.5,355.0L298.0,355.0L298.5,355.0L299.0,355.0L299.5,355.0L300.0,355.0L300.5,355.0L301.0,355.0L301.5,355.0L302.0,355.0L302.5,355.0L303.0,355.0L303.5,355.0L304.0,355.0L304.5,355.0L305.0,355.0L305.5,355.0L306.0,355.0L306.5,355.0L307.0,355.0L307.5,355.0L308.0,355.0L308.5,355.0L309.0,355.0L309.5,355.0L310.0,355.0L310.5,355.0L311.0,355.1L311.5,355.1L312.0,355.1L312.5,355.1L313.0,355.1L313.5,355.1L314.0,355.1L314.5,355.1L315.0,355.1L315.5,355.1L316.0,355.1L316.5,355.1L317.0,355.1L317.5,355.1L318.0,355.1L318.5,355.1L319.0,355.1L319.5,355.1L320.0,355.1L320.5,355.1L321.0,355.1L321.5,355.1L322.0,355.1L322.5,355.1L323.0,355.1L323.5,355.1L324.0,355.1L324.5,355.1L325.0,355.1L325.5,355.1L326.0,355.1L326.5,355.1L327.0,355.1L327.5,355.1L328.0,355.1L328.5,355.1L329.0,355.1L329.5,355.1L330.0,355.1L330.5,355.1L331.0,355.1L331.5,355.2L332.0,355.2L332.5,355.2L333.0,355.2L333.5,355.2L334.0,355.2L334.5,355.2L335.0,355.2L335.5,355.2L336.0,355.2L336.5,355.2L337.0,355.2L337.5,355.2L338.0,355.2L338.5,355.2L339.0,355.2L339.5,355.2L340.0,355.2L340.5,355.2L341.0,355.2L341.5,355.2L342.0,355.2L342.5,355.2L343.0,355.2L343.5,355.2L344.0,355.2L344.5,355.2L345.0,355.2L345.5,355.2L346.0,355.2L346.5,355.2L347.0,355.2L347.5,355.2L348.0,355.2L348.5,355.2L349.0,355.2L349.5,355.2L350.0,355.2L350.5,355.2L351.0,355.2L351.5,355.3L352.0,355.3L352.5,355.3L353.0,355.3L353.5,355.3L354.0,355.3L354.5,355.3L355.0,355.3L355.5,355.3L356.0,355.3L356.5,355.3L357.0,355.3L357.5,355.3L358.0,355.3L358.5,355.3L359.0,355.3L359.5,355.3L360.0,355.3L360.5,355.3L361.0,355.3L361.5,355.3L362.0,355.3L362.5,355.3L363.0,355.3L363.5,355.3L364.0,355.3L364.5,355.3L365.0,355.3L365.5,355.3L366.0,355.3L366.5,355.3L367.0,355.3L367.5,355.3L368.0,355.3L368.5,355.3L369.0,355.3L369.5,355.3L370.0,355.3L370.5,355.3L371.0,355.3L371.5,355.4L372.0,355.4L372.5,355.4L373.0,355.4L373.5,355.4L374.0,355.4L374.5,355.4L375.0,355.4L375.5,355.4L376.0,355.4L376.5,355.4L377.0,355.4L377.5,355.4L378.0,355.4L378.5,355.4L379.0,355.4L379.5,355.4L380.0,355.4L380.5,355.4L381.0,355.4L381.5,355.4L382.0,355.4L382.5,355.4L383.0,355.4L383.5,355.4L384.0,355.4L384.5,355.4L385.0,355.4L385.5,355.4L386.0,355.4L386.5,355.4L387.0,355.4L387.5,355.4L388.0,355.4L388.5,355.4L389.0,355.4L389.5,355.4L390.0,355.4L390.5,355.4L391.0,355.4L391.5,355.5L392.0,355.5L392.5,355.5L393.0,355.5L393.5,355.5L394.0,355.5L394.5,355.5L395.0,355.5L395.5,355.5L396.0,355.5L396.5,355.5L397.0,355.5L397.5,355.5L398.0,355.5L398.5,355.5L399.0,355.5L399.5,355.5L400.0,355.5L400.5,355.5L401.0,355.5L401.5,355.5L402.0,355.5L402.5,355.5L403.0,355.5L403.5,355.5L404.0,355.5L404.5,355.5L405.0,355.5L405.5,355.5L406.0,355.5L406.5,355.5L407.0,355.5L407.5,355.5L408.0,355.5L408.5,355.5L409.0,355.5L409.5,355.5L410.0,355.5L410.5,355.5L411.0,355.6L411.5,355.6L412.0,355.6L412.5,355.6L413.0,355.6L413.5,355.6L414.0,355.6L414.5,355.6L415.0,355.6L415.5,355.6L416.0,355.6L416.5,355.6L417.0,355.6L417.5,355.6L418.0,355.6L418.5,355.6L419.0,355.6L419.5,355.6L420.0,355.6L420.5,355.6L421.0,355.6L421.5,355.6L422.0,355.6L422.5,355.6L423.0,355.6L423.5,355.6L424.0,355.6L424.5,355.6L425.0,355.6L425.5,355.6L426.0,355.6L426.5,355.6L427.0,355.6L427.5,355.6L428.0,355.6L428.5,355.6L429.0,355.6L429.5,355.6L430.0,355.6L430.5,355.6L431.0,355.6L431.5,355.7L432.0,355.7L432.5,355.7L433.0,355.7L433.5,355.7L434.0,355.7L434.5,355.7L435.0,355.7L435.5,355.7L436.0,355.7L436.5,355.7L437.0,355.7L437.5,355.7L438.0,355.7L438.5,355.7L439.0,355.7L439.5,355.7L440.0,355.7L440.5,355.7L441.0,355.7L441.5,355.7L442.0,355.7L442.5,355.7L443.0,355.7L443.5,355.7L444.0,355.7L444.5,355.7L445.0,355.7L445.5,355.7L446.0,355.7L446.5,355.7L447.0,355.7" fill="none" stroke="#1f9494" stroke-width="1.3" stroke-linejoin="round" stroke-linecap="round" />
<path d="M241.5,354.7L242.0,354.5L242.5,354.2L243.0,354.6L243.5,354.5L244.0,354.2L244.5,354.1L245.0,354.1L245.5,355.0L246.0,355.4L246.5,355.3L247.0,354.6L247.5,354.4L248.0,354.3L248.5,354.3L249.0,354.5L249.5,354.7L250.0,354.9L250.5,354.9L251.0,354.8L251.5,354.9L252.0,355.2L252.5,355.0L253.0,354.6L253.5,354.7L254.0,355.1L254.5,355.2L255.0,354.9L255.5,354.8L256.0,354.7L256.5,354.6L257.0,354.6L257.5,355.0L258.0,355.0L258.5,354.9L259.0,354.3L259.5,354.2L260.0,354.2L260.5,354.2L261.0,354.0L261.5,354.4L262.0,354.6L262.5,354.2L263.0,354.0L263.5,354.1L264.0,354.5L264.5,354.6L265.0,354.6L265.5,354.4L266.0,354.3L266.5,353.9L267.0,353.7L267.5,353.9L268.0,354.0L268.5,353.6L269.0,353.5L269.5,353.0L270.0,353.1L270.5,353.2L271.0,353.3L271.5,353.0L272.0,352.8L272.5,353.0L273.0,352.7L273.5,352.4L274.0,352.4L274.5,353.0L275.0,352.7L275.5,352.2L276.0,352.0L276.5,352.2L277.0,352.4L277.5,352.1L278.0,352.0L278.5,351.5L279.0,351.7L279.5,351.6L280.0,351.5L280.5,350.7L281.0,350.8L281.5,351.0L282.0,351.2L282.5,351.0L283.0,350.7L283.5,350.2L284.0,349.6L284.5,349.2L285.0,349.4L285.5,349.2L286.0,348.9L286.5,348.5L287.0,348.6L287.5,348.7L288.0,348.4L288.5,347.7L289.0,347.4L289.5,347.8L290.0,348.1L290.5,347.9L291.0,347.4L291.5,347.1L292.0,346.8L292.5,346.7L293.0,346.3L293.5,346.0L294.0,345.6L294.5,345.5L295.0,345.2L295.5,345.3L296.0,345.2L296.5,344.8L297.0,343.5L297.5,342.3L298.0,341.5L298.5,341.3L299.0,340.3L299.5,339.8L300.0,339.4L300.5,338.8L301.0,337.6L301.5,336.6L302.0,336.2L302.5,335.8L303.0,335.7L303.5,335.1L304.0,334.4L304.5,333.5L305.0,333.2L305.5,332.7L306.0,332.2L306.5,331.2L307.0,330.3L307.5,329.4L308.0,329.1L308.5,328.7L309.0,328.1L309.5,327.1L310.0,326.3L310.5,325.6L311.0,324.7L311.5,323.8L312.0,323.5L312.5,322.8L313.0,321.6L313.5,320.1L314.0,319.0L314.5,318.1L315.0,317.3L315.5,316.3L316.0,314.9L316.5,313.5L317.0,312.0L317.5,310.2L318.0,308.4L318.5,306.5L319.0,304.1L319.5,301.1L320.0,297.8L320.5,294.4L321.0,291.0L321.5,287.5L322.0,283.4L322.5,279.0L323.0,274.8L323.5,270.7L324.0,266.8L324.5,263.7L325.0,261.0L325.5,258.7L326.0,256.5L326.5,254.5L327.0,252.4L327.5,250.2L328.0,248.0L328.5,245.6L329.0,243.3L329.5,241.1L330.0,239.2L330.5,237.8L331.0,236.5L331.5,235.4L332.0,234.1L332.5,232.8L333.0,231.5L333.5,230.2L334.0,228.7L334.5,227.3L335.0,225.8L335.5,224.6L336.0,223.3L336.5,222.3L337.0,221.3L337.5,220.4L338.0,219.5L338.5,218.8L339.0,218.1L339.5,217.4L340.0,216.7L340.5,216.0L341.0,215.6L341.5,215.7L342.0,216.3L342.5,217.1L343.0,218.0L343.5,218.9L344.0,219.9L344.5,221.1L345.0,222.3L345.5,223.7L346.0,225.1L346.5,226.6L347.0,228.3L347.5,230.0L348.0,231.8L348.5,233.7L349.0,235.6L349.5,237.7L350.0,239.9L350.5,242.3L351.0,244.7L351.5,247.2L352.0,249.8L352.5,252.3L353.0,254.8L353.5,257.4L354.0,260.1L354.5,262.8L355.0,265.5L355.5,268.2L356.0,270.9L356.5,273.5L357.0,276.2L357.5,278.9L358.0,281.6L358.5,284.4L359.0,287.0L359.5,289.6L360.0,292.1L360.5,294.5L361.0,296.9L361.5,299.3L362.0,301.6L362.5,303.9L363.0,306.0L363.5,308.1L364.0,310.0L364.5,311.8L365.0,313.6L365.5,315.4L366.0,317.1L366.5,318.7L367.0,320.3L367.5,321.8L368.0,323.3L368.5,324.6L369.0,325.9L369.5,327.1L370.0,328.4L370.5,329.6L371.0,330.8L371.5,331.8L372.0,332.9L372.5,334.0L373.0,335.1L373.5,336.2L374.0,337.1L374.5,338.0L375.0,338.8L375.5,339.6L376.0,340.3L376.5,341.0L377.0,341.7L377.5,342.4L378.0,343.1L378.5,343.6L379.0,344.1L379.5,344.8L380.0,345.5L380.5,345.9L381.0,346.2L381.5,346.8L382.0,347.2L382.5,347.5L383.0,348.0L383.5,348.6L384.0,349.0L384.5,349.3L385.0,349.6L385.5,349.7L386.0,349.7L386.5,349.9L387.0,350.4L387.5,350.8L388.0,351.2L388.5,351.3L389.0,351.7L389.5,351.7L390.0,351.5L390.5,351.3L391.0,351.6L391.5,352.0L392.0,352.0L392.5,352.1L393.0,352.4L393.5,352.5L394.0,352.4L394.5,352.8L395.0,353.2L395.5,353.6L396.0,353.9L396.5,354.2L397.0,353.8L397.5,353.4L398.0,353.5L398.5,354.0L399.0,354.5L399.5,354.6L400.0,354.5L400.5,354.6L401.0,354.5L401.5,354.6L402.0,354.4L402.5,354.2L403.0,354.2L403.5,354.4L404.0,354.6L404.5,354.8L405.0,355.2L405.5,355.9L406.0,356.1L406.5,356.0L407.0,355.5L407.5,355.6L408.0,355.6L408.5,355.6L409.0,355.6L409.5,355.1L410.0,354.9L410.5,355.2L411.0,356.0L411.5,355.9L412.0,355.7L412.5,355.7L413.0,355.8L413.5,355.9L414.0,356.0L414.5,356.3L415.0,356.2L415.5,356.0L416.0,356.2L416.5,356.1L417.0,356.1L417.5,356.2L418.0,356.8L418.5,356.7L419.0,356.3L419.5,356.0L420.0,356.1L420.5,356.3L421.0,356.3L421.5,356.6L422.0,356.5L422.5,356.3L423.0,355.7L423.5,355.5L424.0,356.0L424.5,356.5L425.0,356.4L425.5,355.9L426.0,356.1L426.5,356.4L427.0,356.4L427.5,356.3L428.0,356.5L428.5,356.8L429.0,356.6L429.5,356.8L430.0,356.9L430.5,357.0L431.0,356.6L431.5,356.4L432.0,356.6L432.5,356.8L433.0,356.9L433.5,357.0L434.0,357.3L434.5,357.3L435.0,357.1L435.5,356.5L436.0,356.3L436.5,356.6L437.0,357.0L437.5,357.1L438.0,356.9L438.5,356.7L439.0,356.5L439.5,356.8L440.0,357.0L440.5,357.0L441.0,356.5L441.5,356.4L442.0,356.8L442.5,357.3L443.0,357.1L443.5,357.0L444.0,357.4L444.5,357.7L445.0,357.5L445.5,357.5L446.0,357.4L446.5,357.4L447.0,357.2" fill="none" stroke="#28289a" stroke-width="1.6" stroke-linejoin="round" stroke-linecap="round" />
<line x1="328.8" y1="297.4" x2="290.5" y2="272.2" stroke="#111" stroke-width="0.9"/>
<path d="M288.6,271.0 L294.2,272.6 L292.3,275.5 Z" fill="#111"/>
<rect x="241.2" y="200.5" width="206.3" height="167.5" fill="none" stroke="#606060" stroke-width="1.3"/>
<line x1="240.5" y1="368.0" x2="448.1" y2="368.0" stroke="#454545" stroke-width="1.3"/>
<line x1="241.2" y1="368.0" x2="241.2" y2="371.4" stroke="#454545" stroke-width="1.1"/>
<text x="241.2" y="381.0" font-size="8.35" text-anchor="middle" >404</text>
<line x1="282.4" y1="368.0" x2="282.4" y2="371.4" stroke="#454545" stroke-width="1.1"/>
<text x="282.4" y="381.0" font-size="8.35" text-anchor="middle" >402</text>
<line x1="323.7" y1="368.0" x2="323.7" y2="371.4" stroke="#454545" stroke-width="1.1"/>
<text x="323.7" y="381.0" font-size="8.35" text-anchor="middle" >400</text>
<line x1="364.9" y1="368.0" x2="364.9" y2="371.4" stroke="#454545" stroke-width="1.1"/>
<text x="364.9" y="381.0" font-size="8.35" text-anchor="middle" >398</text>
<line x1="406.2" y1="368.0" x2="406.2" y2="371.4" stroke="#454545" stroke-width="1.1"/>
<text x="406.2" y="381.0" font-size="8.35" text-anchor="middle" >396</text>
<line x1="447.4" y1="368.0" x2="447.4" y2="371.4" stroke="#454545" stroke-width="1.1"/>
<text x="447.4" y="381.0" font-size="8.35" text-anchor="middle" >394</text>
<line x1="261.8" y1="368.0" x2="261.8" y2="370.0" stroke="#454545" stroke-width="1.1"/>
<line x1="303.1" y1="368.0" x2="303.1" y2="370.0" stroke="#454545" stroke-width="1.1"/>
<line x1="344.3" y1="368.0" x2="344.3" y2="370.0" stroke="#454545" stroke-width="1.1"/>
<line x1="385.5" y1="368.0" x2="385.5" y2="370.0" stroke="#454545" stroke-width="1.1"/>
<line x1="426.8" y1="368.0" x2="426.8" y2="370.0" stroke="#454545" stroke-width="1.1"/>
<text x="348.3" y="392.9" font-size="9.6" text-anchor="middle" >Binding energy (eV)</text>
<text x="0" y="0" font-size="10.15" text-anchor="middle" transform="translate(236.4,288.7) rotate(-90)">Intensity (a.u)</text>
<text x="244.6" y="213.4" font-size="14.2" text-anchor="start" class="ser">(e)</text>
<text x="341.6" y="212.8" font-size="9.6305" text-anchor="middle" >N 1s</text>
<text x="286.4" y="256.3" font-size="9.373" text-anchor="middle" >C=N/Pyridinic-N</text>
<text x="286.7" y="268.3" font-size="9.836500000000001" text-anchor="middle" >(399.49 eV)</text>
<text x="384.7" y="267.1" font-size="9.785" text-anchor="middle" >Zn-N</text>
<text x="384.8" y="279.4" font-size="9.5275" text-anchor="middle" >(398.86 eV)</text>
<text x="275.9" y="326.2" font-size="9.7335" text-anchor="middle" >N-C/Pyrrolic-N</text>
<text x="275.8" y="337.8" font-size="9.7335" text-anchor="middle" >(400.95 eV)</text>
<path d="M470.8,358.1L471.3,357.7L471.8,357.4L472.3,357.0L472.8,356.6L473.3,356.2L473.8,355.7L474.3,355.2L474.8,354.7L475.3,354.1L475.8,353.6L476.3,353.2L476.8,353.0L477.3,352.9L477.8,352.8L478.3,352.8L478.8,352.7L479.3,352.7L479.8,352.7L480.3,352.6L480.8,352.6L481.3,352.6L481.8,352.6L482.3,352.5L482.8,352.5L483.3,352.5L483.8,352.5L484.3,352.5L484.8,352.5L485.3,352.4L485.8,352.4L486.3,352.4L486.8,352.4L487.3,352.4L487.8,352.4L488.3,352.4L488.8,352.3L489.3,352.3L489.8,352.3L490.3,352.3L490.8,352.3L491.3,352.2L491.8,352.2L492.3,352.2L492.8,352.2L493.3,352.2L493.8,352.1L494.3,352.1L494.8,352.1L495.3,352.1L495.8,352.1L496.3,352.0L496.8,352.0L497.3,352.0L497.8,352.0L498.3,352.0L498.8,352.0L499.3,351.9L499.8,351.9L500.3,351.9L500.8,351.9L501.3,351.9L501.8,351.8L502.3,351.8L502.8,351.8L503.3,351.8L503.8,351.8L504.3,351.8L504.8,351.7L505.3,351.7L505.8,351.7L506.3,351.7L506.8,351.7L507.3,351.6L507.8,351.6L508.3,351.6L508.8,351.6L509.3,351.6L509.8,351.6L510.3,351.5L510.8,351.5L511.3,351.5L511.8,351.5L512.3,351.5L512.8,351.4L513.3,351.4L513.8,351.4L514.3,351.4L514.8,351.3L515.3,351.3L515.8,351.3L516.3,351.3L516.8,351.3L517.3,351.2L517.8,351.2L518.3,351.2L518.8,351.2L519.3,351.1L519.8,351.1L520.3,351.1L520.8,351.0L521.3,351.0L521.8,351.0L522.3,351.0L522.8,350.9L523.3,350.9L523.8,350.9L524.3,350.8L524.8,350.8L525.3,350.8L525.8,350.7L526.3,350.7L526.8,350.7L527.3,350.6L527.8,350.6L528.3,350.6L528.8,350.5L529.3,350.5L529.8,350.5L530.3,350.4L530.8,350.4L531.3,350.3L531.8,350.3L532.3,350.3L532.8,350.2L533.3,350.2L533.8,350.2L534.3,350.1L534.8,350.1L535.3,350.1L535.8,350.0L536.3,350.0L536.8,350.0L537.3,350.0L537.8,349.9L538.3,349.9L538.8,349.9L539.3,349.8L539.8,349.8L540.3,349.8L540.8,349.8L541.3,349.7L541.8,349.7L542.3,349.7L542.8,349.7L543.3,349.6L543.8,349.6L544.3,349.6L544.8,349.6L545.3,349.5L545.8,349.5L546.3,349.5L546.8,349.5L547.3,349.5L547.8,349.4L548.3,349.4L548.8,349.4L549.3,349.4L549.8,349.3L550.3,349.3L550.8,349.3L551.3,349.3L551.8,349.3L552.3,349.2L552.8,349.2L553.3,349.2L553.8,349.2L554.3,349.2L554.8,349.2L555.3,349.1L555.8,349.1L556.3,349.1L556.8,349.1L557.3,349.1L557.8,349.0L558.3,349.0L558.8,349.0L559.3,349.0L559.8,349.0L560.3,348.9L560.8,348.9L561.3,348.9L561.8,348.9L562.3,348.9L562.8,348.8L563.3,348.8L563.8,348.8L564.3,348.8L564.8,348.8L565.3,348.7L565.8,348.7L566.3,348.7L566.8,348.7L567.3,348.7L567.8,348.6L568.3,348.6L568.8,348.6L569.3,348.6L569.8,348.6L570.3,348.5L570.8,348.5L571.3,348.5L571.8,348.5L572.3,348.4L572.8,348.4L573.3,348.4L573.8,348.4L574.3,348.3L574.8,348.3L575.3,348.3L575.8,348.3L576.3,348.2L576.8,348.2L577.3,348.2L577.8,348.1L578.3,348.1L578.8,348.1L579.3,348.0L579.8,348.0L580.3,348.0L580.8,347.9L581.3,347.9L581.8,347.9L582.3,347.8L582.8,347.8L583.3,347.7L583.8,347.7L584.3,347.6L584.8,347.6L585.3,347.6L585.8,347.5L586.3,347.4L586.8,347.4L587.3,347.3L587.8,347.3L588.3,347.2L588.8,347.2L589.3,347.1L589.8,347.1L590.3,347.0L590.8,346.9L591.3,346.9L591.8,346.8L592.3,346.8L592.8,346.7L593.3,346.7L593.8,346.6L594.3,346.6L594.8,346.5L595.3,346.4L595.8,346.4L596.3,346.3L596.8,346.3L597.3,346.2L597.8,346.2L598.3,346.1L598.8,346.1L599.3,346.1L599.8,346.0L600.3,346.0L600.8,345.9L601.3,345.9L601.8,345.9L602.3,345.8L602.8,345.8L603.3,345.7L603.8,345.7L604.3,345.7L604.8,345.6L605.3,345.6L605.8,345.5L606.3,345.5L606.8,345.5L607.3,345.4L607.8,345.4L608.3,345.3L608.8,345.3L609.3,345.3L609.8,345.2L610.3,345.2L610.8,345.2L611.3,345.1L611.8,345.1L612.3,345.0L612.8,345.0L613.3,345.0L613.8,344.9L614.3,344.9L614.8,344.9L615.3,344.8L615.8,344.8L616.3,344.8L616.8,344.7L617.3,344.7L617.8,344.7L618.3,344.6L618.8,344.6L619.3,344.6L619.8,344.5L620.3,344.5L620.8,344.5L621.3,344.5L621.8,344.4L622.3,344.4L622.8,344.4L623.3,344.4L623.8,344.3L624.3,344.3L624.8,344.3L625.3,344.3L625.8,344.2L626.3,344.2L626.8,344.2L627.3,344.2L627.8,344.2L628.3,344.2L628.8,344.1L629.3,344.1L629.8,344.1L630.3,344.1L630.8,344.1L631.3,344.1L631.8,344.1L632.3,344.1L632.8,344.1L633.3,344.0L633.8,344.0L634.3,344.0L634.8,344.0L635.3,344.0L635.8,344.0L636.3,344.0L636.8,344.0L637.3,344.0L637.8,344.0L638.3,344.0L638.8,344.0L639.3,343.9L639.8,343.9L640.3,343.9L640.8,343.9L641.3,343.9L641.8,343.9L642.3,343.8L642.8,343.8L643.3,343.8L643.8,343.8L644.3,343.7L644.8,343.7L645.3,343.7L645.8,343.6L646.3,343.4L646.8,343.2L647.3,343.0L647.8,342.8L648.3,342.5L648.8,342.2L649.3,341.9L649.8,341.6L650.3,341.3L650.8,340.9L651.3,340.4L651.8,339.9L652.3,339.3L652.8,338.8L653.3,338.2L653.8,337.7L654.3,337.3L654.8,337.1L655.3,336.9L655.8,336.9L656.3,337.0L656.8,337.1L657.3,337.2L657.8,337.4L658.3,337.5L658.8,337.7L659.3,337.9L659.8,338.1L660.3,338.3L660.8,338.4L661.3,338.6L661.8,338.7L662.3,338.9L662.8,339.0L663.3,339.2L663.8,339.3L664.3,339.5L664.8,339.6L665.3,339.7L665.8,339.8L666.3,339.9L666.8,340.0L667.3,340.0L667.8,340.0L668.3,340.0L668.8,339.9L669.3,339.8L669.8,339.7L670.3,339.6L670.8,339.5L671.3,339.4L671.8,339.2L672.3,339.1L672.8,339.0L673.3,338.9L673.8,338.7L674.3,338.5L674.8,338.4L675.3,338.2L675.8,338.0L676.3,337.8" fill="none" stroke="#389a38" stroke-width="1.3" stroke-linejoin="round" stroke-linecap="round" />
<path d="M470.8,355.2L471.3,354.7L471.8,354.3L472.3,353.9L472.8,353.4L473.3,352.9L473.8,352.4L474.3,351.9L474.8,351.2L475.3,350.6L475.8,350.1L476.3,349.6L476.8,349.2L477.3,349.1L477.8,349.0L478.3,348.8L478.8,348.7L479.3,348.6L479.8,348.5L480.3,348.3L480.8,348.2L481.3,348.1L481.8,348.0L482.3,347.9L482.8,347.7L483.3,347.6L483.8,347.5L484.3,347.4L484.8,347.2L485.3,347.1L485.8,347.0L486.3,346.8L486.8,346.7L487.3,346.6L487.8,346.4L488.3,346.3L488.8,346.1L489.3,345.9L489.8,345.8L490.3,345.6L490.8,345.4L491.3,345.3L491.8,345.1L492.3,344.9L492.8,344.7L493.3,344.5L493.8,344.3L494.3,344.1L494.8,343.9L495.3,343.7L495.8,343.5L496.3,343.3L496.8,343.1L497.3,342.9L497.8,342.7L498.3,342.4L498.8,342.2L499.3,342.0L499.8,341.7L500.3,341.5L500.8,341.2L501.3,341.0L501.8,340.7L502.3,340.5L502.8,340.2L503.3,339.9L503.8,339.6L504.3,339.4L504.8,339.1L505.3,338.8L505.8,338.5L506.3,338.2L506.8,337.9L507.3,337.6L507.8,337.3L508.3,337.0L508.8,336.6L509.3,336.3L509.8,336.0L510.3,335.6L510.8,335.3L511.3,335.0L511.8,334.6L512.3,334.3L512.8,333.9L513.3,333.5L513.8,333.2L514.3,332.8L514.8,332.4L515.3,332.0L515.8,331.6L516.3,331.2L516.8,330.8L517.3,330.4L517.8,330.0L518.3,329.6L518.8,329.2L519.3,328.8L519.8,328.4L520.3,327.9L520.8,327.5L521.3,327.1L521.8,326.6L522.3,326.2L522.8,325.7L523.3,325.3L523.8,324.8L524.3,324.4L524.8,323.9L525.3,323.4L525.8,323.0L526.3,322.5L526.8,322.0L527.3,321.5L527.8,321.1L528.3,320.6L528.8,320.1L529.3,319.6L529.8,319.1L530.3,318.6L530.8,318.2L531.3,317.7L531.8,317.2L532.3,316.7L532.8,316.2L533.3,315.7L533.8,315.2L534.3,314.7L534.8,314.3L535.3,313.8L535.8,313.3L536.3,312.8L536.8,312.3L537.3,311.8L537.8,311.4L538.3,310.9L538.8,310.4L539.3,310.0L539.8,309.5L540.3,309.0L540.8,308.6L541.3,308.1L541.8,307.7L542.3,307.2L542.8,306.8L543.3,306.3L543.8,305.9L544.3,305.5L544.8,305.1L545.3,304.7L545.8,304.2L546.3,303.8L546.8,303.4L547.3,303.1L547.8,302.7L548.3,302.3L548.8,301.9L549.3,301.6L549.8,301.2L550.3,300.9L550.8,300.5L551.3,300.2L551.8,299.9L552.3,299.6L552.8,299.3L553.3,299.0L553.8,298.7L554.3,298.5L554.8,298.2L555.3,298.0L555.8,297.7L556.3,297.5L556.8,297.3L557.3,297.1L557.8,296.9L558.3,296.7L558.8,296.5L559.3,296.4L559.8,296.2L560.3,296.1L560.8,296.0L561.3,295.9L561.8,295.8L562.3,295.7L562.8,295.6L563.3,295.6L563.8,295.5L564.3,295.5L564.8,295.5L565.3,295.5L565.8,295.5L566.3,295.5L566.8,295.5L567.3,295.6L567.8,295.6L568.3,295.7L568.8,295.8L569.3,295.9L569.8,296.0L570.3,296.1L570.8,296.2L571.3,296.4L571.8,296.5L572.3,296.7L572.8,296.9L573.3,297.0L573.8,297.2L574.3,297.4L574.8,297.6L575.3,297.9L575.8,298.1L576.3,298.3L576.8,298.6L577.3,298.9L577.8,299.1L578.3,299.4L578.8,299.7L579.3,300.0L579.8,300.3L580.3,300.6L580.8,300.9L581.3,301.2L581.8,301.5L582.3,301.9L582.8,302.2L583.3,302.5L583.8,302.9L584.3,303.2L584.8,303.6L585.3,303.9L585.8,304.3L586.3,304.7L586.8,305.0L587.3,305.4L587.8,305.8L588.3,306.1L588.8,306.5L589.3,306.9L589.8,307.3L590.3,307.6L590.8,308.0L591.3,308.4L591.8,308.8L592.3,309.2L592.8,309.6L593.3,310.0L593.8,310.4L594.3,310.8L594.8,311.2L595.3,311.6L595.8,312.0L596.3,312.4L596.8,312.8L597.3,313.2L597.8,313.6L598.3,314.0L598.8,314.4L599.3,314.8L599.8,315.2L600.3,315.6L600.8,316.1L601.3,316.5L601.8,316.9L602.3,317.3L602.8,317.7L603.3,318.1L603.8,318.4L604.3,318.8L604.8,319.2L605.3,319.6L605.8,320.0L606.3,320.4L606.8,320.8L607.3,321.1L607.8,321.5L608.3,321.9L608.8,322.2L609.3,322.6L609.8,323.0L610.3,323.3L610.8,323.7L611.3,324.0L611.8,324.4L612.3,324.7L612.8,325.0L613.3,325.4L613.8,325.7L614.3,326.0L614.8,326.4L615.3,326.7L615.8,327.0L616.3,327.3L616.8,327.6L617.3,327.9L617.8,328.2L618.3,328.5L618.8,328.8L619.3,329.1L619.8,329.4L620.3,329.6L620.8,329.9L621.3,330.2L621.8,330.4L622.3,330.7L622.8,331.0L623.3,331.2L623.8,331.5L624.3,331.7L624.8,332.0L625.3,332.2L625.8,332.4L626.3,332.7L626.8,332.9L627.3,333.1L627.8,333.3L628.3,333.5L628.8,333.8L629.3,334.0L629.8,334.2L630.3,334.4L630.8,334.6L631.3,334.8L631.8,335.0L632.3,335.2L632.8,335.4L633.3,335.5L633.8,335.7L634.3,335.9L634.8,336.1L635.3,336.2L635.8,336.4L636.3,336.6L636.8,336.7L637.3,336.9L637.8,337.0L638.3,337.2L638.8,337.3L639.3,337.4L639.8,337.6L640.3,337.7L640.8,337.8L641.3,337.9L641.8,338.0L642.3,338.2L642.8,338.3L643.3,338.4L643.8,338.4L644.3,338.5L644.8,338.6L645.3,338.7L645.8,338.7L646.3,338.7L646.8,338.6L647.3,338.4L647.8,338.3L648.3,338.1L648.8,337.9L649.3,337.7L649.8,337.5L650.3,337.3L650.8,337.0L651.3,336.6L651.8,336.1L652.3,335.6L652.8,335.1L653.3,334.7L653.8,334.2L654.3,333.9L654.8,333.7L655.3,333.6L655.8,333.7L656.3,333.8L656.8,334.0L657.3,334.2L657.8,334.4L658.3,334.6L658.8,334.9L659.3,335.1L659.8,335.3L660.3,335.6L660.8,335.8L661.3,335.9L661.8,336.1L662.3,336.3L662.8,336.5L663.3,336.7L663.8,336.9L664.3,337.1L664.8,337.3L665.3,337.4L665.8,337.6L666.3,337.7L666.8,337.8L667.3,337.8L667.8,337.9L668.3,337.9L668.8,337.8L669.3,337.8L669.8,337.7L670.3,337.6L670.8,337.5L671.3,337.4L671.8,337.3L672.3,337.3L672.8,337.2L673.3,337.0L673.8,336.9L674.3,336.8L674.8,336.6L675.3,336.5L675.8,336.3L676.3,336.1" fill="none" stroke="#86192e" stroke-width="1.3" stroke-linejoin="round" stroke-linecap="round" />
<path d="M470.8,357.9L471.3,357.5L471.8,357.1L472.3,356.7L472.8,356.3L473.3,355.9L473.8,355.5L474.3,354.9L474.8,354.4L475.3,353.8L475.8,353.3L476.3,352.9L476.8,352.7L477.3,352.6L477.8,352.5L478.3,352.5L478.8,352.4L479.3,352.4L479.8,352.4L480.3,352.3L480.8,352.3L481.3,352.3L481.8,352.2L482.3,352.2L482.8,352.2L483.3,352.2L483.8,352.2L484.3,352.1L484.8,352.1L485.3,352.1L485.8,352.1L486.3,352.1L486.8,352.1L487.3,352.0L487.8,352.0L488.3,352.0L488.8,352.0L489.3,352.0L489.8,351.9L490.3,351.9L490.8,351.9L491.3,351.9L491.8,351.9L492.3,351.8L492.8,351.8L493.3,351.8L493.8,351.8L494.3,351.7L494.8,351.7L495.3,351.7L495.8,351.7L496.3,351.6L496.8,351.6L497.3,351.6L497.8,351.6L498.3,351.6L498.8,351.5L499.3,351.5L499.8,351.5L500.3,351.5L500.8,351.4L501.3,351.4L501.8,351.4L502.3,351.4L502.8,351.4L503.3,351.3L503.8,351.3L504.3,351.3L504.8,351.3L505.3,351.2L505.8,351.2L506.3,351.2L506.8,351.2L507.3,351.1L507.8,351.1L508.3,351.1L508.8,351.1L509.3,351.0L509.8,351.0L510.3,351.0L510.8,351.0L511.3,350.9L511.8,350.9L512.3,350.9L512.8,350.9L513.3,350.8L513.8,350.8L514.3,350.8L514.8,350.8L515.3,350.7L515.8,350.7L516.3,350.7L516.8,350.6L517.3,350.6L517.8,350.6L518.3,350.5L518.8,350.5L519.3,350.5L519.8,350.4L520.3,350.4L520.8,350.4L521.3,350.3L521.8,350.3L522.3,350.3L522.8,350.2L523.3,350.2L523.8,350.1L524.3,350.1L524.8,350.0L525.3,350.0L525.8,350.0L526.3,349.9L526.8,349.9L527.3,349.8L527.8,349.8L528.3,349.7L528.8,349.7L529.3,349.6L529.8,349.6L530.3,349.6L530.8,349.5L531.3,349.5L531.8,349.4L532.3,349.4L532.8,349.3L533.3,349.3L533.8,349.2L534.3,349.2L534.8,349.1L535.3,349.1L535.8,349.0L536.3,349.0L536.8,348.9L537.3,348.9L537.8,348.8L538.3,348.8L538.8,348.7L539.3,348.7L539.8,348.6L540.3,348.5L540.8,348.5L541.3,348.4L541.8,348.4L542.3,348.3L542.8,348.2L543.3,348.2L543.8,348.1L544.3,348.0L544.8,348.0L545.3,347.9L545.8,347.8L546.3,347.7L546.8,347.7L547.3,347.6L547.8,347.5L548.3,347.4L548.8,347.3L549.3,347.2L549.8,347.1L550.3,346.9L550.8,346.8L551.3,346.7L551.8,346.5L552.3,346.4L552.8,346.2L553.3,346.1L553.8,345.9L554.3,345.7L554.8,345.5L555.3,345.3L555.8,345.0L556.3,344.8L556.8,344.5L557.3,344.3L557.8,344.0L558.3,343.7L558.8,343.4L559.3,343.0L559.8,342.7L560.3,342.3L560.8,341.9L561.3,341.5L561.8,341.0L562.3,340.6L562.8,340.1L563.3,339.5L563.8,339.0L564.3,338.4L564.8,337.8L565.3,337.2L565.8,336.5L566.3,335.8L566.8,335.1L567.3,334.3L567.8,333.5L568.3,332.7L568.8,331.8L569.3,330.9L569.8,330.0L570.3,329.0L570.8,328.0L571.3,326.9L571.8,325.8L572.3,324.7L572.8,323.5L573.3,322.3L573.8,321.0L574.3,319.7L574.8,318.4L575.3,317.0L575.8,315.6L576.3,314.2L576.8,312.7L577.3,311.2L577.8,309.6L578.3,308.1L578.8,306.4L579.3,304.8L579.8,303.1L580.3,301.4L580.8,299.7L581.3,297.9L581.8,296.2L582.3,294.4L582.8,292.6L583.3,290.7L583.8,288.9L584.3,287.1L584.8,285.2L585.3,283.4L585.8,281.5L586.3,279.7L586.8,277.8L587.3,276.0L587.8,274.2L588.3,272.4L588.8,270.6L589.3,268.9L589.8,267.2L590.3,265.5L590.8,263.9L591.3,262.3L591.8,260.8L592.3,259.3L592.8,257.9L593.3,256.5L593.8,255.2L594.3,253.9L594.8,252.8L595.3,251.7L595.8,250.6L596.3,249.7L596.8,248.8L597.3,248.1L597.8,247.4L598.3,246.8L598.8,246.3L599.3,245.9L599.8,245.6L600.3,245.4L600.8,245.3L601.3,245.3L601.8,245.4L602.3,245.6L602.8,245.8L603.3,246.2L603.8,246.7L604.3,247.2L604.8,247.9L605.3,248.6L605.8,249.4L606.3,250.3L606.8,251.3L607.3,252.3L607.8,253.5L608.3,254.6L608.8,255.9L609.3,257.2L609.8,258.6L610.3,260.0L610.8,261.5L611.3,263.0L611.8,264.6L612.3,266.2L612.8,267.8L613.3,269.5L613.8,271.2L614.3,272.9L614.8,274.6L615.3,276.3L615.8,278.1L616.3,279.9L616.8,281.6L617.3,283.4L617.8,285.2L618.3,286.9L618.8,288.7L619.3,290.4L619.8,292.1L620.3,293.9L620.8,295.6L621.3,297.2L621.8,298.9L622.3,300.5L622.8,302.1L623.3,303.7L623.8,305.2L624.3,306.7L624.8,308.2L625.3,309.6L625.8,311.1L626.3,312.4L626.8,313.8L627.3,315.1L627.8,316.3L628.3,317.6L628.8,318.8L629.3,319.9L629.8,321.0L630.3,322.1L630.8,323.1L631.3,324.1L631.8,325.1L632.3,326.0L632.8,326.9L633.3,327.8L633.8,328.6L634.3,329.4L634.8,330.1L635.3,330.8L635.8,331.5L636.3,332.2L636.8,332.8L637.3,333.4L637.8,333.9L638.3,334.5L638.8,335.0L639.3,335.4L639.8,335.9L640.3,336.3L640.8,336.7L641.3,337.1L641.8,337.4L642.3,337.8L642.8,338.1L643.3,338.3L643.8,338.6L644.3,338.9L644.8,339.1L645.3,339.3L645.8,339.4L646.3,339.5L646.8,339.5L647.3,339.5L647.8,339.4L648.3,339.3L648.8,339.1L649.3,339.0L649.8,338.8L650.3,338.6L650.8,338.4L651.3,338.0L651.8,337.5L652.3,337.1L652.8,336.6L653.3,336.2L653.8,335.8L654.3,335.4L654.8,335.2L655.3,335.1L655.8,335.2L656.3,335.3L656.8,335.5L657.3,335.6L657.8,335.8L658.3,336.1L658.8,336.3L659.3,336.5L659.8,336.8L660.3,337.0L660.8,337.2L661.3,337.3L661.8,337.5L662.3,337.7L662.8,337.9L663.3,338.0L663.8,338.2L664.3,338.4L664.8,338.5L665.3,338.7L665.8,338.8L666.3,338.9L666.8,339.0L667.3,339.0L667.8,339.0L668.3,339.0L668.8,339.0L669.3,338.9L669.8,338.8L670.3,338.7L670.8,338.6L671.3,338.5L671.8,338.4L672.3,338.3L672.8,338.2L673.3,338.0L673.8,337.9L674.3,337.7L674.8,337.6L675.3,337.4L675.8,337.2L676.3,337.0" fill="none" stroke="#922a9c" stroke-width="1.3" stroke-linejoin="round" stroke-linecap="round" />
<path d="M470.8,355.1L471.3,354.7L471.8,354.3L472.3,353.9L472.8,353.5L473.3,353.0L473.8,352.6L474.3,352.1L474.8,351.6L475.3,351.0L475.8,350.4L476.3,349.8L476.8,349.1L477.3,348.4L477.8,347.6L478.3,346.8L478.8,345.9L479.3,345.0L479.8,344.0L480.3,343.0L480.8,341.9L481.3,340.8L481.8,339.7L482.3,338.6L482.8,337.6L483.3,336.6L483.8,335.6L484.3,334.7L484.8,334.0L485.3,333.3L485.8,332.8L486.3,332.4L486.8,332.1L487.3,332.0L487.8,332.0L488.3,332.2L488.8,332.4L489.3,332.7L489.8,333.1L490.3,333.5L490.8,334.0L491.3,334.6L491.8,335.1L492.3,335.7L492.8,336.3L493.3,336.8L493.8,337.4L494.3,337.8L494.8,338.3L495.3,338.7L495.8,339.0L496.3,339.2L496.8,339.3L497.3,339.3L497.8,339.2L498.3,339.0L498.8,338.7L499.3,338.3L499.8,337.9L500.3,337.3L500.8,336.8L501.3,336.2L501.8,335.5L502.3,334.9L502.8,334.2L503.3,333.5L503.8,332.8L504.3,332.1L504.8,331.4L505.3,330.8L505.8,330.2L506.3,329.7L506.8,329.1L507.3,328.7L507.8,328.3L508.3,328.0L508.8,327.8L509.3,327.7L509.8,327.7L510.3,327.8L510.8,327.9L511.3,328.1L511.8,328.4L512.3,328.6L512.8,329.0L513.3,329.3L513.8,329.6L514.3,329.8L514.8,330.1L515.3,330.2L515.8,330.3L516.3,330.4L516.8,330.3L517.3,330.1L517.8,329.8L518.3,329.4L518.8,328.8L519.3,328.2L519.8,327.4L520.3,326.6L520.8,325.7L521.3,324.8L521.8,323.7L522.3,322.7L522.8,321.6L523.3,320.5L523.8,319.4L524.3,318.4L524.8,317.3L525.3,316.2L525.8,315.2L526.3,314.3L526.8,313.3L527.3,312.5L527.8,311.8L528.3,311.1L528.8,310.5L529.3,310.1L529.8,309.7L530.3,309.6L530.8,309.5L531.3,309.6L531.8,309.9L532.3,310.3L532.8,310.9L533.3,311.6L533.8,312.4L534.3,313.3L534.8,314.2L535.3,315.3L535.8,316.3L536.3,317.4L536.8,318.4L537.3,319.5L537.8,320.5L538.3,321.4L538.8,322.3L539.3,323.1L539.8,323.8L540.3,324.3L540.8,324.7L541.3,325.0L541.8,325.0L542.3,324.9L542.8,324.5L543.3,324.0L543.8,323.1L544.3,322.1L544.8,320.8L545.3,319.3L545.8,317.7L546.3,315.9L546.8,314.1L547.3,312.3L547.8,310.4L548.3,308.5L548.8,306.7L549.3,305.0L549.8,303.3L550.3,301.8L550.8,300.2L551.3,298.7L551.8,297.2L552.3,295.6L552.8,294.0L553.3,292.4L553.8,290.7L554.3,289.1L554.8,287.4L555.3,285.7L555.8,284.0L556.3,282.4L556.8,280.8L557.3,279.3L557.8,277.8L558.3,276.5L558.8,275.3L559.3,274.2L559.8,273.2L560.3,272.3L560.8,271.5L561.3,270.8L561.8,270.1L562.3,269.4L562.8,268.8L563.3,268.2L563.8,267.6L564.3,267.1L564.8,266.6L565.3,266.2L565.8,265.8L566.3,265.5L566.8,265.1L567.3,264.8L567.8,264.5L568.3,264.3L568.8,264.0L569.3,263.8L569.8,263.6L570.3,263.4L570.8,263.1L571.3,262.8L571.8,262.6L572.3,262.3L572.8,262.0L573.3,261.7L573.8,261.3L574.3,261.0L574.8,260.7L575.3,260.3L575.8,260.0L576.3,259.6L576.8,259.2L577.3,258.8L577.8,258.4L578.3,257.9L578.8,257.3L579.3,256.6L579.8,255.7L580.3,254.7L580.8,253.6L581.3,252.3L581.8,250.8L582.3,249.1L582.8,247.2L583.3,245.2L583.8,243.0L584.3,240.7L584.8,238.3L585.3,235.9L585.8,233.7L586.3,231.6L586.8,229.8L587.3,228.3L587.8,227.0L588.3,225.9L588.8,225.0L589.3,224.3L589.8,223.7L590.3,223.2L590.8,222.8L591.3,222.4L591.8,222.1L592.3,221.8L592.8,221.5L593.3,221.2L593.8,221.0L594.3,220.7L594.8,220.5L595.3,220.3L595.8,220.1L596.3,219.9L596.8,219.8L597.3,219.6L597.8,219.6L598.3,219.5L598.8,219.5L599.3,219.5L599.8,219.6L600.3,219.7L600.8,219.8L601.3,220.0L601.8,220.2L602.3,220.5L602.8,220.9L603.3,221.3L603.8,221.8L604.3,222.4L604.8,223.0L605.3,223.7L605.8,224.5L606.3,225.4L606.8,226.3L607.3,227.2L607.8,228.1L608.3,229.0L608.8,229.9L609.3,230.9L609.8,231.8L610.3,232.8L610.8,233.9L611.3,235.1L611.8,236.4L612.3,237.8L612.8,239.3L613.3,241.0L613.8,242.8L614.3,244.9L614.8,247.1L615.3,249.4L615.8,251.9L616.3,254.3L616.8,256.7L617.3,258.9L617.8,261.0L618.3,262.8L618.8,264.4L619.3,265.7L619.8,266.7L620.3,267.6L620.8,268.4L621.3,269.1L621.8,269.9L622.3,270.7L622.8,271.7L623.3,272.9L623.8,274.2L624.3,275.7L624.8,277.3L625.3,279.1L625.8,281.1L626.3,283.3L626.8,285.6L627.3,288.1L627.8,290.8L628.3,293.5L628.8,296.4L629.3,299.2L629.8,302.1L630.3,304.9L630.8,307.5L631.3,310.1L631.8,312.5L632.3,314.6L632.8,316.6L633.3,318.4L633.8,320.1L634.3,321.8L634.8,323.4L635.3,325.0L635.8,326.6L636.3,328.2L636.8,330.0L637.3,331.8L637.8,333.6L638.3,335.4L638.8,337.1L639.3,338.7L639.8,340.3L640.3,341.7L640.8,342.9L641.3,343.9L641.8,344.7L642.3,345.2L642.8,345.5L643.3,345.5L643.8,345.5L644.3,345.3L644.8,345.0L645.3,344.7L645.8,344.4L646.3,344.1L646.8,343.7L647.3,343.2L647.8,342.7L648.3,342.1L648.8,341.5L649.3,340.9L649.8,340.3L650.3,339.7L650.8,339.2L651.3,338.8L651.8,338.4L652.3,338.1L652.8,337.9L653.3,337.7L653.8,337.6L654.3,337.5L654.8,337.5L655.3,337.5L655.8,337.5L656.3,337.6L656.8,337.7L657.3,337.8L657.8,337.9L658.3,338.0L658.8,338.1L659.3,338.3L659.8,338.4L660.3,338.6L660.8,338.7L661.3,338.9L661.8,339.0L662.3,339.2L662.8,339.3L663.3,339.5L663.8,339.6L664.3,339.7L664.8,339.8L665.3,339.9L665.8,339.9L666.3,340.0L666.8,340.0L667.3,340.0L667.8,340.0L668.3,339.9L668.8,339.9L669.3,339.8L669.8,339.6L670.3,339.5L670.8,339.4L671.3,339.2L671.8,339.1L672.3,338.9L672.8,338.7L673.3,338.5L673.8,338.4L674.3,338.2L674.8,338.0L675.3,337.8L675.8,337.6L676.3,337.4" fill="none" stroke="#28289a" stroke-width="1.2" stroke-linejoin="round" stroke-linecap="round" />
<path d="M470.8,355.5L471.3,354.6L471.8,353.8L472.3,353.0L472.8,352.3L473.3,351.6L473.8,350.9L474.3,350.4L474.8,349.8L475.3,349.4L475.8,349.0L476.3,348.6L476.8,348.4L477.3,348.2L477.8,348.0L478.3,347.9L478.8,347.8L479.3,347.7L479.8,347.6L480.3,347.6L480.8,347.5L481.3,347.4L481.8,347.3L482.3,347.2L482.8,347.0L483.3,346.9L483.8,346.8L484.3,346.7L484.8,346.5L485.3,346.4L485.8,346.2L486.3,346.1L486.8,345.9L487.3,345.7L487.8,345.5L488.3,345.4L488.8,345.2L489.3,345.0L489.8,344.8L490.3,344.6L490.8,344.4L491.3,344.1L491.8,343.9L492.3,343.7L492.8,343.5L493.3,343.2L493.8,343.0L494.3,342.8L494.8,342.5L495.3,342.3L495.8,342.0L496.3,341.8L496.8,341.5L497.3,341.3L497.8,341.0L498.3,340.8L498.8,340.5L499.3,340.2L499.8,340.0L500.3,339.7L500.8,339.5L501.3,339.2L501.8,339.0L502.3,338.7L502.8,338.4L503.3,338.2L503.8,337.9L504.3,337.7L504.8,337.4L505.3,337.2L505.8,336.9L506.3,336.7L506.8,336.4L507.3,336.2L507.8,335.9L508.3,335.7L508.8,335.4L509.3,335.2L509.8,334.9L510.3,334.6L510.8,334.3L511.3,334.1L511.8,333.8L512.3,333.5L512.8,333.2L513.3,332.9L513.8,332.6L514.3,332.3L514.8,332.0L515.3,331.6L515.8,331.3L516.3,330.9L516.8,330.6L517.3,330.2L517.8,329.8L518.3,329.5L518.8,329.1L519.3,328.7L519.8,328.3L520.3,327.8L520.8,327.4L521.3,327.0L521.8,326.5L522.3,326.1L522.8,325.6L523.3,325.1L523.8,324.7L524.3,324.2L524.8,323.7L525.3,323.2L525.8,322.7L526.3,322.2L526.8,321.7L527.3,321.1L527.8,320.6L528.3,320.1L528.8,319.5L529.3,319.0L529.8,318.4L530.3,317.8L530.8,317.3L531.3,316.7L531.8,316.1L532.3,315.5L532.8,315.0L533.3,314.4L533.8,313.8L534.3,313.2L534.8,312.6L535.3,312.0L535.8,311.4L536.3,310.8L536.8,310.1L537.3,309.5L537.8,308.9L538.3,308.3L538.8,307.7L539.3,307.1L539.8,306.4L540.3,305.8L540.8,305.2L541.3,304.6L541.8,304.0L542.3,303.4L542.8,302.8L543.3,302.2L543.8,301.6L544.3,301.0L544.8,300.4L545.3,299.8L545.8,299.2L546.3,298.7L546.8,298.1L547.3,297.5L547.8,297.0L548.3,296.4L548.8,295.9L549.3,295.4L549.8,294.9L550.3,294.4L550.8,293.9L551.3,293.4L551.8,292.9L552.3,292.4L552.8,292.0L553.3,291.6L553.8,291.1L554.3,290.7L554.8,290.3L555.3,289.9L555.8,289.5L556.3,289.1L556.8,288.6L557.3,288.2L557.8,287.8L558.3,287.3L558.8,286.8L559.3,286.3L559.8,285.8L560.3,285.3L560.8,284.7L561.3,284.1L561.8,283.5L562.3,282.9L562.8,282.2L563.3,281.4L563.8,280.7L564.3,279.9L564.8,279.0L565.3,278.2L565.8,277.4L566.3,276.5L566.8,275.6L567.3,274.7L567.8,273.9L568.3,273.0L568.8,272.2L569.3,271.3L569.8,270.5L570.3,269.7L570.8,268.9L571.3,268.2L571.8,267.4L572.3,266.6L572.8,265.8L573.3,265.0L573.8,264.2L574.3,263.4L574.8,262.5L575.3,261.6L575.8,260.6L576.3,259.6L576.8,258.5L577.3,257.4L577.8,256.2L578.3,255.0L578.8,253.8L579.3,252.5L579.8,251.2L580.3,249.8L580.8,248.4L581.3,247.1L581.8,245.7L582.3,244.2L582.8,242.8L583.3,241.4L583.8,240.0L584.3,238.6L584.8,237.2L585.3,235.8L585.8,234.5L586.3,233.2L586.8,231.9L587.3,230.6L587.8,229.4L588.3,228.2L588.8,227.1L589.3,226.0L589.8,225.0L590.3,224.0L590.8,223.1L591.3,222.3L591.8,221.5L592.3,220.8L592.8,220.2L593.3,219.7L593.8,219.2L594.3,218.8L594.8,218.4L595.3,218.1L595.8,217.9L596.3,217.7L596.8,217.6L597.3,217.5L597.8,217.5L598.3,217.5L598.8,217.6L599.3,217.7L599.8,217.9L600.3,218.1L600.8,218.4L601.3,218.7L601.8,219.1L602.3,219.5L602.8,220.0L603.3,220.6L603.8,221.2L604.3,221.9L604.8,222.8L605.3,223.7L605.8,224.7L606.3,225.7L606.8,226.9L607.3,228.1L607.8,229.4L608.3,230.8L608.8,232.2L609.3,233.8L609.8,235.3L610.3,237.0L610.8,238.7L611.3,240.4L611.8,242.2L612.3,244.0L612.8,245.9L613.3,247.7L613.8,249.6L614.3,251.5L614.8,253.3L615.3,255.1L615.8,256.9L616.3,258.7L616.8,260.4L617.3,262.1L617.8,263.7L618.3,265.3L618.8,266.9L619.3,268.4L619.8,269.9L620.3,271.4L620.8,272.8L621.3,274.3L621.8,275.8L622.3,277.2L622.8,278.7L623.3,280.2L623.8,281.7L624.3,283.2L624.8,284.7L625.3,286.2L625.8,287.7L626.3,289.2L626.8,290.7L627.3,292.2L627.8,293.7L628.3,295.2L628.8,296.7L629.3,298.2L629.8,299.7L630.3,301.2L630.8,302.6L631.3,304.1L631.8,305.5L632.3,306.9L632.8,308.2L633.3,309.6L633.8,310.9L634.3,312.2L634.8,313.4L635.3,314.6L635.8,315.7L636.3,316.8L636.8,317.9L637.3,318.9L637.8,319.8L638.3,320.7L638.8,321.6L639.3,322.4L639.8,323.3L640.3,324.0L640.8,324.8L641.3,325.5L641.8,326.2L642.3,326.9L642.8,327.6L643.3,328.3L643.8,329.0L644.3,329.6L644.8,330.2L645.3,330.7L645.8,331.2L646.3,331.5L646.8,331.8L647.3,332.0L647.8,332.0L648.3,331.9L648.8,331.8L649.3,331.5L649.8,331.2L650.3,330.9L650.8,330.6L651.3,330.3L651.8,330.1L652.3,329.8L652.8,329.7L653.3,329.5L653.8,329.4L654.3,329.3L654.8,329.3L655.3,329.3L655.8,329.4L656.3,329.5L656.8,329.6L657.3,329.8L657.8,330.0L658.3,330.3L658.8,330.5L659.3,330.8L659.8,331.2L660.3,331.5L660.8,331.9L661.3,332.2L661.8,332.6L662.3,333.0L662.8,333.4L663.3,333.8L663.8,334.1L664.3,334.5L664.8,334.8L665.3,335.2L665.8,335.4L666.3,335.7L666.8,335.9L667.3,336.1L667.8,336.2L668.3,336.3L668.8,336.3L669.3,336.3L669.8,336.3L670.3,336.2L670.8,336.2L671.3,336.1L671.8,336.0L672.3,336.0L672.8,335.9L673.3,335.8L673.8,335.8L674.3,335.7L674.8,335.7L675.3,335.6L675.8,335.6L676.3,335.5" fill="none" stroke="#1f9494" stroke-width="1.2" stroke-linejoin="round" stroke-linecap="round" />
<rect x="470.5" y="200.3" width="206.5" height="167.6" fill="none" stroke="#606060" stroke-width="1.3"/>
<line x1="469.9" y1="367.9" x2="677.6" y2="367.9" stroke="#454545" stroke-width="1.3"/>
<line x1="470.5" y1="367.9" x2="470.5" y2="371.3" stroke="#454545" stroke-width="1.1"/>
<text x="470.5" y="380.4" font-size="7.9" text-anchor="middle" >167</text>
<line x1="496.3" y1="367.9" x2="496.3" y2="371.3" stroke="#454545" stroke-width="1.1"/>
<text x="496.3" y="380.4" font-size="7.9" text-anchor="middle" >166</text>
<line x1="522.0" y1="367.9" x2="522.0" y2="371.3" stroke="#454545" stroke-width="1.1"/>
<text x="522.0" y="380.4" font-size="7.9" text-anchor="middle" >165</text>
<line x1="547.8" y1="367.9" x2="547.8" y2="371.3" stroke="#454545" stroke-width="1.1"/>
<text x="547.8" y="380.4" font-size="7.9" text-anchor="middle" >164</text>
<line x1="573.6" y1="367.9" x2="573.6" y2="371.3" stroke="#454545" stroke-width="1.1"/>
<text x="573.6" y="380.4" font-size="7.9" text-anchor="middle" >163</text>
<line x1="599.4" y1="367.9" x2="599.4" y2="371.3" stroke="#454545" stroke-width="1.1"/>
<text x="599.4" y="380.4" font-size="7.9" text-anchor="middle" >162</text>
<line x1="625.1" y1="367.9" x2="625.1" y2="371.3" stroke="#454545" stroke-width="1.1"/>
<text x="625.1" y="380.4" font-size="7.9" text-anchor="middle" >161</text>
<line x1="650.9" y1="367.9" x2="650.9" y2="371.3" stroke="#454545" stroke-width="1.1"/>
<text x="650.9" y="380.4" font-size="7.9" text-anchor="middle" >160</text>
<line x1="676.7" y1="367.9" x2="676.7" y2="371.3" stroke="#454545" stroke-width="1.1"/>
<text x="676.7" y="380.4" font-size="7.9" text-anchor="middle" >159</text>
<line x1="483.4" y1="367.9" x2="483.4" y2="369.9" stroke="#454545" stroke-width="1.1"/>
<line x1="509.2" y1="367.9" x2="509.2" y2="369.9" stroke="#454545" stroke-width="1.1"/>
<line x1="534.9" y1="367.9" x2="534.9" y2="369.9" stroke="#454545" stroke-width="1.1"/>
<line x1="560.7" y1="367.9" x2="560.7" y2="369.9" stroke="#454545" stroke-width="1.1"/>
<line x1="586.5" y1="367.9" x2="586.5" y2="369.9" stroke="#454545" stroke-width="1.1"/>
<line x1="612.2" y1="367.9" x2="612.2" y2="369.9" stroke="#454545" stroke-width="1.1"/>
<line x1="638.0" y1="367.9" x2="638.0" y2="369.9" stroke="#454545" stroke-width="1.1"/>
<line x1="663.8" y1="367.9" x2="663.8" y2="369.9" stroke="#454545" stroke-width="1.1"/>
<text x="577.2" y="392.0" font-size="9.75" text-anchor="middle" >Binding energy (eV)</text>
<text x="0" y="0" font-size="10.15" text-anchor="middle" transform="translate(466.0,288.7) rotate(-90)">Intensity (a.u)</text>
<text x="473.6" y="213.2" font-size="14.2" text-anchor="start" class="ser">(f)</text>
<text x="597.2" y="213.5" font-size="9.682" text-anchor="middle" >S 2p</text>
<text x="638.5" y="231.1" font-size="9.785" text-anchor="middle" >S 2p 3/2</text>
<text x="638.8" y="242.9" font-size="9.836500000000001" text-anchor="middle" >(161.96 eV)</text>
<text x="520.4" y="284.2" font-size="9.888" text-anchor="middle" >S 2p 1/2</text>
<text x="520.2" y="295.7" font-size="9.991" text-anchor="middle" >(163.42 eV)</text>
<text x="403.2" y="96.2" font-size="9.5" text-anchor="start">Mo</text>
<text x="417.0" y="90.5" font-size="6" text-anchor="start">0</text>
</svg>
</body></html>
